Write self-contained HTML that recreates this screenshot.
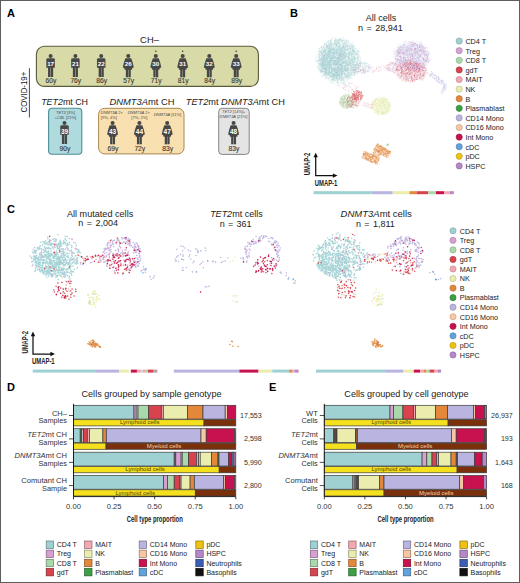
<!DOCTYPE html><html><head><meta charset="utf-8"><style>html,body{margin:0;padding:0;background:#fff;overflow:hidden;width:520px;height:583px;}svg{display:block;}</style></head><body><svg width="520" height="583" viewBox="0 0 520 583" font-family='"Liberation Sans", sans-serif'><text x="6.9" y="16.9" font-size="11" font-weight="bold" fill="#000">A</text>
<text x="290.0" y="16.6" font-size="11" font-weight="bold" fill="#000">B</text>
<text x="6.9" y="212.9" font-size="11" font-weight="bold" fill="#000">C</text>
<text x="6.9" y="390.5" font-size="11" font-weight="bold" fill="#000">D</text>
<text x="269.0" y="390.5" font-size="11" font-weight="bold" fill="#000">E</text>
<rect x="36.4" y="46.2" width="222.0" height="40.2" rx="8" fill="#d8daa8" stroke="#5a5b3a" stroke-width="1.1"/>
<text x="149.5" y="42.9" font-size="9.4" text-anchor="middle" fill="#222">CH–</text>
<g transform="translate(0,0)" fill="#474747"><circle cx="50.6" cy="55.95" r="2.0"/><path d="M46.35 67.7V59.6Q46.35 58.2 47.800000000000004 58.2H53.4Q54.85 58.2 54.85 59.6V67.7z"/><rect x="48.050000000000004" y="67" width="2.4" height="10.0"/><rect x="50.75" y="67" width="2.4" height="10.0"/></g>
<text x="50.6" y="66.48" font-size="6.2" text-anchor="middle" font-weight="bold" fill="#fff">17</text>
<text x="51.0" y="83.4" font-size="6.7" text-anchor="middle" fill="#383838" stroke="#383838" stroke-width="0.12">60y</text>
<g transform="translate(0,0)" fill="#474747"><circle cx="75.4" cy="55.95" r="2.0"/><path d="M71.15 67.7V59.6Q71.15 58.2 72.60000000000001 58.2H78.2Q79.65 58.2 79.65 59.6V67.7z"/><rect x="72.85000000000001" y="67" width="2.4" height="10.0"/><rect x="75.55000000000001" y="67" width="2.4" height="10.0"/></g>
<text x="75.4" y="66.48" font-size="6.2" text-anchor="middle" font-weight="bold" fill="#fff">21</text>
<text x="75.80000000000001" y="83.4" font-size="6.7" text-anchor="middle" fill="#383838" stroke="#383838" stroke-width="0.12">76y</text>
<g transform="translate(0,0)" fill="#474747"><circle cx="101.2" cy="55.95" r="2.0"/><path d="M96.95 67.7V59.6Q96.95 58.2 98.4 58.2H104.0Q105.45 58.2 105.45 59.6V67.7z"/><rect x="98.65" y="67" width="2.4" height="10.0"/><rect x="101.35000000000001" y="67" width="2.4" height="10.0"/></g>
<text x="101.2" y="66.48" font-size="6.2" text-anchor="middle" font-weight="bold" fill="#fff">22</text>
<text x="101.60000000000001" y="83.4" font-size="6.7" text-anchor="middle" fill="#383838" stroke="#383838" stroke-width="0.12">86y</text>
<g transform="translate(0,0)" fill="#474747"><ellipse cx="128.3" cy="55.95" rx="2.05" ry="2.0"/><polygon points="125.40,58.20 131.20,58.20 132.70,62.50 133.80,67.60 132.30,67.90 131.90,69.80 124.70,69.80 124.30,67.90 122.80,67.60 123.90,62.50"/><rect x="125.85000000000001" y="69" width="2.3" height="8.3"/><rect x="128.45000000000002" y="69" width="2.3" height="8.3"/></g>
<text x="128.3" y="66.48" font-size="6.2" text-anchor="middle" font-weight="bold" fill="#fff">26</text>
<text x="128.70000000000002" y="83.4" font-size="6.7" text-anchor="middle" fill="#383838" stroke="#383838" stroke-width="0.12">57y</text>
<g transform="translate(0,0)" fill="#474747"><ellipse cx="155.8" cy="55.95" rx="2.05" ry="2.0"/><polygon points="152.90,58.20 158.70,58.20 160.20,62.50 161.30,67.60 159.80,67.90 159.40,69.80 152.20,69.80 151.80,67.90 150.30,67.60 151.40,62.50"/><rect x="153.35000000000002" y="69" width="2.3" height="8.3"/><rect x="155.95000000000002" y="69" width="2.3" height="8.3"/></g>
<text x="155.8" y="66.48" font-size="6.2" text-anchor="middle" font-weight="bold" fill="#fff">30</text>
<text x="156.20000000000002" y="83.4" font-size="6.7" text-anchor="middle" fill="#383838" stroke="#383838" stroke-width="0.12">71y</text>
<circle cx="155.8" cy="51.2" r="0.75" fill="#333"/>
<g transform="translate(0,0)" fill="#474747"><ellipse cx="182.7" cy="55.95" rx="2.05" ry="2.0"/><polygon points="179.80,58.20 185.60,58.20 187.10,62.50 188.20,67.60 186.70,67.90 186.30,69.80 179.10,69.80 178.70,67.90 177.20,67.60 178.30,62.50"/><rect x="180.25" y="69" width="2.3" height="8.3"/><rect x="182.85" y="69" width="2.3" height="8.3"/></g>
<text x="182.7" y="66.48" font-size="6.2" text-anchor="middle" font-weight="bold" fill="#fff">31</text>
<text x="183.1" y="83.4" font-size="6.7" text-anchor="middle" fill="#383838" stroke="#383838" stroke-width="0.12">81y</text>
<circle cx="182.7" cy="51.2" r="0.75" fill="#333"/>
<g transform="translate(0,0)" fill="#474747"><ellipse cx="209.3" cy="55.95" rx="2.05" ry="2.0"/><polygon points="206.40,58.20 212.20,58.20 213.70,62.50 214.80,67.60 213.30,67.90 212.90,69.80 205.70,69.80 205.30,67.90 203.80,67.60 204.90,62.50"/><rect x="206.85000000000002" y="69" width="2.3" height="8.3"/><rect x="209.45000000000002" y="69" width="2.3" height="8.3"/></g>
<text x="209.3" y="66.48" font-size="6.2" text-anchor="middle" font-weight="bold" fill="#fff">32</text>
<text x="209.70000000000002" y="83.4" font-size="6.7" text-anchor="middle" fill="#383838" stroke="#383838" stroke-width="0.12">84y</text>
<g transform="translate(0,0)" fill="#474747"><ellipse cx="236.2" cy="55.95" rx="2.05" ry="2.0"/><polygon points="233.30,58.20 239.10,58.20 240.60,62.50 241.70,67.60 240.20,67.90 239.80,69.80 232.60,69.80 232.20,67.90 230.70,67.60 231.80,62.50"/><rect x="233.75" y="69" width="2.3" height="8.3"/><rect x="236.35" y="69" width="2.3" height="8.3"/></g>
<text x="236.2" y="66.48" font-size="6.2" text-anchor="middle" font-weight="bold" fill="#fff">33</text>
<text x="236.6" y="83.4" font-size="6.7" text-anchor="middle" fill="#383838" stroke="#383838" stroke-width="0.12">89y</text>
<circle cx="236.2" cy="51.2" r="0.75" fill="#333"/>
<line x1="29.4" y1="68.2" x2="29.4" y2="117.5" stroke="#333" stroke-width="0.9"/>
<text transform="translate(27.4,92.1) rotate(-90) scale(0.93,1)" font-size="8.4" text-anchor="middle" fill="#222">COVID-19+</text>
<text x="41.2" y="105.3" font-size="8.9" fill="#222"><tspan font-style="italic">TET2</tspan>mt CH</text>
<text x="109.4" y="104.5" font-size="9.4" fill="#222"><tspan font-style="italic">DNMT3A</tspan>mt CH</text>
<text x="185.8" y="104.5" font-size="9.2" fill="#222"><tspan font-style="italic">TET2</tspan>mt <tspan font-style="italic">DNMT3A</tspan>mt CH</text>
<rect x="48.6" y="108.3" width="33.2" height="46.0" rx="3.5" fill="#afdade" stroke="#4f8f96" stroke-width="1.1"/>
<rect x="98.6" y="108.3" width="85.4" height="45.6" rx="6" fill="#f9e0b0" stroke="#a8884f" stroke-width="1.0"/>
<rect x="218.7" y="108.3" width="30.5" height="46.1" rx="3.5" fill="#e4e4e4" stroke="#858585" stroke-width="1.0"/>
<text x="65.4" y="114.4" font-size="4.0" text-anchor="middle" fill="#4a4a4a"><tspan font-style="italic">TET2</tspan> [3%]</text>
<text x="65.4" y="119.0" font-size="4.0" text-anchor="middle" fill="#4a4a4a">+<tspan font-style="italic">CBL</tspan> [21%]</text>
<text x="100.8" y="114.1" font-size="4.0" text-anchor="start" fill="#4a4a4a"><tspan font-style="italic">DNMT3A</tspan> 2×</text>
<text x="100.8" y="118.7" font-size="4.0" text-anchor="start" fill="#4a4a4a">[9%, 4%]</text>
<text x="127.7" y="114.1" font-size="4.0" text-anchor="start" fill="#4a4a4a"><tspan font-style="italic">DNMT3A</tspan> 2×</text>
<text x="131.3" y="118.7" font-size="4.0" text-anchor="start" fill="#4a4a4a">[7%, 2%]</text>
<text x="153.7" y="115.8" font-size="4.0" text-anchor="start" fill="#4a4a4a"><tspan font-style="italic">DNMT3A</tspan> [11%]</text>
<text x="233.7" y="113.3" font-size="4.0" text-anchor="middle" fill="#4a4a4a"><tspan font-style="italic">TET2</tspan> [14%]+</text>
<text x="233.5" y="117.9" font-size="4.0" text-anchor="middle" fill="#4a4a4a"><tspan font-style="italic">DNMT3A</tspan> [21%]</text>
<g transform="translate(0,67.0)" fill="#474747"><circle cx="64.5" cy="55.95" r="2.0"/><path d="M60.25 67.7V59.6Q60.25 58.2 61.7 58.2H67.3Q68.75 58.2 68.75 59.6V67.7z"/><rect x="61.95" y="67" width="2.4" height="10.0"/><rect x="64.65" y="67" width="2.4" height="10.0"/></g>
<text x="64.5" y="133.59" font-size="6.5" text-anchor="middle" font-weight="bold" fill="#fff">39</text>
<text x="64.9" y="150.8" font-size="6.7" text-anchor="middle" fill="#383838" stroke="#383838" stroke-width="0.12">90y</text>
<g transform="translate(0,67.0)" fill="#474747"><ellipse cx="112.6" cy="55.95" rx="2.05" ry="2.0"/><polygon points="109.70,58.20 115.50,58.20 117.00,62.50 118.10,67.60 116.60,67.90 116.20,69.80 109.00,69.80 108.60,67.90 107.10,67.60 108.20,62.50"/><rect x="110.14999999999999" y="69" width="2.3" height="8.3"/><rect x="112.75" y="69" width="2.3" height="8.3"/></g>
<text x="112.6" y="133.59" font-size="6.5" text-anchor="middle" font-weight="bold" fill="#fff">43</text>
<text x="113.0" y="151" font-size="6.7" text-anchor="middle" fill="#383838" stroke="#383838" stroke-width="0.12">69y</text>
<g transform="translate(0,67.0)" fill="#474747"><ellipse cx="139.4" cy="55.95" rx="2.05" ry="2.0"/><polygon points="136.50,58.20 142.30,58.20 143.80,62.50 144.90,67.60 143.40,67.90 143.00,69.80 135.80,69.80 135.40,67.90 133.90,67.60 135.00,62.50"/><rect x="136.95000000000002" y="69" width="2.3" height="8.3"/><rect x="139.55" y="69" width="2.3" height="8.3"/></g>
<text x="139.4" y="133.59" font-size="6.5" text-anchor="middle" font-weight="bold" fill="#fff">44</text>
<text x="139.8" y="151" font-size="6.7" text-anchor="middle" fill="#383838" stroke="#383838" stroke-width="0.12">72y</text>
<g transform="translate(0,67.0)" fill="#474747"><ellipse cx="167.2" cy="55.95" rx="2.05" ry="2.0"/><polygon points="164.30,58.20 170.10,58.20 171.60,62.50 172.70,67.60 171.20,67.90 170.80,69.80 163.60,69.80 163.20,67.90 161.70,67.60 162.80,62.50"/><rect x="164.75" y="69" width="2.3" height="8.3"/><rect x="167.35" y="69" width="2.3" height="8.3"/></g>
<text x="167.2" y="133.59" font-size="6.5" text-anchor="middle" font-weight="bold" fill="#fff">47</text>
<text x="167.6" y="151" font-size="6.7" text-anchor="middle" fill="#383838" stroke="#383838" stroke-width="0.12">83y</text>
<g transform="translate(0,67.0)" fill="#474747"><ellipse cx="233.6" cy="55.95" rx="2.05" ry="2.0"/><polygon points="230.70,58.20 236.50,58.20 238.00,62.50 239.10,67.60 237.60,67.90 237.20,69.80 230.00,69.80 229.60,67.90 228.10,67.60 229.20,62.50"/><rect x="231.15" y="69" width="2.3" height="8.3"/><rect x="233.75" y="69" width="2.3" height="8.3"/></g>
<text x="233.6" y="133.59" font-size="6.5" text-anchor="middle" font-weight="bold" fill="#fff">48</text>
<text x="234.0" y="151" font-size="6.7" text-anchor="middle" fill="#383838" stroke="#383838" stroke-width="0.12">83y</text>
<path d="M315.8 60.9h0M335.1 37.9h0M334.6 77.7h0M324.3 67.2h0M342.5 55.1h0M347.7 56.7h0M342.9 58.0h0M353.6 70.9h0M342.3 61.8h0M350.3 49.4h0M320.7 59.9h0M347.1 74.4h0M343.3 64.7h0M327.5 54.5h0M324.8 59.7h0M331.8 64.0h0M333.0 55.2h0M318.1 53.3h0M325.8 52.5h0M336.8 59.7h0M326.3 53.5h0M352.4 62.2h0M329.8 46.0h0M354.8 73.1h0M339.4 52.9h0M331.6 45.8h0M346.3 76.2h0M351.3 59.3h0M353.3 51.7h0M341.0 41.1h0M327.9 46.9h0M326.2 56.2h0M321.7 59.1h0M341.4 51.4h0M341.6 47.3h0M352.5 60.9h0M344.3 60.8h0M348.4 58.0h0M347.2 75.4h0M321.2 56.9h0M330.3 44.5h0M344.9 61.1h0M352.8 48.4h0M342.1 71.0h0M330.3 63.3h0M328.5 74.1h0M338.5 43.6h0M350.4 63.2h0M337.2 83.3h0M354.8 56.9h0M355.6 54.9h0M333.6 52.5h0M326.0 42.8h0M327.3 47.0h0M336.4 42.5h0M340.9 47.1h0M328.7 53.0h0M332.4 59.2h0M323.2 60.7h0M324.8 65.0h0M351.3 68.8h0M357.9 54.7h0M338.7 78.1h0M355.2 64.9h0M347.9 70.6h0M345.0 67.1h0M351.2 60.7h0M350.3 45.0h0M337.4 70.1h0M344.5 68.0h0M328.5 64.1h0M348.3 69.7h0M336.4 77.3h0M335.9 48.4h0M358.9 59.8h0M328.3 41.6h0M329.1 78.4h0M351.4 78.3h0M327.7 53.8h0M334.8 48.7h0M339.1 44.2h0M341.0 72.0h0M350.4 57.9h0M345.9 49.3h0M330.5 49.9h0M328.3 63.5h0M359.3 60.3h0M326.1 64.2h0M351.3 55.9h0M339.7 54.0h0M319.3 60.7h0M325.6 55.2h0M339.6 70.1h0M349.9 68.2h0M336.3 63.2h0M346.0 50.2h0M325.8 67.7h0M358.2 59.2h0M347.4 56.3h0M347.9 44.6h0M350.8 60.8h0M333.0 45.4h0M332.3 53.9h0M354.5 74.5h0M326.0 73.5h0M330.3 48.5h0M344.5 48.0h0M329.1 48.7h0M332.7 47.4h0M338.2 83.0h0M352.5 66.1h0M329.3 53.2h0M341.2 51.4h0M349.3 57.7h0M334.2 66.8h0M341.9 53.8h0M323.1 47.2h0M329.6 55.0h0M338.9 46.4h0M337.2 77.3h0M357.3 57.8h0M343.4 66.8h0M331.8 41.7h0M325.9 65.7h0M347.6 44.0h0M341.1 67.8h0M321.3 70.8h0M327.4 50.4h0M328.9 64.0h0M331.5 44.6h0M334.6 77.3h0M358.1 58.4h0M331.9 60.7h0M327.4 61.6h0M333.6 78.7h0M339.4 54.4h0M325.5 72.3h0M343.6 63.1h0M328.6 56.3h0M334.7 68.8h0M338.0 46.6h0M352.8 58.3h0M337.1 39.9h0M338.8 51.0h0M345.5 53.1h0M333.1 76.1h0M352.1 57.5h0M325.9 67.8h0M342.9 69.1h0M324.4 64.9h0M323.3 67.0h0M341.7 52.6h0M340.1 55.6h0M323.1 66.2h0M345.8 77.0h0M328.7 50.0h0M336.7 73.2h0M326.5 63.3h0M353.3 61.7h0M351.1 51.4h0M329.7 46.8h0M350.0 64.2h0M323.7 66.9h0M348.4 67.5h0M331.5 77.2h0M355.2 67.4h0M323.4 51.0h0M349.6 53.6h0M335.2 74.8h0M338.0 60.1h0M327.4 45.5h0M353.2 67.2h0M333.4 55.0h0M338.6 54.2h0M324.8 58.4h0M351.5 73.8h0M330.7 51.4h0M321.6 57.3h0M342.6 40.9h0M328.3 71.2h0M329.6 61.7h0M322.9 67.7h0M323.5 54.6h0M333.3 75.8h0M338.5 67.4h0M320.1 65.9h0M342.3 73.6h0M324.6 72.2h0M352.5 71.0h0M347.7 67.9h0M328.9 67.2h0M334.4 75.3h0M345.1 47.4h0M336.2 66.9h0M346.4 75.1h0M340.7 42.7h0M361.1 61.5h0M342.3 62.7h0M339.1 67.8h0M339.6 55.8h0M323.6 70.2h0M334.4 70.9h0M326.5 46.0h0M354.0 54.8h0M345.4 58.9h0M345.6 77.2h0M336.9 49.7h0M325.9 56.6h0M325.4 50.1h0M334.8 67.7h0M352.7 52.4h0M340.1 73.2h0M358.1 63.4h0M338.1 60.4h0M336.9 63.8h0M356.0 53.9h0M344.9 52.0h0M331.6 59.2h0M352.4 45.3h0M334.5 63.3h0M327.9 77.7h0M338.7 48.5h0M329.8 50.9h0M342.9 67.6h0M344.1 68.8h0M345.0 70.8h0M347.8 45.4h0M336.3 74.3h0M326.1 50.1h0M329.2 56.9h0M323.8 42.2h0M325.3 72.8h0M356.7 72.6h0M345.1 71.5h0M346.2 77.2h0M328.8 72.5h0M357.0 59.8h0M331.5 68.1h0M334.3 54.5h0M348.9 77.7h0M343.7 50.5h0M334.5 65.0h0M324.9 66.1h0M336.7 45.1h0M351.4 75.8h0M324.8 64.7h0M358.2 61.6h0M343.1 44.2h0M322.1 71.1h0M330.6 61.5h0M337.8 64.0h0M352.8 56.6h0M341.4 80.0h0M343.5 55.1h0M333.0 57.8h0M347.6 49.9h0M321.5 46.8h0M345.1 58.0h0M355.1 59.3h0M349.5 63.3h0M330.0 43.1h0M347.1 45.3h0M327.5 47.8h0M354.2 52.1h0M322.4 57.1h0M324.1 64.2h0M344.1 60.3h0M323.4 66.4h0M354.5 64.9h0M337.3 80.0h0M321.3 53.7h0M349.3 54.3h0M338.2 61.2h0M324.3 43.8h0M325.7 77.2h0M339.7 71.1h0M357.4 71.9h0M319.2 60.2h0M320.4 64.3h0M332.8 56.3h0M352.7 52.0h0M330.0 57.1h0M334.5 67.5h0M345.3 76.7h0M326.5 69.9h0M325.7 61.6h0M336.8 62.3h0M333.7 49.4h0M344.1 64.2h0M323.2 71.5h0M341.0 66.4h0M328.8 47.0h0M339.1 54.4h0M325.1 63.5h0M352.4 42.6h0M357.5 57.3h0M332.8 57.3h0M330.9 69.7h0M350.7 73.3h0M337.2 75.5h0M334.3 75.4h0M344.0 54.2h0M332.9 63.4h0M329.4 75.6h0M338.5 57.6h0M341.8 60.4h0M352.5 62.5h0M339.4 61.4h0M332.8 53.0h0M339.8 39.4h0M333.4 63.7h0M335.4 67.0h0M330.5 62.1h0M355.2 61.2h0M338.8 44.1h0M345.2 65.9h0M334.0 75.6h0M356.0 65.0h0M323.0 60.4h0M326.5 68.2h0M339.7 77.5h0M352.4 51.2h0M331.0 43.1h0M330.8 57.9h0M354.7 50.2h0M325.3 54.7h0M337.7 75.9h0M321.8 53.1h0M355.2 52.7h0M322.7 49.1h0M326.7 78.1h0M335.6 78.2h0M321.0 52.8h0M331.7 47.2h0M339.2 62.7h0M352.4 54.5h0M342.0 50.6h0M329.3 69.0h0M341.7 53.2h0M327.3 55.4h0M347.7 69.1h0M334.0 68.9h0M345.1 43.8h0M323.0 50.2h0M349.6 47.6h0M347.9 52.6h0M333.0 73.5h0M334.8 61.1h0M348.9 76.6h0M340.8 47.4h0M331.2 55.9h0M347.2 46.7h0M339.3 57.6h0M330.9 50.0h0M354.7 63.0h0M321.5 69.2h0M336.5 74.5h0M323.0 71.1h0M331.5 43.1h0M341.8 40.0h0M335.1 44.2h0M325.8 47.2h0M328.1 44.0h0M329.6 43.9h0M329.3 53.6h0M331.8 77.9h0M334.5 52.0h0M321.3 49.8h0M341.7 52.5h0M344.1 49.8h0M328.2 52.3h0M331.9 64.7h0M340.0 63.9h0M325.8 59.9h0M324.5 64.3h0M339.2 65.1h0M333.0 43.2h0M341.7 74.9h0M323.8 50.0h0M330.4 74.3h0M341.0 76.4h0M322.8 57.7h0M342.7 40.2h0M341.3 49.5h0M340.5 70.4h0M320.6 60.6h0M354.8 69.9h0M337.3 42.6h0M333.0 80.1h0M358.7 65.2h0M321.6 53.2h0M342.4 54.6h0M326.8 48.6h0M326.3 64.1h0M341.6 74.7h0M352.6 67.5h0M331.5 49.0h0M328.5 74.3h0M339.0 67.6h0M341.1 55.6h0M330.2 51.2h0M337.6 53.5h0M324.9 52.6h0M335.7 64.1h0M328.7 72.4h0M342.8 38.5h0M352.6 56.7h0M327.0 47.8h0M324.1 55.2h0M343.8 79.6h0M357.7 52.2h0M322.5 62.4h0M329.6 73.6h0M333.6 69.9h0M315.8 56.0h0M345.0 51.8h0M343.5 47.7h0M350.0 51.5h0M340.5 65.1h0M346.6 65.8h0M350.9 47.8h0M352.0 75.0h0M327.1 61.7h0M346.5 74.9h0M338.4 67.6h0M353.9 58.4h0M345.0 46.0h0M326.3 57.0h0M342.1 42.5h0M355.0 49.1h0M337.8 81.0h0M347.9 65.6h0M342.6 80.6h0M324.7 56.9h0M319.8 56.7h0M338.5 40.1h0M350.4 48.6h0M338.9 55.7h0M346.3 62.8h0M349.7 55.2h0M332.6 55.8h0M332.2 46.9h0M329.5 68.2h0M345.1 73.3h0M349.4 54.9h0M344.3 69.8h0M345.1 62.8h0M344.3 48.2h0M337.1 72.1h0M337.3 45.9h0M339.9 77.0h0M345.7 77.7h0M320.8 47.5h0M331.2 76.4h0M337.4 76.2h0M320.6 70.0h0M339.6 46.7h0M330.3 54.3h0M323.2 64.2h0M322.0 72.0h0M329.5 46.9h0M323.2 56.5h0M335.6 53.5h0M328.0 55.7h0M354.4 52.7h0M347.0 51.5h0M351.6 54.2h0M336.6 78.3h0M337.1 81.0h0M338.1 61.1h0M347.2 73.1h0M349.3 59.6h0M348.3 56.2h0M320.3 51.8h0M326.3 50.7h0M356.9 63.4h0M326.1 44.9h0M340.4 53.9h0M337.9 64.9h0M329.5 48.6h0M327.8 71.6h0M343.2 58.1h0M335.7 80.3h0M335.1 67.8h0M353.9 60.4h0M347.5 49.7h0M346.6 47.8h0M348.0 42.4h0M327.9 46.5h0M329.2 63.7h0M345.7 46.0h0M334.9 69.9h0M327.8 52.5h0M338.3 83.1h0M337.7 79.6h0M340.6 38.9h0M329.9 57.9h0M343.4 58.5h0M319.6 64.6h0M332.1 69.1h0M318.9 60.3h0M318.9 58.8h0M340.3 60.9h0M323.0 55.4h0M338.6 81.0h0M342.1 70.4h0M327.8 81.0h0M342.5 46.5h0M353.1 71.6h0M325.5 65.7h0M354.6 52.2h0M336.5 82.6h0M347.7 42.2h0M353.4 59.4h0M345.5 44.7h0M349.6 52.6h0M354.0 65.2h0M324.8 44.6h0M325.0 60.1h0M348.0 71.5h0M330.3 65.5h0M334.3 66.0h0M330.1 45.5h0M356.2 66.8h0M335.5 69.0h0M319.1 70.1h0M333.1 60.5h0M336.2 76.7h0M357.1 61.2h0M345.3 54.0h0M355.7 70.1h0M335.8 73.7h0M350.2 73.6h0M351.2 67.9h0M352.0 49.5h0M354.1 69.8h0M320.0 61.3h0M321.2 73.0h0M323.0 51.1h0M355.8 67.7h0M337.0 63.6h0M351.4 48.7h0M359.9 62.0h0M345.2 47.9h0M351.5 69.8h0M348.3 74.9h0M333.0 76.6h0M339.6 69.4h0M319.7 52.0h0M334.1 60.6h0M347.1 64.6h0M342.3 48.6h0M347.3 73.8h0M355.0 68.3h0M344.3 48.7h0M343.8 77.5h0M323.8 46.0h0M331.3 71.0h0M355.9 51.3h0M345.1 41.5h0M330.3 51.6h0M324.0 75.9h0M338.7 56.5h0M345.2 72.3h0M333.4 61.1h0M349.2 58.1h0M322.8 72.9h0M335.4 44.6h0M323.0 48.2h0M345.2 48.1h0M336.2 39.6h0M337.3 77.4h0M318.5 63.8h0M323.6 47.5h0M332.6 76.9h0M342.9 54.1h0M358.2 59.7h0M342.9 67.7h0M347.4 71.7h0M346.2 70.6h0M324.6 54.8h0M355.1 67.5h0M341.4 77.4h0M344.6 65.5h0M327.8 55.1h0M354.5 58.3h0M346.2 45.1h0M339.5 58.2h0M344.2 68.3h0M355.8 71.9h0M347.8 78.9h0M335.5 71.3h0M328.3 52.5h0M326.9 47.4h0M329.0 67.2h0M340.1 68.4h0M348.1 70.5h0M351.5 47.3h0M343.2 68.7h0M348.5 50.2h0M352.3 43.6h0M328.4 55.7h0M335.7 72.5h0M343.0 69.0h0M332.5 68.5h0M331.5 72.2h0M353.3 47.5h0M339.7 40.1h0M353.7 49.2h0M352.1 46.0h0M324.1 54.4h0M345.7 59.0h0M339.8 46.8h0M329.2 45.0h0M337.6 43.7h0M346.3 61.3h0M337.0 73.1h0M324.9 60.4h0M331.7 81.6h0M324.5 65.6h0M335.4 41.6h0M333.5 69.9h0M336.3 46.1h0M329.4 55.6h0M344.0 47.8h0M341.7 71.6h0M342.7 80.8h0M336.1 55.7h0M340.0 78.8h0M346.4 61.2h0M325.4 68.8h0M342.1 43.8h0M326.0 46.7h0M339.7 69.8h0M350.9 67.0h0M347.3 76.2h0M337.2 69.8h0M353.1 46.5h0M350.6 53.1h0M323.9 48.2h0M319.8 55.6h0M342.4 52.9h0M335.3 43.5h0M355.7 68.0h0M352.1 50.0h0M355.0 65.8h0M357.7 65.2h0M321.8 70.8h0M324.7 48.2h0M330.1 61.7h0M334.3 59.4h0M326.4 75.8h0M330.4 60.1h0M360.5 63.7h0M320.8 70.6h0M349.6 46.3h0M353.4 46.4h0M346.9 63.9h0M322.8 64.8h0M345.4 46.9h0M334.6 62.2h0M327.8 67.8h0M344.4 81.6h0M328.8 69.0h0M353.6 50.5h0M336.5 44.6h0M338.8 61.6h0M349.6 62.0h0M337.7 47.5h0M324.2 51.0h0M349.4 74.7h0M345.5 48.9h0M336.8 66.8h0M327.6 74.6h0M340.1 78.0h0M330.2 40.7h0M327.7 58.7h0M330.2 47.3h0M356.7 51.1h0M351.0 52.2h0M334.3 77.4h0M326.5 53.5h0M331.0 54.1h0M332.4 78.3h0M340.5 51.9h0M351.0 69.8h0M336.2 52.1h0M330.3 47.3h0M350.9 44.7h0M333.5 76.4h0M328.8 67.4h0M339.4 59.7h0M358.0 69.2h0M331.4 53.3h0M349.6 56.8h0M339.7 77.3h0M331.2 45.9h0M328.3 51.5h0M322.4 63.0h0M341.6 41.8h0M354.0 56.5h0M326.2 48.7h0M339.2 58.8h0M351.2 46.7h0M339.4 43.5h0M349.8 73.6h0M349.3 48.6h0M335.6 38.8h0M330.1 74.5h0M344.6 50.2h0M329.1 60.7h0M337.5 57.3h0M323.0 65.3h0M334.7 52.7h0M350.2 52.9h0M328.2 63.3h0M343.1 69.8h0M337.5 60.3h0M329.9 54.6h0M353.2 47.9h0M332.7 53.3h0M340.5 48.7h0M341.1 82.7h0M360.3 57.0h0M349.2 67.3h0M353.4 64.5h0M358.0 65.8h0M359.8 63.7h0M321.8 54.4h0M334.1 69.4h0M350.2 55.7h0M329.1 54.0h0M329.2 74.0h0M344.2 42.6h0M337.9 48.7h0M357.5 57.4h0M326.0 72.6h0M323.9 68.6h0M320.3 69.9h0M319.6 67.7h0M325.6 77.0h0M336.9 72.0h0M322.4 60.5h0M340.2 79.1h0M347.8 73.3h0M336.6 77.5h0M341.3 55.5h0M319.9 58.9h0M326.6 53.6h0M351.9 65.2h0M340.7 79.5h0M331.3 66.0h0M323.4 60.9h0M355.8 69.4h0M343.0 76.3h0M338.6 64.4h0M334.0 62.8h0M351.7 47.0h0M332.7 51.9h0M324.3 69.4h0M336.1 60.7h0M343.8 43.7h0M346.1 56.5h0M356.3 68.3h0M349.6 61.1h0M347.2 57.0h0M324.3 55.2h0M330.0 48.2h0M324.3 55.3h0M334.9 42.4h0M318.0 60.6h0M322.8 69.4h0M354.6 59.1h0M337.7 40.9h0M348.6 64.6h0M318.7 51.2h0M342.8 72.2h0M348.5 53.5h0M357.2 67.7h0M357.6 71.9h0M332.4 69.5h0M341.9 44.6h0M337.6 52.0h0M339.0 65.1h0M327.1 60.7h0M334.3 69.1h0M340.1 48.7h0M348.9 75.3h0M332.1 49.5h0M350.3 45.4h0M331.2 50.3h0M351.6 72.8h0M347.5 67.6h0M324.6 51.9h0M353.7 72.9h0M331.8 48.4h0M357.3 57.3h0M358.5 56.7h0M352.5 53.9h0M343.4 47.7h0M332.9 54.2h0M331.9 74.2h0M347.7 67.0h0M342.3 51.2h0M329.5 68.1h0M339.0 40.7h0M328.8 56.1h0M343.0 54.1h0M352.7 59.4h0M344.9 75.1h0M341.0 54.6h0M336.5 45.4h0M335.0 60.9h0M348.9 61.3h0M321.5 61.1h0M331.9 79.5h0M357.9 53.0h0M344.4 63.8h0M329.7 51.5h0M330.2 56.2h0M331.4 55.4h0M346.8 69.2h0M333.7 46.5h0M336.3 77.9h0M338.3 59.0h0M321.7 68.1h0M326.1 68.1h0M344.3 43.3h0M329.0 63.2h0M337.6 66.6h0M328.7 69.9h0M344.5 75.2h0M324.3 57.5h0M350.2 48.3h0M355.4 70.4h0M354.4 72.7h0M344.3 79.5h0M348.7 58.6h0M336.2 44.6h0M327.3 73.4h0M325.6 70.7h0M331.7 61.0h0M357.8 53.0h0M330.7 72.7h0M333.7 61.8h0M327.0 67.6h0M332.2 64.6h0M343.7 67.1h0M352.7 49.6h0M353.2 69.9h0M335.3 69.6h0M339.0 42.1h0M357.3 54.6h0M322.3 64.6h0M337.2 62.5h0M338.7 78.2h0M352.2 64.2h0M324.0 75.3h0M350.1 46.2h0M346.1 53.8h0M320.7 63.2h0M325.7 50.0h0M331.9 75.6h0M335.5 57.2h0M355.5 59.2h0M333.7 81.0h0M346.7 63.6h0M342.3 47.1h0M345.0 67.4h0M349.4 72.5h0M345.8 68.7h0M343.5 51.9h0M347.2 49.3h0M328.5 62.9h0M331.8 43.7h0M338.6 56.0h0M339.7 50.0h0M332.5 57.1h0M355.5 54.9h0M327.2 40.0h0M335.9 80.1h0M335.4 74.3h0M320.7 61.5h0M341.6 56.1h0M342.9 71.5h0M319.4 59.1h0M325.8 46.9h0M348.4 65.1h0M327.1 60.3h0M335.3 49.0h0M328.2 48.7h0M338.7 72.0h0M344.2 45.0h0M346.1 76.8h0M326.2 66.6h0M336.6 71.7h0M346.2 70.3h0M334.6 53.9h0M350.8 68.4h0M342.1 61.3h0M325.2 73.2h0M326.6 75.6h0M328.9 53.6h0M323.7 51.9h0M320.8 71.9h0M328.4 48.3h0M349.3 64.8h0M325.5 49.3h0M349.3 76.8h0M341.1 76.9h0M340.5 48.2h0M322.7 71.4h0M352.8 67.2h0M336.5 74.1h0M325.6 70.1h0M335.7 75.9h0M316.8 58.0h0M337.5 55.9h0M334.1 78.9h0M342.9 46.7h0M338.1 55.0h0M338.8 51.2h0M334.5 78.2h0M326.3 66.8h0M340.7 54.0h0M353.9 65.7h0M347.0 48.8h0M342.4 54.1h0M351.9 66.6h0M337.4 67.5h0M329.3 80.3h0M353.9 46.7h0M324.5 71.3h0M343.9 51.3h0M325.5 61.3h0M330.6 76.4h0M341.5 74.9h0M333.2 63.0h0M338.9 41.8h0M354.4 46.3h0M352.2 74.8h0M347.9 70.2h0M341.9 48.7h0M352.1 50.3h0M327.3 74.8h0M330.8 80.4h0M346.9 80.1h0M353.1 62.2h0M319.4 54.5h0M327.3 73.1h0M345.6 59.5h0M341.9 79.5h0M339.3 49.4h0M332.1 77.8h0M351.4 58.8h0M332.1 56.0h0M331.6 39.9h0M339.5 64.9h0M334.3 43.3h0M343.2 62.7h0M325.7 50.8h0M330.6 75.3h0M325.0 75.2h0M340.4 62.2h0M346.4 46.0h0M344.9 48.9h0M324.8 44.0h0M354.7 58.0h0M330.7 76.6h0M346.4 54.9h0M340.2 67.8h0M330.0 46.4h0M353.0 72.0h0M324.8 71.2h0M349.9 52.6h0M342.2 77.1h0M332.8 74.7h0M351.6 59.9h0M352.4 45.7h0M352.0 67.7h0M350.4 69.4h0M340.3 65.6h0M323.0 50.6h0M342.5 43.3h0M327.4 73.6h0M341.6 47.6h0M329.3 44.7h0M326.8 45.4h0M331.7 40.5h0M325.7 64.6h0M328.5 61.9h0M350.0 52.3h0M353.4 63.7h0M325.1 62.4h0M330.8 60.4h0M322.7 67.1h0M320.5 62.0h0M352.1 58.9h0M330.2 55.1h0M323.1 62.9h0M351.3 65.8h0M349.9 50.9h0M333.9 73.7h0M337.0 76.9h0M350.2 66.1h0M354.6 48.7h0M334.1 83.9h0M338.1 60.0h0M339.1 76.4h0M357.8 56.3h0M325.1 58.4h0M342.1 81.0h0M319.2 56.2h0M348.6 72.6h0M328.3 72.5h0M341.3 65.5h0M321.5 52.3h0M351.1 68.3h0M339.3 63.8h0M346.1 68.7h0M338.2 74.0h0M319.5 56.6h0M335.0 63.7h0M332.9 56.7h0M349.9 55.0h0M343.2 53.5h0M327.5 58.7h0M325.2 47.6h0M353.7 58.9h0M334.4 47.4h0M330.4 64.3h0M335.4 77.0h0M345.6 52.2h0M319.2 63.7h0M328.6 66.7h0M339.3 47.6h0M327.0 75.3h0M326.3 57.3h0M323.8 51.7h0M351.8 55.4h0M333.2 74.9h0M332.4 48.5h0M336.5 61.9h0M322.0 51.9h0M329.6 47.3h0M327.2 52.4h0M353.3 70.9h0M346.4 40.2h0M355.0 65.0h0M326.0 78.8h0M346.3 53.0h0M347.8 49.1h0M344.3 52.6h0M321.3 67.3h0M339.0 43.7h0M339.2 59.3h0M356.5 70.4h0M348.1 75.9h0M320.8 68.8h0M319.4 54.5h0M341.2 55.4h0M340.3 75.6h0M348.4 53.8h0M354.5 52.1h0M339.2 73.4h0M331.0 70.7h0M331.5 48.6h0M353.9 50.3h0M354.4 62.0h0M340.5 55.8h0M337.4 48.8h0M353.0 70.0h0M350.4 59.8h0M336.0 63.8h0M340.0 84.7h0M349.5 77.5h0M329.4 48.0h0M343.8 52.5h0M347.4 63.7h0M328.2 72.8h0M349.5 59.0h0M344.5 44.0h0M343.1 77.6h0M340.7 72.7h0M326.4 63.7h0M325.9 53.5h0M325.0 71.4h0M348.6 52.5h0M336.4 76.0h0M347.2 78.5h0M341.5 78.8h0M335.4 44.0h0M343.2 56.8h0M324.3 57.3h0M329.5 50.8h0M321.2 55.4h0M329.5 76.1h0M347.2 53.7h0M344.2 74.1h0M337.1 70.2h0M334.6 44.0h0M341.4 51.5h0M345.2 73.0h0M337.3 73.4h0M360.5 69.4h0M340.6 48.1h0M358.1 60.5h0M328.2 66.3h0M339.7 56.4h0M350.6 71.0h0M345.2 50.7h0M360.1 62.2h0M330.3 52.6h0M339.3 46.6h0M319.0 51.3h0M354.0 64.8h0M329.5 52.2h0M339.5 74.5h0M334.1 73.3h0M350.7 64.3h0M341.9 38.3h0M328.8 40.7h0M349.6 72.6h0M333.1 48.4h0M345.5 65.0h0M324.3 68.8h0M326.1 54.3h0M329.5 56.0h0M350.7 60.1h0M319.1 60.6h0M347.4 67.2h0M330.6 44.8h0M347.4 46.5h0M345.5 61.8h0M351.4 45.3h0M321.6 46.9h0M343.2 62.1h0M343.1 62.1h0M352.3 62.5h0M351.8 45.6h0M324.2 71.5h0M334.8 71.4h0M326.4 69.4h0M330.7 60.5h0M332.8 41.3h0M330.9 51.0h0M338.2 76.0h0M333.3 54.5h0M335.4 64.5h0M340.3 64.8h0M351.1 53.9h0M326.8 59.8h0M349.4 75.9h0M337.0 81.0h0M342.3 79.6h0M337.5 58.9h0M339.0 66.2h0M319.9 61.1h0M336.5 58.9h0M349.7 62.5h0M335.9 47.7h0M318.2 58.2h0M331.1 71.9h0M339.3 62.6h0M342.6 57.7h0M355.4 70.5h0M351.9 59.1h0M343.6 40.5h0M319.5 66.3h0M352.4 61.4h0M324.3 68.5h0M340.9 53.0h0M342.7 46.8h0M356.7 53.6h0M322.2 64.8h0M337.1 71.7h0M338.9 50.7h0M354.9 58.8h0M327.7 47.7h0M340.2 46.0h0M338.5 52.9h0M330.1 57.4h0M321.1 53.4h0M347.8 65.0h0M324.0 47.7h0M345.7 64.3h0M339.4 49.0h0M360.9 59.9h0M331.0 44.6h0M339.0 59.2h0M348.8 65.6h0M355.7 65.8h0M322.2 51.7h0M360.9 60.1h0M329.6 69.0h0M336.5 48.7h0M349.5 46.2h0M337.7 68.8h0M352.4 50.3h0M337.8 79.9h0M337.6 69.1h0M322.3 70.8h0M339.1 71.5h0M332.6 63.2h0M346.2 66.0h0M333.9 53.2h0M340.8 80.4h0M331.2 70.3h0M338.4 47.8h0M347.2 52.2h0M339.2 39.7h0M351.9 53.4h0M346.0 54.7h0M344.1 61.9h0M358.8 51.4h0M352.8 68.3h0M331.5 59.1h0M322.9 67.6h0M341.6 73.0h0M340.9 77.5h0M345.1 69.4h0M330.2 51.3h0M332.8 79.1h0M345.2 57.3h0M337.4 41.7h0M338.8 76.2h0M351.6 57.1h0M333.5 61.6h0M341.0 52.7h0M329.1 62.3h0M347.2 55.9h0M327.8 58.2h0M349.7 68.5h0M325.5 43.9h0M347.8 64.6h0M354.4 69.7h0M344.0 68.7h0M332.0 67.8h0M331.9 61.2h0M335.2 56.6h0M341.0 48.7h0M327.9 64.5h0M341.3 51.3h0M337.8 61.7h0M338.3 40.2h0M334.4 60.8h0M358.1 64.7h0M356.0 54.1h0M341.2 44.8h0M346.4 66.4h0M346.7 61.7h0M324.0 55.6h0M342.6 45.8h0M321.8 70.5h0M347.9 55.1h0M336.2 55.0h0M346.4 62.6h0M351.5 69.8h0M343.4 63.3h0M338.9 62.6h0M334.0 70.5h0M340.7 52.8h0M354.2 59.4h0M322.4 51.9h0M350.1 57.8h0M324.3 59.6h0M331.4 69.0h0M356.5 61.4h0M326.8 61.1h0M324.8 65.6h0M339.5 68.3h0M341.0 50.5h0M327.4 58.8h0M341.6 73.3h0M327.1 66.7h0M337.2 62.1h0M350.7 60.1h0M321.6 51.1h0M322.9 66.5h0M352.2 64.3h0M345.3 46.8h0M333.7 72.1h0M349.5 51.5h0M339.0 47.9h0M350.6 48.4h0M318.6 61.5h0M347.2 49.4h0M348.1 58.7h0M342.3 72.8h0M333.4 60.4h0M339.0 64.3h0M323.4 58.8h0M325.9 77.5h0M347.8 40.0h0M353.2 64.7h0M330.3 41.0h0M350.8 63.8h0M325.2 59.2h0M353.6 50.8h0M328.8 56.4h0M338.8 78.9h0M343.5 75.5h0M326.6 66.2h0M336.2 62.5h0M325.7 60.6h0M325.9 59.1h0M328.2 77.3h0M317.7 68.2h0M347.0 69.6h0M337.3 45.4h0M345.2 70.5h0M339.3 65.3h0M351.6 62.2h0M339.3 45.5h0M339.6 79.9h0M323.6 60.9h0M342.6 58.4h0M353.1 70.0h0M326.2 50.7h0M338.0 49.7h0M350.5 53.7h0M354.1 51.0h0M354.2 56.1h0M336.6 72.5h0M330.3 43.6h0M319.6 68.5h0M346.4 63.0h0M327.4 56.5h0M320.3 65.3h0M351.3 43.7h0M340.8 76.2h0M338.9 74.3h0M327.2 45.4h0M352.1 72.0h0M339.3 74.6h0M330.1 54.9h0M328.9 73.5h0M336.3 78.6h0M339.3 73.3h0M318.7 64.2h0M342.1 73.8h0M350.1 69.2h0M337.8 74.6h0M328.2 61.9h0M340.5 53.0h0M349.1 66.0h0M335.3 61.9h0M321.8 52.7h0M346.1 75.0h0M348.1 43.7h0M334.3 58.8h0M349.3 57.8h0M341.8 50.6h0M334.4 62.7h0M348.5 63.1h0M342.7 59.8h0M338.1 60.5h0M338.1 58.1h0M322.7 59.3h0M330.1 83.0h0M325.1 50.5h0M337.6 45.7h0M325.3 72.8h0M319.6 49.2h0M343.4 61.5h0M340.0 50.8h0M342.6 65.5h0M354.0 52.0h0M344.0 73.4h0M336.0 40.8h0M326.5 48.0h0M344.6 73.5h0M331.2 75.1h0M328.1 71.6h0M329.3 74.2h0M326.9 54.1h0M339.9 49.7h0M345.2 71.9h0M333.2 79.3h0M339.7 46.2h0M338.9 62.5h0M339.7 75.3h0M340.5 64.1h0M330.4 66.1h0M331.8 61.9h0M355.9 48.4h0M333.0 68.5h0M343.0 58.4h0M325.5 52.0h0M321.8 59.7h0M341.8 70.4h0M351.3 66.9h0M346.5 59.7h0M355.2 57.7h0M338.4 53.8h0M348.4 67.2h0M327.9 64.6h0M327.4 69.7h0M316.3 66.7h0M350.6 76.0h0M344.7 53.5h0M335.5 50.6h0M333.4 56.4h0M340.1 54.6h0M339.9 52.9h0M347.4 69.6h0M337.4 63.8h0M338.2 59.2h0M350.6 72.9h0M352.7 54.0h0M352.7 54.3h0M335.1 66.0h0M340.8 83.0h0M349.9 72.0h0M338.0 58.3h0M343.5 63.8h0M328.3 69.8h0M353.0 60.2h0M355.5 53.3h0M353.4 63.6h0M328.2 74.4h0M332.4 60.5h0M335.8 67.9h0M322.3 62.7h0M326.3 73.1h0M350.9 73.6h0M342.6 70.2h0M344.5 55.6h0M358.8 65.6h0M344.8 55.9h0M328.8 47.4h0M332.0 67.9h0M347.2 42.1h0M342.6 72.2h0M351.5 67.7h0M333.3 78.2h0M333.7 69.9h0M330.5 57.0h0M323.6 52.9h0M322.5 59.3h0M342.5 74.8h0M337.8 44.1h0M347.6 45.9h0M328.4 51.5h0M336.3 44.8h0M339.2 76.3h0M351.0 48.0h0M349.8 60.2h0M337.0 75.8h0M340.4 65.1h0M325.8 60.8h0M335.8 42.6h0M341.4 73.1h0M344.8 82.2h0M321.8 62.6h0M320.6 55.3h0M336.6 42.8h0M357.8 51.2h0M351.6 59.6h0M339.1 78.8h0M343.4 49.2h0M348.3 72.5h0M334.8 43.8h0M348.1 68.2h0M354.5 67.1h0M337.8 60.7h0M351.3 62.9h0M324.2 68.4h0M345.8 52.5h0M335.8 62.4h0M360.3 66.2h0M346.6 44.6h0M353.9 59.1h0M332.0 71.2h0M321.4 58.2h0M345.2 68.0h0M345.0 63.1h0M322.4 59.3h0M344.6 47.0h0M339.2 56.8h0M327.8 58.0h0M323.0 50.9h0M329.2 61.6h0M333.7 63.4h0M350.7 75.3h0M322.1 58.5h0M321.8 52.6h0M336.5 62.0h0M317.8 65.7h0M351.6 71.8h0M341.8 73.4h0M325.4 70.5h0M336.4 65.1h0M334.2 81.4h0M339.6 41.9h0M344.7 55.0h0M340.8 70.1h0M332.2 69.6h0M327.1 51.5h0M347.2 65.4h0M332.4 55.6h0M335.6 71.7h0M343.6 37.1h0M326.0 55.4h0M349.2 49.2h0M338.7 46.7h0M351.2 60.7h0M330.8 64.2h0M332.7 63.6h0M340.8 55.7h0M358.1 51.0h0M351.5 54.7h0M348.2 64.1h0M321.1 52.3h0M318.5 67.8h0M348.4 49.9h0M326.7 72.2h0M359.7 56.0h0M337.9 57.6h0M324.5 73.5h0M320.5 64.7h0M332.4 58.7h0M321.7 69.3h0M324.3 49.0h0M338.0 81.7h0M342.3 67.0h0M331.1 57.6h0M352.7 59.4h0M331.2 77.1h0M346.1 70.2h0M334.3 79.2h0M340.0 52.4h0M332.9 52.3h0M336.8 53.4h0M331.7 70.0h0M340.7 48.4h0M330.4 63.2h0M348.4 77.5h0M345.7 68.3h0M355.9 70.8h0M335.2 60.5h0M336.8 76.4h0M333.4 47.4h0M331.0 66.1h0M333.9 40.3h0M355.7 58.8h0M337.1 64.3h0M346.0 67.8h0M327.7 45.4h0M354.6 76.1h0M342.9 78.9h0M343.8 56.6h0M340.2 52.7h0M337.0 44.1h0M355.6 68.6h0M333.6 74.5h0M338.8 70.1h0M321.4 65.8h0M349.8 54.1h0M348.7 55.7h0M335.3 58.8h0M343.1 46.9h0M323.1 72.3h0M348.0 41.3h0M346.5 77.7h0M320.8 60.1h0M332.7 75.5h0M326.9 55.7h0M335.4 73.1h0M326.3 55.3h0M333.1 73.7h0M322.4 62.5h0M335.6 80.3h0M340.5 68.3h0M345.1 56.4h0M348.6 54.7h0M331.5 51.3h0M352.3 61.8h0M333.8 52.3h0M352.3 58.5h0M350.9 60.2h0M342.0 63.6h0M352.6 47.6h0M327.3 65.5h0M325.4 50.4h0M350.9 43.6h0M324.7 67.6h0M352.0 72.4h0M343.1 41.9h0M346.0 46.7h0M350.4 66.5h0M348.4 74.2h0M330.5 44.3h0M338.0 41.8h0M333.8 71.5h0M337.4 45.4h0M357.2 53.5h0M346.2 62.9h0M349.4 45.8h0M334.3 41.6h0M335.3 58.1h0M320.0 70.8h0M341.7 53.6h0M348.9 77.9h0M335.3 39.2h0M334.5 78.0h0M341.1 45.4h0M357.6 56.3h0M342.1 49.8h0M349.2 63.6h0M325.5 72.3h0M330.9 65.0h0M336.7 64.7h0M343.9 62.7h0M319.0 56.0h0M340.9 65.4h0M343.2 77.7h0M335.1 42.7h0M352.5 46.5h0M341.9 41.4h0M347.5 65.9h0M330.9 55.1h0M342.0 49.2h0M326.0 50.0h0M348.8 70.6h0M318.9 65.5h0M341.1 68.7h0M352.4 64.4h0M335.1 57.8h0M347.7 49.3h0M322.2 48.1h0M342.1 50.8h0M357.8 53.6h0M344.6 62.6h0M355.9 51.4h0M330.2 68.4h0M347.7 69.7h0M349.6 52.7h0M318.0 63.3h0M327.3 49.9h0M341.0 55.3h0M354.6 61.7h0M330.9 44.0h0M334.2 64.3h0M351.6 58.0h0M334.9 76.0h0M319.1 63.1h0M351.1 53.7h0M333.9 57.0h0M326.7 66.8h0M343.0 55.2h0M335.1 52.0h0M342.9 69.2h0M338.1 69.1h0M328.5 43.6h0M334.7 56.9h0M337.5 64.4h0M346.6 71.5h0M347.5 55.9h0M335.7 47.9h0M346.0 74.4h0M352.4 55.3h0M358.5 71.3h0M327.6 55.0h0M357.6 69.2h0M347.1 49.9h0M329.4 52.7h0M338.0 68.9h0M327.4 53.1h0M321.3 47.7h0M354.9 60.7h0M348.1 57.4h0M337.9 78.0h0M324.6 59.6h0M347.0 57.7h0M339.9 52.4h0M350.9 74.8h0M332.2 48.6h0M352.1 66.6h0M348.5 58.6h0M341.9 49.2h0M348.0 60.8h0M349.0 68.3h0M351.2 54.4h0M351.8 68.9h0M325.7 69.7h0M346.2 42.3h0M323.9 59.0h0M354.0 65.6h0M332.6 45.3h0M348.3 50.6h0M332.6 58.0h0M332.6 55.4h0M349.8 58.3h0M321.8 65.8h0M347.0 75.3h0M344.7 76.6h0M340.5 69.6h0M331.6 72.1h0M335.3 63.8h0M337.0 49.7h0M339.8 71.1h0M338.4 69.4h0M342.0 70.8h0M333.3 52.2h0M341.8 58.4h0M350.5 62.2h0M348.1 43.5h0M339.3 57.9h0M332.6 58.6h0M324.5 50.1h0M341.6 76.8h0M348.6 62.8h0M330.5 81.9h0M353.2 46.0h0M352.4 62.0h0M327.7 57.9h0M354.4 54.5h0M345.4 41.6h0M342.5 68.7h0M339.3 51.7h0M318.5 67.0h0M322.5 57.6h0M345.7 75.2h0M330.9 49.4h0M329.4 65.6h0M349.7 60.3h0M342.9 65.9h0M338.8 73.6h0M350.5 70.0h0M333.8 61.0h0M344.7 72.7h0M341.8 80.1h0M332.3 45.7h0M334.9 53.9h0M320.5 72.1h0M353.9 64.7h0M348.1 56.0h0M356.5 71.9h0M334.8 70.1h0M326.1 61.9h0M345.8 41.5h0M322.2 59.9h0M343.6 80.6h0M336.6 76.9h0M331.9 78.7h0M334.1 46.7h0M330.4 42.1h0M327.0 66.7h0M357.3 56.8h0M318.1 61.8h0M338.6 39.9h0M356.0 65.2h0M335.9 64.8h0M354.8 70.2h0M322.3 59.7h0M350.5 51.3h0M344.6 74.4h0M349.3 64.7h0M352.5 51.6h0M345.3 66.7h0M344.3 68.2h0M351.1 67.6h0M332.7 45.3h0M356.0 73.9h0M350.1 64.0h0M349.6 65.8h0M335.6 78.8h0M332.9 64.5h0M355.9 67.5h0M322.7 61.5h0M325.1 78.5h0M352.1 44.6h0M327.0 73.9h0M347.6 47.8h0M329.7 69.4h0M332.4 44.8h0M346.9 52.6h0M353.8 72.9h0M360.2 62.1h0M329.1 49.0h0M354.4 74.4h0M342.7 41.5h0M336.0 75.3h0M353.6 51.7h0M330.1 67.2h0M349.9 49.1h0M349.9 77.7h0M347.4 71.9h0M324.9 60.3h0M330.9 65.8h0M347.9 45.9h0M346.3 77.4h0M355.8 65.5h0M321.2 46.7h0M318.6 54.8h0M341.7 77.7h0M343.1 44.6h0M324.2 45.0h0M356.8 53.9h0M348.8 62.1h0M339.8 48.2h0M338.6 48.1h0M334.3 76.8h0M340.4 76.8h0M336.0 78.4h0M341.1 61.3h0M331.0 41.1h0M341.3 76.1h0M339.6 46.1h0M334.4 55.6h0M334.6 77.6h0M323.3 59.3h0M326.1 74.8h0M344.9 50.2h0M344.1 43.4h0M345.2 43.2h0M333.4 71.0h0M325.4 74.7h0M327.4 64.3h0M333.4 57.7h0M345.4 70.4h0M339.2 44.6h0M340.2 58.3h0M326.8 46.5h0M333.2 68.0h0M335.3 75.9h0M349.9 61.7h0M334.3 54.4h0M342.4 78.5h0M336.9 41.0h0M342.3 71.6h0M334.2 52.3h0M332.4 57.9h0M348.3 54.6h0M340.2 45.2h0M324.4 56.2h0M346.9 46.8h0M334.3 43.1h0M344.4 50.3h0M334.8 51.1h0M323.1 61.0h0M338.4 73.2h0M335.8 45.4h0M348.4 53.6h0M337.1 78.7h0M325.0 65.7h0M336.7 56.5h0M326.9 43.7h0M337.6 77.5h0M358.9 53.3h0M354.3 57.5h0M348.3 57.3h0M331.7 69.7h0M343.2 74.9h0M334.9 48.5h0M349.4 63.1h0M327.2 69.4h0M327.2 64.4h0M345.2 65.8h0M328.2 74.2h0M322.4 56.4h0M347.5 49.4h0M325.7 69.6h0M328.0 50.5h0M356.9 57.7h0M335.5 78.0h0M350.8 71.7h0M346.6 43.2h0M340.7 78.7h0M346.2 69.3h0M323.2 68.6h0M323.4 60.9h0M321.4 65.2h0M336.9 63.6h0M331.4 56.1h0M333.9 54.3h0M353.8 70.3h0M340.3 60.1h0M334.3 56.8h0M338.5 59.1h0M318.2 65.7h0M338.4 67.7h0M326.8 58.6h0M343.1 71.4h0M342.8 50.5h0M346.1 66.7h0M329.1 70.1h0M345.6 50.0h0M347.0 54.6h0M342.3 66.7h0M320.8 51.4h0M323.2 60.3h0M339.7 70.3h0M332.3 76.1h0M330.3 73.4h0M329.1 49.1h0M349.4 55.2h0M333.9 73.2h0M316.1 61.2h0M336.3 79.0h0M326.5 45.4h0M339.0 81.7h0M336.8 57.8h0M322.4 54.4h0M318.8 59.1h0M330.9 72.8h0M343.9 63.5h0M330.5 71.9h0M340.0 46.2h0M348.9 58.8h0M348.9 56.2h0M341.7 74.5h0M352.7 69.4h0M358.8 51.8h0M342.5 51.2h0M344.5 39.6h0M318.6 60.2h0M329.1 69.6h0M354.9 69.9h0M353.5 54.4h0M352.2 60.4h0M339.8 44.1h0M320.6 61.7h0M353.3 51.4h0M341.5 67.8h0M328.2 61.9h0M326.1 72.4h0M336.9 65.0h0M337.4 57.7h0M329.5 59.6h0M335.4 40.3h0M343.0 59.8h0M328.1 62.3h0M344.2 44.2h0M339.6 73.6h0M349.1 53.8h0M350.5 65.0h0M332.6 52.6h0M335.7 57.4h0M327.8 67.1h0M322.9 68.4h0M345.5 69.1h0M346.3 52.7h0M336.1 70.6h0M343.4 46.1h0M331.6 46.1h0M331.3 48.1h0M338.9 42.6h0M323.5 73.3h0M357.9 50.6h0M336.5 45.0h0M330.3 47.4h0M346.3 44.3h0M354.8 44.7h0M356.1 49.3h0M339.2 73.6h0M350.1 61.1h0M329.9 58.9h0M334.5 57.6h0M338.5 74.4h0M352.3 63.1h0M330.1 40.5h0M338.4 60.5h0M334.7 64.8h0M345.4 45.1h0M334.6 43.6h0M340.6 55.2h0M340.0 71.6h0M334.9 43.0h0M340.7 80.6h0M325.6 78.9h0M348.2 49.7h0M337.0 45.7h0M351.2 72.2h0M355.4 71.8h0M352.0 74.5h0M324.5 57.4h0M329.5 64.7h0M341.0 62.1h0M354.3 66.7h0M334.7 46.2h0M328.3 54.2h0M329.5 71.7h0M346.1 78.9h0M323.0 74.0h0M346.9 68.7h0M344.4 51.5h0M346.0 67.4h0M340.0 62.3h0M340.4 56.5h0M360.1 66.8h0M340.3 41.0h0M354.8 69.6h0M339.4 56.9h0M338.6 42.7h0M341.5 69.2h0M351.1 53.0h0M342.8 47.6h0M325.5 49.8h0M326.9 59.7h0M353.9 65.0h0M327.9 58.6h0M341.3 64.2h0M356.6 61.7h0M338.6 44.2h0M349.7 73.8h0M322.4 66.3h0M318.2 67.4h0M346.4 41.0h0M342.8 54.5h0M332.5 65.5h0M327.5 69.6h0M323.5 46.2h0M326.6 72.3h0M342.5 58.6h0M333.6 60.5h0M336.8 73.3h0M322.5 54.4h0M345.9 56.7h0M335.9 41.6h0M345.0 70.1h0M346.3 56.3h0M342.4 52.1h0M347.1 49.9h0M354.0 53.3h0M339.9 72.5h0M357.6 59.2h0M345.9 44.3h0M319.7 53.9h0M322.7 63.6h0M341.2 65.6h0M325.1 69.3h0M347.8 68.8h0M325.9 64.4h0M343.5 78.9h0M344.4 50.0h0M321.4 52.8h0M340.5 48.5h0M355.7 69.5h0M350.3 65.8h0M358.9 50.0h0M345.4 44.7h0M336.1 71.4h0M326.1 71.2h0M345.1 74.1h0M351.5 56.3h0M330.0 50.8h0M334.1 64.7h0M354.8 69.3h0M346.7 70.0h0M322.9 68.6h0M328.0 73.7h0M354.5 74.8h0M352.2 67.8h0M325.9 50.2h0M319.8 51.0h0M328.0 79.2h0M339.0 78.9h0M350.1 62.8h0M349.4 43.8h0M342.3 50.4h0M357.4 63.9h0M348.7 72.1h0M334.9 61.1h0M354.4 72.7h0M348.4 44.9h0M344.1 76.2h0M347.9 69.5h0M326.9 53.9h0M343.4 48.9h0M350.5 52.4h0M337.5 69.6h0M339.7 43.5h0M334.1 73.3h0M323.0 68.0h0M339.3 55.1h0M322.7 49.2h0M348.6 68.3h0M332.2 49.6h0M348.2 47.9h0M328.3 64.8h0M353.6 61.7h0M349.3 59.1h0M328.2 42.3h0M322.5 64.9h0M348.0 76.1h0M354.9 52.0h0M348.6 41.9h0M329.2 68.5h0M346.7 40.5h0M324.1 57.9h0M331.5 67.3h0M330.3 59.2h0M348.9 56.8h0M326.0 45.0h0M335.2 57.4h0M352.7 63.9h0M339.5 74.9h0M335.3 62.7h0M323.2 66.3h0M327.5 52.5h0M328.9 51.0h0M332.0 79.0h0M330.8 51.0h0M322.0 70.6h0M347.5 45.9h0M356.1 58.8h0M344.4 53.0h0M320.1 58.3h0M340.5 60.0h0M320.4 63.5h0M343.3 48.0h0M335.9 75.0h0M352.4 46.3h0M354.6 70.7h0M341.2 69.3h0M343.3 46.7h0M325.2 62.2h0M340.7 49.0h0M348.6 48.0h0M333.6 48.0h0M344.9 49.3h0M333.8 53.3h0M340.8 69.2h0M324.0 69.6h0M342.7 55.7h0M329.8 78.7h0M353.4 56.5h0M342.3 49.0h0M354.3 69.4h0M319.5 64.8h0M351.6 65.5h0M336.6 52.8h0M331.0 51.9h0M340.8 43.0h0M329.2 61.7h0M324.4 73.4h0M357.0 51.5h0M336.2 38.8h0M339.7 64.4h0M322.1 61.6h0M337.6 69.5h0M348.9 42.3h0M324.4 67.9h0M317.5 55.2h0M344.2 60.8h0M333.7 59.0h0M348.6 71.4h0M342.3 70.3h0M350.1 48.4h0M354.5 61.3h0M333.4 38.4h0M325.7 50.5h0M353.6 52.9h0M332.0 70.6h0M335.5 55.8h0M324.6 44.5h0M336.0 44.6h0M351.4 49.4h0M327.4 55.0h0M322.9 54.2h0M336.3 72.0h0M345.7 63.8h0M349.5 61.7h0M348.4 54.4h0M332.8 80.1h0M322.1 47.1h0M354.4 70.3h0M354.9 64.3h0M324.2 52.3h0M328.4 45.4h0M337.0 80.0h0M342.0 57.3h0M333.3 51.0h0M348.5 53.2h0M326.3 60.5h0M330.5 56.2h0M328.9 52.7h0M328.0 41.3h0M359.4 55.3h0M317.2 57.2h0M323.9 63.3h0M330.6 57.2h0M327.4 42.4h0M332.4 70.3h0M353.8 62.0h0M337.6 62.6h0M344.6 68.6h0M327.5 45.4h0M328.0 65.1h0M338.3 75.4h0M334.4 43.7h0M351.9 61.0h0M347.9 74.3h0M331.6 82.5h0M352.7 58.4h0M326.5 65.9h0M337.8 60.3h0M323.2 65.4h0M328.1 60.4h0M320.3 69.4h0M354.5 59.3h0M343.2 46.0h0M321.0 56.1h0M343.3 63.2h0M344.3 59.0h0M320.1 48.7h0M356.1 63.8h0M338.3 50.0h0M354.1 73.3h0M346.1 70.5h0M329.6 58.1h0M327.2 47.4h0M343.6 71.8h0M349.5 64.3h0M350.2 74.4h0M320.7 70.9h0M331.5 57.3h0M339.4 69.1h0M338.3 52.5h0M340.9 70.8h0M354.9 48.9h0M343.5 47.8h0M339.9 71.9h0M351.6 70.2h0M338.5 39.3h0M320.0 51.9h0M339.9 55.5h0M333.5 76.1h0M338.9 55.5h0M320.9 59.2h0M353.2 62.7h0M325.1 74.8h0M352.8 47.8h0M327.8 48.6h0M352.8 67.8h0M347.9 76.9h0M357.2 61.6h0M340.6 57.8h0M319.5 58.3h0M323.6 57.5h0M344.8 53.2h0M340.2 54.4h0M343.0 40.5h0M337.1 76.0h0M341.5 57.6h0M331.0 61.2h0M330.2 40.0h0M327.1 70.5h0M336.6 63.3h0M324.4 51.1h0M328.0 46.0h0M343.2 63.8h0M328.9 45.3h0M318.9 56.5h0M327.9 64.7h0M345.5 77.2h0M342.3 63.6h0M339.6 46.6h0M334.9 48.0h0M339.4 78.8h0M327.2 53.5h0M348.0 79.2h0M334.0 44.7h0M337.0 77.8h0M343.7 73.4h0M333.9 44.8h0M353.7 67.3h0M360.9 58.2h0M323.1 64.4h0M335.5 44.5h0M329.1 64.4h0M325.5 53.1h0M343.7 40.3h0M326.7 44.1h0M338.0 67.1h0M331.9 57.4h0M328.6 64.3h0M335.3 64.3h0M350.0 63.7h0M339.1 69.3h0M335.1 41.9h0M328.1 63.8h0M323.2 77.4h0M331.2 73.5h0M341.7 51.6h0M353.4 54.7h0M343.6 47.1h0M337.2 48.9h0M348.9 68.2h0M337.5 52.7h0M334.2 63.5h0M342.0 51.1h0M339.5 46.7h0M352.7 60.4h0M358.3 55.7h0M339.5 74.1h0M335.2 41.0h0M327.2 67.7h0M339.2 54.2h0M354.9 57.2h0M339.9 39.6h0M326.3 65.8h0M354.1 58.1h0M324.0 69.4h0M331.3 46.4h0M344.8 55.0h0M329.5 71.2h0M337.5 74.7h0M339.0 58.0h0M329.8 46.9h0M355.1 73.3h0M353.3 70.6h0M354.3 56.7h0M323.1 59.8h0M337.9 72.0h0M353.6 51.3h0M339.7 78.8h0M348.8 59.2h0M336.5 47.3h0M328.9 45.5h0M342.0 73.0h0M340.0 59.3h0M328.8 51.7h0M329.1 66.2h0M336.0 58.4h0M337.4 52.4h0M334.2 69.0h0M340.1 39.8h0M327.2 73.2h0M346.0 71.3h0M347.0 52.9h0M321.8 55.1h0M338.7 67.7h0M331.2 48.3h0M328.8 60.4h0M323.9 55.6h0M354.7 52.5h0M333.0 50.2h0M352.0 62.2h0M327.9 65.1h0M336.6 65.0h0M348.3 73.4h0M319.1 70.5h0M354.7 60.8h0M352.8 69.5h0M347.5 71.1h0M332.5 53.3h0M323.5 62.7h0M349.8 70.7h0M341.8 66.9h0M353.3 74.1h0M324.8 53.9h0M339.4 59.6h0M326.9 56.2h0M334.6 60.6h0M333.3 79.1h0M353.5 60.4h0M352.1 51.3h0M347.5 56.1h0M340.3 39.9h0M330.6 52.2h0M328.4 58.8h0M356.2 65.4h0M357.7 68.8h0M349.3 48.5h0M345.0 75.0h0M351.5 62.8h0M345.2 75.8h0M335.1 67.0h0M330.3 52.2h0M355.6 58.2h0M318.9 63.4h0M332.8 82.9h0M338.4 58.4h0M350.8 49.0h0M329.6 45.7h0M340.9 51.0h0M343.6 43.2h0M323.8 56.8h0M323.0 68.5h0M328.3 72.0h0M335.0 80.5h0M350.7 46.3h0M339.1 64.0h0M341.9 63.7h0M331.7 42.8h0M332.9 43.8h0M327.3 61.0h0M342.6 59.1h0M347.6 67.8h0M330.1 75.0h0M325.1 61.9h0M326.5 58.2h0M332.5 53.6h0M353.6 70.8h0M327.0 49.5h0M336.6 45.9h0M341.8 75.5h0M345.9 80.3h0M335.0 40.0h0M329.0 45.4h0M327.7 59.9h0M333.7 65.4h0M338.4 59.8h0M328.4 42.8h0M345.8 45.7h0M352.4 64.4h0M340.4 67.7h0M346.9 76.9h0M319.0 69.8h0M319.3 68.9h0M338.6 78.6h0M355.0 69.1h0M332.7 74.5h0M318.4 53.2h0M336.2 46.4h0M330.3 79.7h0M332.7 61.4h0M337.5 63.9h0M326.0 70.2h0M339.7 50.8h0M318.2 52.0h0M356.2 57.7h0M349.0 46.6h0M329.7 61.2h0M329.6 78.2h0M352.0 72.5h0M331.9 77.0h0M349.9 70.6h0M344.4 58.6h0M337.2 66.2h0M330.1 63.5h0M321.7 71.2h0M351.1 57.0h0M353.7 55.1h0M349.3 53.3h0M326.4 71.7h0M322.8 55.7h0M328.6 51.8h0M346.9 68.3h0M327.1 74.2h0M340.9 46.4h0M323.7 66.5h0M334.5 60.4h0M334.3 65.4h0M337.6 74.8h0M350.7 46.3h0M340.6 40.8h0M337.8 59.1h0M332.7 81.3h0M351.2 77.7h0M328.5 79.1h0M334.8 46.4h0M340.2 69.3h0M334.5 49.2h0M324.3 60.0h0M331.4 43.0h0M346.0 41.3h0M335.4 72.5h0M335.2 52.4h0M355.7 61.4h0M320.0 51.1h0M321.8 58.4h0M335.6 62.0h0M333.9 64.3h0M328.0 56.1h0M320.8 59.1h0M350.6 60.6h0M341.1 69.3h0M354.5 53.7h0M324.0 46.2h0M333.6 49.8h0M347.0 75.9h0M334.1 49.9h0M320.6 71.3h0M345.9 67.4h0M318.7 68.4h0M326.1 62.0h0M335.8 77.5h0M321.0 52.9h0M330.0 51.2h0M345.8 60.1h0M341.3 54.4h0M335.2 56.2h0M315.8 60.3h0M323.7 69.2h0M333.7 55.6h0M323.1 52.9h0M341.5 74.2h0M348.0 53.4h0M320.0 53.8h0M322.6 70.8h0M353.5 70.7h0M345.8 52.6h0M338.5 48.0h0M321.3 57.1h0M347.9 74.8h0M351.4 53.1h0M338.9 64.4h0M349.0 51.5h0M331.2 60.1h0M348.8 66.8h0M344.7 70.8h0M353.2 50.0h0M336.4 75.6h0M321.4 64.3h0M340.7 74.3h0M321.7 57.8h0M337.1 75.5h0M343.0 46.0h0M351.3 51.7h0M344.2 52.1h0M323.3 61.8h0M324.8 59.3h0M351.3 69.9h0M336.5 59.5h0M344.0 49.4h0M357.8 68.7h0M357.3 60.2h0M336.3 79.3h0M342.8 48.0h0M324.7 71.2h0M336.9 69.0h0M343.2 51.8h0M351.9 65.1h0M329.1 60.6h0M326.2 67.7h0M321.9 48.8h0M333.9 43.1h0M335.5 70.2h0M341.4 80.1h0M355.2 57.0h0M337.0 48.0h0M347.0 69.4h0M326.3 62.3h0M322.8 60.2h0M354.3 72.6h0M328.2 69.0h0M338.1 70.3h0M342.7 49.2h0M357.5 63.3h0M328.0 51.9h0M321.0 57.9h0M332.7 53.5h0M336.2 68.5h0M350.7 78.2h0M339.9 39.5h0M342.5 77.7h0M353.9 68.9h0M316.3 61.4h0M352.6 69.8h0M324.0 74.9h0M331.0 65.2h0M331.0 65.3h0M350.4 55.1h0M330.0 53.9h0M338.0 75.8h0M333.4 74.6h0M345.7 60.8h0M339.3 44.9h0M343.7 45.8h0M338.2 70.0h0M330.1 57.8h0M339.6 39.6h0M330.1 61.0h0M326.4 43.3h0M329.4 69.9h0M339.4 53.3h0M338.0 71.3h0M333.6 76.5h0M324.4 61.5h0M336.4 50.4h0M358.1 62.9h0M338.5 47.2h0M328.4 54.3h0M333.8 80.1h0M321.4 63.8h0M350.5 61.8h0M340.8 61.2h0M331.3 68.0h0M350.1 76.0h0M352.4 56.8h0M338.3 66.3h0M335.6 47.0h0M330.4 73.0h0M326.1 46.2h0M330.7 50.1h0M355.0 50.6h0M326.3 76.9h0M347.4 69.8h0M348.1 70.3h0M325.9 73.4h0M351.5 63.5h0M330.8 58.1h0M329.7 67.8h0M337.5 61.4h0M333.6 74.4h0M336.2 43.9h0M334.2 64.1h0M342.9 72.3h0M355.4 65.4h0M354.8 63.2h0M331.7 71.6h0M348.7 58.3h0M343.4 46.0h0M351.1 56.4h0M331.1 62.4h0M331.7 46.7h0M325.2 68.4h0M339.7 38.4h0M351.8 75.1h0M326.6 61.7h0M333.4 50.7h0M327.2 69.2h0M328.0 68.6h0M333.0 74.5h0M328.2 75.9h0M334.4 41.2h0M330.7 60.1h0M340.0 66.4h0M325.8 68.6h0M350.7 74.6h0M349.8 57.9h0M344.0 43.2h0M331.8 80.5h0M334.1 53.6h0M353.2 72.3h0M345.2 68.1h0M347.8 58.0h0M328.9 56.8h0M322.4 76.5h0M324.5 48.7h0M327.6 72.3h0M357.9 58.1h0M353.5 60.2h0M344.3 57.2h0M341.2 57.7h0M326.6 70.3h0M355.1 54.7h0M341.8 64.5h0M332.9 60.7h0M341.6 52.4h0M343.8 47.0h0M331.9 60.0h0M317.7 56.9h0M344.9 58.0h0M337.7 62.8h0M329.3 47.5h0M331.2 48.7h0M347.9 46.5h0M346.4 50.3h0M349.5 54.0h0M324.8 63.9h0M345.4 80.2h0M327.5 62.7h0M339.7 47.5h0M344.1 40.2h0M336.8 51.5h0M352.7 53.2h0M322.3 71.0h0M332.8 49.1h0M329.3 45.9h0M333.3 53.3h0M357.5 73.5h0M327.5 48.6h0M333.7 76.0h0M357.3 65.2h0M335.6 74.9h0M328.1 58.0h0M352.9 50.3h0M344.4 69.0h0M332.1 70.2h0M339.3 56.4h0M354.2 63.3h0M349.3 61.6h0M341.4 73.0h0M348.3 62.1h0M327.5 47.2h0M349.2 47.7h0M336.0 60.4h0M357.5 55.2h0M328.2 40.9h0M352.2 62.6h0M350.3 64.3h0M355.3 72.9h0M355.1 71.7h0M336.1 40.1h0M348.1 61.3h0M351.8 66.7h0M346.7 74.2h0M332.6 78.5h0M341.3 66.4h0M327.4 57.1h0M354.5 52.2h0M340.1 59.4h0M347.7 78.2h0M324.9 48.7h0M356.2 64.4h0M331.3 47.6h0M353.1 50.9h0M330.6 58.2h0M324.9 58.0h0M345.4 68.6h0M353.2 50.4h0M330.6 43.9h0M346.2 55.9h0M325.2 54.7h0M329.5 68.1h0M323.8 71.6h0M354.3 59.6h0M331.7 43.4h0M343.8 53.7h0M340.4 51.4h0M356.8 65.0h0M322.4 62.5h0M325.4 68.8h0M356.1 67.6h0M333.8 63.1h0M339.8 69.8h0M358.6 71.0h0M343.9 49.9h0M323.9 62.3h0M318.6 60.2h0M340.4 49.3h0M328.4 47.2h0M341.4 68.8h0M324.1 66.3h0M333.8 67.8h0M335.4 68.5h0M327.6 62.7h0M333.1 67.7h0M355.8 53.1h0M338.9 60.5h0M344.1 78.5h0M344.5 62.5h0M348.6 69.1h0M352.4 48.5h0M343.2 71.6h0M331.0 67.1h0M340.6 55.3h0M342.6 40.0h0M332.8 79.7h0M324.7 65.5h0M328.5 53.5h0M331.3 51.9h0M351.9 54.2h0M332.7 72.6h0M338.2 79.1h0M343.0 57.3h0M338.4 43.8h0M340.2 78.3h0M341.5 62.0h0M332.8 56.6h0M343.0 76.5h0M348.9 72.7h0M321.8 57.6h0M322.7 75.8h0M340.3 50.1h0M334.7 48.6h0M344.5 74.7h0M342.2 48.0h0M344.8 76.8h0M341.7 40.2h0M347.4 62.7h0M336.6 58.3h0M342.1 62.1h0M326.5 74.8h0M321.3 60.5h0M344.3 52.0h0M333.9 45.8h0M325.6 72.3h0M347.6 49.2h0M351.4 55.3h0M337.9 77.9h0M324.8 58.4h0M329.9 43.5h0M355.6 69.1h0M346.2 47.4h0M340.2 65.1h0M324.8 49.1h0M328.8 53.9h0M341.8 53.1h0M345.1 40.6h0M345.6 71.7h0M350.3 65.7h0M326.7 64.4h0M330.0 45.9h0M348.2 65.5h0M350.5 59.4h0M333.2 58.1h0M323.4 58.2h0M360.0 62.6h0M321.3 60.0h0M346.9 48.8h0M336.7 43.8h0M333.0 78.9h0M340.0 48.9h0M319.8 63.6h0M344.6 69.9h0M321.5 76.0h0M345.7 50.5h0M319.8 60.0h0M328.0 47.3h0M319.7 49.4h0M322.3 53.4h0M344.2 60.5h0M329.0 69.6h0M322.0 72.6h0M327.7 55.2h0M333.8 64.5h0M353.3 57.8h0M354.6 61.5h0M334.1 48.8h0M343.6 45.2h0M343.5 44.1h0M332.1 63.7h0M336.8 47.7h0M336.6 72.3h0M348.7 56.9h0M327.3 63.3h0M341.7 60.4h0M350.7 71.5h0M321.6 74.7h0M336.6 53.1h0M338.5 77.0h0M330.9 41.8h0M338.5 54.6h0M340.7 64.8h0M338.9 74.6h0M337.1 66.3h0M339.7 57.8h0M337.2 63.3h0M323.7 54.2h0M323.2 52.0h0M347.8 76.0h0M330.0 41.4h0M347.0 76.1h0M343.8 55.7h0M335.9 40.1h0M352.1 65.0h0M341.1 40.6h0M336.2 54.9h0M331.0 59.0h0M342.3 60.0h0M340.1 49.9h0M328.5 56.5h0M330.3 58.1h0M325.3 58.5h0M338.5 66.7h0M350.0 48.2h0M324.8 61.1h0M326.1 60.7h0M328.8 56.0h0M342.7 71.7h0M321.8 63.4h0M335.9 57.6h0M348.8 70.5h0M340.0 37.9h0M346.0 74.2h0M352.0 54.1h0M351.4 67.3h0M326.2 68.7h0M337.1 49.4h0M316.3 60.4h0M345.3 46.6h0M347.8 45.6h0M344.6 77.3h0M349.4 79.0h0M329.8 63.4h0M335.0 67.8h0M342.5 67.1h0M337.3 81.9h0M324.1 55.1h0M336.4 70.5h0M347.3 54.3h0M332.4 38.9h0M333.0 57.0h0M347.9 48.4h0M329.1 75.3h0M325.5 71.0h0M357.7 54.6h0M331.8 48.1h0M329.8 78.7h0M319.8 72.5h0M329.2 49.4h0M333.2 80.0h0M323.2 66.7h0M348.0 77.0h0M321.8 72.2h0M323.9 50.8h0M325.9 66.3h0M339.4 75.7h0M338.1 51.2h0M338.1 84.3h0M335.9 76.3h0M340.3 64.6h0M324.4 46.4h0M347.1 75.9h0M330.9 40.0h0M348.7 74.9h0M354.1 47.3h0M343.2 62.8h0M359.0 66.4h0M328.8 49.9h0M333.8 77.6h0M328.2 71.6h0M337.4 55.8h0M340.6 54.5h0M357.5 64.6h0M323.5 51.8h0M356.8 53.3h0M333.8 70.9h0M335.5 74.4h0M342.4 77.8h0M329.0 68.0h0M333.7 52.4h0M330.2 60.7h0M347.4 77.8h0M325.8 74.9h0M356.6 54.8h0M330.6 58.4h0M336.3 72.9h0M329.5 69.3h0M341.7 49.2h0M337.0 40.3h0M327.1 62.2h0M352.2 49.1h0M337.4 76.3h0M341.9 68.4h0M358.5 59.9h0M331.3 72.1h0M324.0 54.4h0M349.9 61.5h0M336.9 70.7h0M333.1 73.1h0M348.8 56.3h0M335.6 52.1h0M332.7 70.2h0M357.4 49.4h0M343.2 53.5h0M347.7 72.5h0M352.5 78.4h0M341.6 49.8h0M356.9 62.3h0M358.2 66.3h0M329.3 54.5h0M340.6 61.3h0M340.6 69.3h0M332.0 57.5h0M334.1 75.7h0M347.9 75.3h0M344.1 53.3h0M323.2 59.1h0M343.0 39.8h0M353.3 64.8h0M319.9 70.9h0M359.7 57.8h0M327.0 42.4h0M344.1 51.2h0M340.0 57.3h0M349.8 51.2h0M349.6 73.8h0M328.5 74.6h0M324.0 62.8h0M318.6 60.7h0M347.8 60.8h0M353.2 47.7h0M327.7 61.1h0M319.1 48.0h0M342.9 56.8h0M337.4 52.0h0M347.9 75.0h0M347.9 46.6h0M349.4 65.1h0M334.1 76.3h0M349.1 75.6h0M324.0 52.8h0M330.4 68.2h0M340.4 76.3h0M338.0 67.7h0M350.3 54.5h0M341.8 63.4h0M344.2 46.1h0M325.1 62.0h0M321.6 63.1h0M320.3 67.9h0M352.0 62.2h0M360.2 64.7h0M353.2 69.7h0M335.0 53.9h0M323.4 63.9h0M336.5 42.9h0M346.8 73.2h0M319.9 55.5h0M347.9 40.7h0M333.4 51.1h0M350.3 63.3h0M338.5 72.1h0M337.0 43.7h0M324.7 56.8h0M337.5 46.2h0M332.0 59.6h0M334.7 50.0h0M360.3 63.0h0M334.9 40.6h0M320.8 49.8h0M334.5 54.1h0M333.8 79.4h0M338.5 47.1h0M342.0 58.0h0M346.2 54.6h0M319.5 55.1h0M357.9 58.1h0M347.7 50.5h0M345.2 59.3h0M337.6 49.9h0M345.0 63.1h0M348.8 59.5h0M357.2 62.5h0M352.7 49.7h0M341.7 56.1h0M359.1 51.7h0M359.4 62.9h0M324.7 52.4h0M353.9 55.8h0M343.4 59.7h0M336.9 49.6h0M339.0 50.3h0M348.0 65.1h0M325.5 72.5h0M320.4 51.4h0M327.2 74.3h0M348.9 75.3h0M336.8 59.2h0M349.8 65.4h0M347.4 60.5h0M333.7 60.9h0M339.9 45.1h0M341.7 68.0h0M326.8 67.5h0M331.6 75.3h0M330.3 58.5h0M321.3 58.6h0M326.7 63.9h0M343.6 69.8h0M333.1 63.9h0M344.4 57.3h0M328.3 61.1h0M341.9 59.9h0M340.8 57.0h0M332.1 76.6h0M323.0 64.7h0M329.9 74.9h0M332.3 73.9h0M328.8 55.2h0M333.3 54.8h0M336.7 68.8h0M336.9 53.5h0M340.2 59.4h0M338.9 56.7h0M329.4 53.0h0M345.3 65.5h0M327.0 57.0h0M326.2 75.3h0M345.4 65.1h0M333.2 58.5h0M336.9 61.3h0M324.5 51.5h0M329.7 49.1h0M341.8 56.9h0M324.6 69.5h0M343.9 69.3h0M324.7 73.6h0M325.7 51.6h0M343.5 56.0h0M322.2 66.7h0M331.5 67.8h0M331.9 50.2h0M341.2 65.4h0M331.5 76.4h0M329.9 52.1h0M325.2 62.7h0M335.3 66.4h0M335.6 72.1h0M344.9 70.6h0M338.6 53.8h0M328.0 70.9h0M346.4 62.1h0M322.9 68.4h0M335.3 62.3h0M341.1 60.2h0M337.1 49.3h0M322.5 53.5h0M330.7 71.6h0M330.5 58.7h0M342.6 64.9h0M337.2 72.8h0M339.7 55.5h0M324.5 55.4h0M340.8 67.9h0M336.6 55.9h0M339.0 50.2h0M339.7 58.0h0M332.1 57.6h0M344.5 67.0h0M325.4 65.0h0M320.9 66.1h0M336.5 69.9h0M334.9 61.3h0M329.7 59.7h0M344.8 66.0h0M325.3 57.9h0M337.4 54.7h0M346.3 56.3h0M330.6 65.2h0M345.5 67.0h0M331.1 62.8h0M338.2 70.5h0M338.0 74.3h0M334.4 73.5h0M332.5 53.7h0M338.3 51.8h0M329.6 60.4h0M325.7 69.6h0M328.7 56.6h0M334.9 57.7h0M326.2 72.6h0M340.4 70.0h0M345.5 69.4h0M328.3 64.8h0M322.1 63.5h0M343.5 55.8h0M323.8 73.4h0M335.3 75.3h0M342.6 63.0h0M337.0 58.1h0M331.3 59.9h0M340.6 71.0h0M341.0 57.0h0M339.4 65.1h0M325.9 70.4h0M337.5 57.8h0M342.3 60.0h0M335.1 69.5h0M329.9 61.8h0M325.9 66.0h0M324.5 73.9h0M336.8 54.7h0M325.7 68.4h0M337.6 64.6h0M342.2 73.7h0M342.3 70.2h0M334.9 65.2h0M332.0 62.5h0M341.5 66.5h0M340.2 68.2h0M331.8 51.3h0M331.8 65.4h0M331.6 59.9h0M333.0 58.3h0M340.7 64.4h0M346.9 60.3h0M336.7 64.7h0M340.3 56.5h0M321.1 65.9h0M328.6 57.6h0M336.5 72.4h0M328.5 68.2h0M330.7 71.9h0M343.0 55.4h0M347.0 69.6h0M329.4 61.8h0M339.0 51.5h0M329.4 61.9h0M332.0 68.9h0M337.8 62.3h0M339.1 50.9h0M328.6 58.8h0M333.8 60.9h0M330.0 58.0h0M332.6 57.0h0M332.3 76.4h0M336.8 60.9h0M343.2 54.0h0M337.2 69.2h0M340.0 52.6h0M332.9 49.0h0M339.1 61.5h0M338.0 73.2h0M337.8 62.1h0M326.3 50.4h0M342.8 61.8h0M344.5 61.3h0M344.2 67.2h0M331.2 67.4h0M334.4 60.7h0M330.4 64.0h0M322.9 68.6h0M333.8 52.6h0M327.2 70.9h0M337.0 61.2h0M336.0 73.4h0M337.2 50.6h0M330.4 66.0h0M329.0 66.7h0M340.8 69.8h0M342.0 54.8h0M321.9 58.4h0M325.1 65.1h0M338.2 73.2h0M339.4 54.2h0M328.6 49.5h0M325.8 70.3h0M346.6 62.0h0M329.6 70.0h0M330.4 59.0h0M330.3 76.0h0M335.3 62.2h0M322.2 62.7h0M325.4 71.4h0M331.4 61.0h0M333.1 50.8h0M340.7 63.2h0M322.0 58.6h0M332.9 62.5h0M341.4 60.2h0M344.5 60.9h0M336.8 75.4h0M337.9 69.8h0M326.1 69.0h0M345.5 64.5h0M331.3 74.8h0M331.7 67.9h0M341.8 65.8h0M325.7 53.9h0M328.2 51.8h0M325.5 56.7h0M339.3 65.8h0M334.7 56.3h0M340.4 61.9h0M338.8 65.3h0M327.5 54.8h0M330.9 49.6h0M340.9 71.5h0M323.3 60.8h0M335.6 61.3h0M336.2 73.1h0M330.1 70.4h0M329.2 61.7h0M344.3 56.7h0M337.7 67.3h0M328.7 75.5h0M324.5 65.0h0M340.8 60.0h0M336.5 64.4h0M329.7 71.8h0M333.6 49.4h0M328.3 66.7h0M334.6 76.9h0M329.9 67.0h0M337.9 71.9h0M321.2 70.9h0M344.1 69.5h0M330.5 54.2h0M341.4 58.8h0M338.2 49.4h0M336.4 57.9h0M346.1 71.2h0M334.5 57.9h0M346.7 63.8h0M337.1 51.1h0M321.9 64.5h0M328.9 63.5h0M325.2 63.1h0M321.5 70.0h0M347.4 65.8h0M333.3 74.0h0M335.0 66.0h0M322.6 64.3h0M334.2 61.1h0M336.6 75.3h0M322.8 65.6h0M343.6 71.6h0M326.2 53.7h0M326.0 56.8h0M322.6 68.7h0M335.5 60.6h0M328.0 73.5h0M335.0 74.6h0M343.4 62.5h0M346.7 69.3h0M323.4 65.4h0M328.6 63.0h0M336.4 51.0h0M329.9 48.9h0M338.4 62.9h0M325.3 73.3h0M331.7 55.3h0M327.5 72.9h0M344.0 58.4h0M325.3 70.5h0M342.8 53.1h0M336.2 53.1h0M333.8 76.4h0M336.1 53.6h0M339.2 76.8h0M344.0 51.5h0M335.0 69.4h0M328.6 52.0h0M332.9 52.9h0M334.1 70.0h0M344.6 60.8h0M342.3 61.9h0M329.7 48.9h0M330.8 58.4h0M323.6 57.7h0M337.0 70.3h0M333.3 60.8h0M325.5 73.2h0M335.6 57.3h0M332.7 56.9h0M324.4 68.0h0M329.7 68.4h0M331.8 68.5h0M328.3 58.0h0M328.7 54.1h0M336.6 53.5h0M321.4 68.5h0M342.6 69.0h0M333.1 50.4h0M339.3 53.6h0M334.4 75.4h0M321.3 65.5h0M335.8 70.1h0M346.4 58.0h0M322.9 57.4h0M347.8 59.1h0M334.9 51.0h0M325.2 73.0h0M337.0 60.6h0M343.9 71.2h0M325.7 59.8h0M345.2 55.3h0M334.7 68.9h0M324.9 59.5h0M330.1 64.6h0M327.0 70.9h0M333.7 64.3h0M334.8 73.2h0M337.5 66.7h0M326.7 52.8h0M333.2 73.4h0M330.6 72.7h0M333.5 74.7h0M344.6 66.8h0M320.1 62.8h0M346.1 61.5h0M333.6 54.9h0M337.7 70.9h0M333.0 71.5h0M339.6 71.5h0M331.9 62.2h0M329.7 65.2h0M338.1 64.0h0M328.8 52.7h0M344.1 57.9h0M329.5 55.9h0M319.1 57.9h0M339.8 54.8h0M341.2 72.4h0M336.2 65.0h0M338.2 65.9h0M329.6 72.6h0M342.5 70.1h0M337.2 69.2h0M337.7 58.5h0M329.1 69.5h0M334.1 73.7h0M331.9 76.0h0M327.1 64.1h0M348.5 63.9h0M329.5 71.0h0M324.9 70.8h0M339.4 50.2h0M334.4 75.2h0M341.4 53.2h0M335.2 51.1h0M344.4 52.8h0M330.1 63.6h0M330.2 52.2h0M333.4 58.2h0M339.1 52.9h0M322.6 65.7h0M329.4 71.3h0M323.3 62.6h0M324.9 58.6h0M327.5 64.1h0M339.2 61.3h0M324.1 66.1h0M341.8 65.4h0M339.8 59.8h0M332.4 72.2h0M328.1 74.0h0M324.7 67.8h0M335.6 51.8h0M334.4 64.2h0M328.5 67.9h0M330.2 69.1h0M330.9 65.2h0M343.2 66.4h0M338.7 57.5h0M335.3 64.0h0M341.5 59.3h0M336.9 63.9h0M330.9 62.5h0M344.5 65.4h0M322.7 67.0h0M331.7 70.9h0M338.5 62.4h0M329.7 66.5h0M346.6 55.7h0M320.9 54.8h0M328.5 71.7h0M324.6 68.8h0M346.3 61.6h0M341.7 71.1h0M344.2 62.5h0M332.7 68.5h0M330.9 56.7h0M334.3 54.1h0M324.8 54.3h0M341.0 68.9h0M327.2 68.3h0M337.1 74.7h0M335.3 76.0h0M335.0 52.5h0M345.9 67.8h0M337.5 71.9h0M334.2 72.1h0M338.8 73.8h0M337.4 72.7h0M331.6 59.4h0M333.9 50.0h0M342.7 68.2h0M327.9 66.2h0M330.9 56.2h0M337.9 75.0h0M330.9 66.4h0M324.6 62.2h0M325.3 75.0h0M347.1 63.6h0M325.9 61.4h0M326.2 70.6h0M321.8 65.6h0M328.8 61.1h0M341.4 71.2h0M339.3 63.8h0M341.4 53.0h0M343.5 52.1h0M321.9 62.9h0M336.3 63.8h0M325.0 68.2h0M337.3 72.5h0M336.7 53.9h0M337.2 67.0h0M349.2 63.8h0M325.5 60.7h0M328.8 61.7h0M337.5 61.5h0M321.3 66.4h0M345.7 60.9h0M343.6 62.0h0M342.3 67.5h0M334.9 63.0h0M339.4 52.1h0M329.8 62.5h0M330.9 76.0h0M334.5 61.7h0M334.9 71.6h0M332.0 62.1h0M345.4 69.0h0M338.3 71.4h0M346.4 69.6h0M335.5 71.5h0M345.7 55.7h0M325.3 61.0h0M334.1 50.6h0M338.9 58.3h0M332.3 73.0h0M325.1 66.0h0M323.0 63.2h0M332.3 55.6h0M335.8 70.7h0M323.1 56.6h0M330.2 61.7h0M336.1 55.4h0M336.3 49.6h0M346.1 59.5h0M325.8 72.6h0M331.2 53.8h0M320.9 63.4h0M333.9 58.8h0M327.0 51.6h0M332.1 59.0h0M345.4 70.5h0M338.0 58.2h0M340.1 75.9h0M322.2 62.7h0M326.6 68.9h0M339.9 66.9h0M333.4 56.1h0M336.5 68.1h0M333.5 73.9h0M324.4 71.9h0M335.2 74.1h0M329.5 62.1h0M335.2 70.0h0M340.9 67.5h0M331.1 50.5h0M343.7 69.8h0M338.1 66.0h0M325.6 55.6h0M330.2 55.0h0M334.1 61.1h0M322.6 61.2h0M329.9 65.3h0M339.7 62.5h0M344.1 56.5h0M335.9 64.1h0M333.5 64.2h0M338.3 62.2h0M324.5 65.0h0M331.5 47.7h0M338.7 75.4h0M339.4 72.6h0M344.8 69.6h0M339.6 71.4h0M342.4 71.9h0M345.2 62.6h0M335.0 76.4h0M337.9 69.0h0M340.9 59.8h0M346.2 64.6h0M331.4 59.2h0M327.9 60.0h0M331.6 73.3h0M327.4 66.3h0M330.2 52.0h0M346.2 64.7h0M340.2 58.8h0M344.4 54.8h0M334.6 54.9h0M324.8 64.5h0M344.3 65.5h0M324.5 54.3h0M329.1 64.2h0M326.5 71.5h0M330.1 58.3h0M332.3 58.2h0M324.4 57.0h0M342.2 51.4h0M342.6 66.6h0M342.2 66.9h0M322.6 65.3h0M328.5 64.3h0M342.1 63.3h0M339.5 67.3h0M333.0 68.1h0M326.7 64.0h0M330.2 49.7h0M322.6 70.8h0M343.3 59.2h0M324.8 62.1h0M333.0 60.7h0M326.2 58.3h0M340.8 66.1h0M339.7 73.1h0M342.3 72.9h0M340.3 75.0h0M324.8 62.9h0M336.8 52.6h0M336.9 70.3h0M339.4 63.2h0M337.8 50.8h0M330.1 60.5h0M338.8 67.2h0M336.5 70.0h0M329.1 56.7h0M324.9 67.1h0M341.1 57.0h0M345.5 64.9h0M335.9 51.0h0M329.5 65.3h0M345.7 59.3h0M327.2 65.9h0M341.1 70.9h0M345.8 55.2h0M328.4 74.9h0M338.7 75.8h0M334.8 62.6h0M334.3 66.1h0M336.7 57.8h0M332.0 75.5h0M345.0 63.3h0M326.8 57.3h0M339.2 70.9h0M322.7 64.8h0M337.4 56.0h0M323.9 58.5h0M327.4 59.2h0M342.7 73.4h0M339.2 63.7h0M330.1 71.8h0M325.4 69.6h0M322.6 65.2h0M334.6 74.2h0M337.9 63.2h0M330.2 56.5h0M330.6 66.6h0M342.7 64.6h0M338.0 68.1h0M334.5 70.8h0M331.7 64.1h0M343.8 54.4h0M336.1 51.2h0M339.4 70.5h0M341.0 73.3h0M341.9 61.5h0M333.1 76.9h0M334.3 56.6h0M330.7 61.9h0M345.7 57.4h0M329.0 51.6h0M325.3 64.9h0M331.6 69.8h0M329.2 51.2h0M334.5 73.6h0M329.4 68.4h0M340.9 66.2h0M333.3 68.1h0M340.1 57.8h0M337.1 74.4h0M339.5 59.3h0M341.3 63.7h0M335.1 75.6h0M335.6 58.9h0M330.7 55.9h0M328.3 64.7h0M342.0 56.7h0M332.9 59.4h0M340.5 68.3h0M321.0 61.2h0M344.5 56.8h0M328.9 71.0h0M341.2 53.7h0M328.0 61.3h0M325.0 69.3h0M323.9 55.9h0M345.4 55.6h0M338.1 74.2h0M333.8 56.5h0M341.9 74.0h0M343.3 59.3h0M332.6 69.3h0M333.3 62.5h0M341.5 64.1h0M323.7 62.2h0M328.2 62.1h0M336.5 68.1h0M332.3 58.3h0M329.9 52.0h0M334.6 58.9h0M341.4 57.1h0M340.4 51.9h0M332.9 50.3h0M337.2 60.6h0M327.8 63.8h0M338.1 65.6h0M338.8 60.6h0M328.9 50.3h0M339.3 48.5h0M329.4 71.1h0M325.7 54.0h0M340.6 63.5h0M331.4 72.0h0M322.8 63.1h0M333.9 71.5h0M333.5 70.9h0M336.3 59.6h0M343.5 60.1h0M325.2 68.0h0M326.8 59.9h0M341.3 65.7h0M333.0 60.6h0M341.7 59.7h0M321.4 64.5h0M335.0 54.3h0M333.4 65.0h0M339.7 59.4h0M342.6 63.7h0M337.2 71.5h0M346.9 61.3h0M339.4 67.6h0M325.1 67.1h0M333.1 67.0h0M330.7 65.9h0M320.3 58.6h0M324.8 61.6h0M338.6 74.8h0M330.2 67.5h0M333.3 59.9h0M343.5 62.5h0M330.0 73.6h0M324.4 71.7h0M326.3 55.9h0M333.2 48.6h0M343.4 66.7h0M328.0 69.8h0M331.6 58.8h0M326.6 63.8h0M334.7 69.8h0M332.2 72.4h0M329.5 51.7h0M339.8 53.8h0M320.4 59.8h0M342.4 66.1h0M328.7 61.1h0M326.7 57.9h0M334.5 75.0h0M344.2 69.8h0M330.2 60.6h0M335.1 69.4h0M341.2 60.9h0M332.0 51.9h0M341.6 68.9h0M335.6 60.4h0M325.2 54.3h0M321.8 61.0h0M338.1 63.0h0M324.5 58.1h0M337.5 69.3h0M346.8 65.7h0M341.5 66.2h0M330.2 54.1h0M333.4 55.1h0M338.1 72.4h0M338.1 69.1h0M335.5 68.9h0M324.8 55.3h0M341.7 59.4h0M333.0 53.4h0M340.8 64.6h0M323.3 59.6h0M330.5 60.2h0M347.8 65.3h0M329.5 62.6h0M343.8 57.8h0M348.1 65.3h0M327.5 56.1h0M329.9 66.3h0M339.7 53.9h0M332.0 67.0h0M324.1 59.5h0M338.6 62.9h0M341.3 64.4h0M320.8 63.1h0M334.1 51.1h0M338.3 52.7h0M342.6 71.8h0M334.7 72.0h0M319.7 64.9h0M338.7 66.5h0M332.8 53.0h0M345.2 70.1h0M332.7 74.5h0M338.3 67.3h0M347.6 63.2h0M336.7 67.2h0M345.2 58.6h0M346.1 70.8h0M328.4 64.3h0M332.5 49.3h0M335.5 59.5h0M324.3 63.4h0M343.9 55.5h0M330.8 62.5h0M337.4 75.1h0M321.3 53.5h0M329.5 66.1h0M328.1 62.8h0M335.2 56.8h0M329.6 72.7h0M323.0 67.8h0M322.4 56.2h0M324.3 58.4h0M343.9 55.7h0M345.3 57.4h0M336.9 78.2h0M346.8 63.1h0M324.3 74.5h0M323.8 52.8h0M335.9 72.9h0M320.5 66.4h0M333.9 68.6h0M323.7 71.7h0M327.1 56.7h0M344.6 73.8h0M338.5 56.9h0M323.0 69.0h0M331.2 71.9h0M330.6 67.5h0M331.9 60.3h0M333.0 71.2h0M328.6 70.0h0M327.2 64.3h0M329.6 72.4h0M343.3 57.4h0M344.8 67.0h0M334.7 62.9h0M339.9 56.9h0M332.8 49.4h0M336.5 51.9h0M343.2 57.1h0M329.5 74.2h0M337.3 53.2h0M343.9 62.2h0M342.4 74.3h0M348.3 64.3h0M333.6 75.8h0M330.7 58.8h0M339.6 71.6h0M337.4 71.8h0M334.9 52.5h0M332.1 52.5h0M330.2 53.8h0M327.3 72.0h0M322.4 63.3h0M337.3 53.0h0M331.0 64.5h0M322.1 67.9h0M340.8 75.6h0M337.1 50.4h0M331.2 52.0h0M341.2 74.0h0M340.3 58.9h0M334.5 52.8h0M340.0 76.0h0M343.6 53.7h0M337.6 64.0h0M319.5 60.0h0M330.4 65.9h0M337.4 57.6h0M323.3 64.5h0M322.5 65.5h0M322.6 58.6h0M345.4 56.0h0M328.2 76.5h0M339.8 64.8h0M330.9 53.1h0M339.6 61.4h0M332.7 75.0h0M346.1 63.0h0M330.2 73.0h0M330.6 54.0h0M337.0 59.3h0M334.6 62.4h0M326.5 58.1h0M328.7 72.2h0M327.9 64.9h0M325.0 63.5h0M342.0 56.4h0M333.5 70.8h0M325.5 51.3h0M327.4 54.5h0M328.0 73.1h0M328.0 57.0h0M341.6 75.4h0M324.7 59.7h0M332.9 77.0h0M338.5 68.2h0M343.8 73.2h0M335.8 53.5h0M337.6 69.7h0M336.5 49.9h0M331.6 67.3h0M343.6 63.5h0M326.3 70.2h0M331.8 74.3h0M343.9 70.9h0M339.0 60.2h0M324.4 74.8h0M337.7 70.4h0M333.2 70.2h0M338.1 65.4h0M329.1 66.0h0M336.6 58.3h0M347.3 60.4h0M333.6 57.3h0M332.5 69.9h0M322.7 54.8h0M325.7 72.4h0M320.9 64.6h0M341.1 70.9h0M332.4 78.7h0M335.8 65.4h0M336.0 49.4h0M334.9 60.7h0M336.8 52.4h0M337.1 65.3h0M324.3 56.3h0M332.0 63.4h0M337.9 58.3h0M323.2 57.1h0M325.1 58.4h0M323.1 63.8h0M344.9 54.4h0M334.1 49.3h0M334.8 50.9h0M344.7 56.8h0M341.4 57.4h0M338.4 62.9h0M329.0 72.2h0M337.2 51.0h0M341.7 56.5h0M336.8 73.8h0M341.0 75.0h0M342.4 62.8h0M338.5 57.4h0M343.5 54.2h0M323.2 60.7h0M323.2 65.6h0M342.1 68.3h0M324.1 62.8h0M335.7 64.5h0M344.7 67.2h0M335.2 57.0h0M332.4 52.9h0M325.3 68.2h0M339.5 75.5h0M335.0 75.5h0M345.7 58.7h0M320.6 65.6h0M334.7 70.0h0M328.7 54.5h0M341.4 54.8h0M333.6 57.9h0M320.2 67.3h0M326.9 57.6h0M327.3 59.7h0M340.3 72.5h0M339.2 53.7h0M325.2 73.7h0M346.4 62.2h0M331.8 67.2h0M324.1 61.1h0M342.6 62.3h0M321.8 68.2h0M336.4 51.9h0M336.7 50.9h0M326.6 72.6h0M337.6 55.1h0M338.1 68.7h0M334.1 50.0h0M335.3 64.3h0M334.2 70.3h0M325.8 59.1h0M329.0 57.8h0M341.1 53.6h0M337.1 61.0h0M326.6 67.8h0M320.8 64.0h0M347.9 63.5h0M333.8 64.0h0M342.2 65.6h0M334.6 67.9h0M329.2 74.8h0M329.8 60.4h0M324.6 68.5h0M329.6 60.9h0M344.3 55.5h0M326.7 67.9h0M323.5 55.4h0M334.1 61.2h0M326.4 58.3h0M323.0 67.3h0M330.9 76.8h0M330.7 73.4h0M322.5 61.6h0M345.8 61.9h0M343.7 57.3h0M327.1 59.8h0M336.2 64.0h0M330.5 54.1h0M323.9 57.4h0M324.1 55.3h0M326.2 62.3h0M326.2 66.2h0M338.5 60.3h0M341.5 69.6h0M322.0 59.2h0M329.4 50.6h0M326.3 57.1h0M335.3 53.2h0M326.2 65.4h0M330.2 65.5h0M324.5 52.4h0M341.2 74.5h0M329.0 72.3h0M334.1 54.9h0M331.0 61.0h0M344.1 73.9h0M323.4 56.6h0M323.6 57.4h0M326.5 52.9h0M329.6 49.1h0M336.0 73.7h0M345.1 69.7h0M333.6 49.7h0M335.2 68.9h0M342.8 65.2h0M322.4 62.9h0M344.2 52.3h0M323.6 61.7h0M337.4 71.0h0M326.0 57.9h0M342.0 66.5h0M328.8 50.2h0M339.6 64.5h0M335.9 69.2h0M337.2 75.3h0M323.9 64.7h0M347.4 58.5h0M323.6 59.6h0M337.5 53.2h0M338.0 75.0h0M332.3 68.0h0M337.3 49.4h0M327.2 55.0h0M329.3 57.8h0M339.3 69.2h0M329.5 77.8h0M361.4 63.5h0M362.3 62.9h0M369.1 66.3h0M363.0 65.7h0M358.0 64.5h0M356.9 69.2h0M358.6 66.0h0M360.4 65.4h0M354.9 67.4h0M363.7 71.7h0M357.6 73.4h0M358.1 71.6h0M360.7 65.2h0M366.6 65.2h0M355.6 68.3h0M362.8 71.3h0M360.3 71.3h0M361.1 70.5h0M363.5 69.2h0M357.6 64.8h0M369.1 71.3h0M366.1 66.1h0M353.5 66.7h0M353.5 68.9h0M360.7 70.4h0M369.4 67.5h0M356.8 71.3h0M363.8 70.5h0M368.0 67.2h0M361.6 69.9h0M356.1 72.3h0M362.7 63.6h0M356.0 66.9h0M359.9 71.7h0M359.1 69.1h0M367.7 65.0h0M365.7 72.3h0M360.1 65.7h0M365.2 70.9h0M364.0 69.2h0M368.8 66.4h0M368.8 67.1h0M364.2 63.8h0M369.9 64.6h0M366.8 63.4h0M358.9 67.8h0M363.8 67.1h0M362.1 72.7h0M363.4 71.7h0M365.2 70.8h0M366.8 63.4h0M368.1 70.8h0M361.0 67.9h0M360.5 66.8h0M355.3 68.8h0M363.1 69.4h0M363.3 73.1h0M365.5 68.7h0M369.4 71.2h0M364.4 72.3h0M367.4 66.0h0M365.9 67.8h0M357.9 62.5h0M353.3 69.1h0M360.7 70.3h0M359.7 65.7h0M364.2 64.9h0M366.7 66.8h0M354.7 70.7h0M371.3 67.0h0M362.6 73.3h0M356.5 68.4h0M363.9 63.1h0M361.2 72.8h0M359.8 67.3h0M352.3 66.4h0M366.3 66.3h0M357.7 71.5h0M370.9 70.2h0M363.2 67.5h0M355.1 66.6h0M355.4 71.1h0M359.0 68.0h0M354.9 67.0h0M360.0 70.6h0M361.0 71.3h0M360.5 69.9h0M365.2 62.0h0M363.3 66.1h0M363.4 70.8h0M365.2 74.0h0M365.0 62.9h0M357.5 64.0h0M363.2 70.6h0M362.8 66.8h0M361.9 74.2h0M362.0 73.3h0M355.2 64.5h0M363.8 69.3h0M358.4 64.4h0M364.8 71.3h0M366.1 71.5h0M367.2 71.7h0M366.2 63.5h0M360.7 65.0h0M363.7 72.4h0M358.0 67.4h0M368.3 67.0h0M359.9 63.5h0M367.2 71.3h0M353.8 66.3h0M356.1 65.6h0M368.2 63.8h0M365.8 70.2h0M363.0 66.1h0M360.5 62.0h0M361.9 62.4h0M368.0 71.7h0M355.7 65.7h0M361.1 66.7h0M361.9 70.5h0M370.0 68.2h0M358.6 70.0h0M366.0 67.1h0M357.1 72.2h0M366.1 63.4h0M359.0 71.2h0M362.7 64.9h0M360.6 70.0h0M365.0 64.3h0M365.3 64.3h0M356.7 67.8h0M363.1 70.2h0M364.7 68.3h0M364.6 62.3h0M359.6 65.2h0M359.3 63.2h0M362.0 68.4h0M353.7 93.8h0M353.3 94.0h0M345.6 89.6h0M343.9 80.7h0M342.3 84.6h0M339.8 87.2h0M356.1 89.7h0M355.4 88.0h0M348.1 85.4h0M350.3 87.3h0M346.5 86.4h0M353.1 94.4h0M342.3 83.5h0M337.8 86.3h0M349.9 86.1h0M338.2 85.5h0M353.3 90.4h0M345.0 86.4h0M353.2 94.4h0" stroke="#9fd0d2" stroke-width="0.85" stroke-linecap="round" fill="none" opacity="0.42"/>
<path d="M357.7 66.5h0M341.3 75.4h0M342.7 54.6h0M345.2 70.6h0M349.0 62.5h0M353.6 72.7h0M339.3 40.6h0M324.2 50.5h0M320.9 71.3h0M336.1 41.1h0M320.1 63.8h0M327.4 69.0h0M357.1 63.2h0M344.5 53.8h0M352.3 74.7h0M340.2 55.7h0M331.7 50.1h0M351.3 64.9h0M354.3 74.1h0M320.8 50.3h0M337.0 41.1h0M334.0 81.1h0M349.8 51.6h0M341.5 57.6h0M351.5 65.7h0M344.6 46.2h0M332.2 37.9h0M345.8 65.5h0M357.3 54.8h0M337.3 73.6h0M325.5 70.3h0M344.1 68.5h0M332.4 71.6h0M332.4 70.0h0M331.7 52.2h0M339.1 68.7h0M330.0 42.8h0M335.1 39.8h0M332.9 67.8h0M352.0 61.9h0M328.8 64.8h0M331.2 68.9h0M322.8 56.1h0M330.8 49.9h0M333.9 44.2h0M340.1 71.5h0M337.8 82.8h0M324.1 56.7h0M322.8 51.1h0M346.2 65.8h0M332.4 79.1h0M352.5 72.4h0M318.2 54.1h0M333.4 55.1h0M358.5 59.8h0M356.2 59.0h0M336.5 54.0h0M336.5 42.2h0M357.2 74.2h0M350.6 73.6h0M322.3 59.9h0M356.3 54.0h0M353.6 56.5h0M324.7 67.0h0M317.8 61.9h0M324.3 71.2h0M332.1 66.9h0M338.2 58.8h0M354.3 58.2h0M321.9 60.4h0M339.8 68.4h0M350.7 69.4h0M338.1 42.2h0M353.9 52.6h0M342.0 51.3h0M341.2 41.7h0M338.5 41.4h0M342.2 67.1h0M346.1 63.1h0M338.7 40.4h0M320.4 68.3h0M343.2 65.7h0M333.4 66.3h0M349.3 100.5h0M343.4 101.6h0M343.3 96.1h0M348.8 96.1h0M346.4 107.7h0M340.8 97.9h0M340.5 100.4h0M349.2 104.1h0M343.2 103.3h0M340.0 97.6h0M351.9 105.7h0M351.3 105.5h0M347.5 104.1h0M351.7 96.9h0M349.4 106.7h0M344.9 108.0h0M344.6 106.5h0M348.7 97.6h0M350.8 104.2h0M348.6 104.0h0M345.4 107.7h0M346.6 103.5h0M341.9 97.9h0M349.5 99.4h0M349.9 101.0h0M350.0 101.0h0M343.1 99.5h0M348.4 101.8h0M343.9 95.7h0M348.8 96.9h0M341.3 103.3h0M347.4 98.3h0M342.2 104.6h0M346.9 96.3h0M343.2 104.9h0M342.2 106.9h0M346.1 96.0h0M346.0 100.1h0M351.9 103.7h0M343.2 99.1h0M341.6 103.1h0M341.4 98.3h0M352.8 104.1h0M345.3 101.7h0M340.0 99.4h0M344.7 98.4h0M343.8 103.2h0M351.9 98.4h0M351.5 105.7h0M348.1 96.7h0M343.6 103.9h0M340.2 102.9h0M341.9 100.5h0M346.3 106.4h0M352.8 99.0h0M349.3 99.2h0M346.6 106.4h0M344.1 95.9h0M344.6 100.2h0M344.5 96.3h0M343.5 104.4h0M341.6 102.2h0M352.0 100.2h0M345.3 105.6h0M341.4 104.8h0M343.3 98.6h0M352.4 104.5h0M351.5 97.7h0M348.3 102.6h0M340.2 100.8h0M341.7 104.2h0M349.1 100.4h0M350.3 100.4h0M342.6 102.9h0M339.9 103.1h0M341.6 98.5h0M340.4 101.9h0M347.7 102.0h0M342.6 101.3h0M351.9 102.7h0M343.2 107.7h0M342.3 96.8h0M341.1 104.9h0M342.3 100.0h0M345.8 104.4h0M344.6 106.7h0M344.7 96.5h0M343.6 101.3h0M340.6 102.3h0M343.5 96.0h0M351.0 104.9h0M347.7 107.1h0M342.7 97.9h0M345.5 104.2h0M347.4 94.9h0M342.3 101.8h0M341.6 104.0h0M340.2 99.5h0M351.6 103.1h0M343.2 101.7h0M345.2 102.7h0M347.3 106.5h0M345.8 97.0h0M350.4 102.0h0M339.5 102.1h0M343.6 99.0h0M346.7 105.7h0M346.3 95.7h0M343.8 106.0h0M345.4 98.4h0M344.9 102.6h0M346.6 107.4h0M347.6 106.8h0M345.7 101.2h0M348.1 96.8h0M345.1 98.3h0M343.5 103.9h0M343.3 106.3h0M353.5 102.9h0M352.3 100.7h0M347.7 98.6h0M345.4 95.1h0M350.6 104.4h0M344.7 98.0h0M347.7 103.2h0M343.1 106.9h0M348.4 107.7h0M345.0 103.5h0M346.4 105.3h0M349.4 106.5h0M340.3 102.3h0M347.7 99.5h0M344.7 97.1h0M344.6 96.8h0M342.4 103.1h0M351.2 100.2h0M348.3 100.8h0M344.9 107.7h0M343.3 99.3h0M348.1 107.8h0M347.5 99.5h0M342.7 104.6h0M351.3 104.7h0M351.5 100.0h0M347.7 104.1h0M352.1 102.0h0M352.3 104.6h0M353.0 99.9h0M341.7 98.5h0M351.3 100.1h0M350.4 105.1h0M350.3 96.9h0M347.2 99.0h0M347.6 104.8h0M346.9 103.1h0M345.1 105.3h0M346.7 108.8h0M351.5 107.0h0M343.8 100.3h0M347.6 95.5h0M343.4 98.9h0M345.6 98.3h0M340.8 101.3h0M353.0 102.5h0M340.2 104.0h0M347.7 101.9h0M347.2 106.4h0M348.1 105.9h0M350.9 104.9h0M340.5 99.4h0M344.4 95.3h0M347.3 104.5h0M352.0 97.0h0M347.8 105.9h0M349.3 98.5h0M345.9 107.3h0M351.8 104.8h0M341.9 96.8h0M344.7 101.8h0M347.9 102.2h0M352.8 99.6h0M344.7 102.1h0M341.3 102.9h0M349.6 103.7h0M346.7 100.4h0M352.2 99.9h0M346.6 106.6h0M343.4 107.4h0M349.9 106.8h0M349.7 106.5h0M345.7 106.4h0M345.5 94.9h0M351.5 97.7h0M348.8 100.6h0M343.0 100.9h0M347.5 104.4h0M342.4 97.9h0M344.8 98.1h0M343.3 100.5h0M342.6 96.8h0M346.7 104.2h0M345.0 102.7h0M351.6 102.7h0M344.1 101.8h0M353.1 100.8h0M342.3 102.2h0M352.8 101.1h0M342.9 102.6h0M349.6 101.8h0M351.9 106.3h0M340.9 103.9h0M345.5 98.1h0M347.6 103.2h0M344.4 100.1h0M350.6 97.5h0M341.9 101.7h0M347.2 95.3h0M348.4 106.1h0M350.9 107.1h0M349.0 95.0h0M352.6 99.3h0M349.0 102.4h0M345.5 108.4h0M347.5 104.5h0M339.9 101.8h0M349.5 99.0h0M344.4 98.9h0M342.6 104.8h0M351.7 102.4h0M346.2 103.2h0M352.3 99.6h0M346.0 94.5h0M347.8 99.7h0M345.5 102.2h0M351.5 101.8h0M343.3 107.2h0M351.0 106.3h0M353.4 102.2h0M341.9 99.3h0M348.9 100.8h0M341.7 99.1h0M349.8 105.0h0M342.9 100.7h0M348.5 98.1h0M351.5 101.5h0M342.9 102.0h0M346.7 96.5h0M344.0 99.8h0M349.2 96.3h0M351.5 98.6h0M347.3 100.5h0M343.3 95.4h0M342.0 98.8h0M352.5 104.6h0M343.6 102.9h0M347.2 98.2h0M341.3 97.4h0M340.1 104.9h0M348.1 103.6h0M347.7 98.3h0M345.8 100.1h0M342.2 105.3h0M343.8 95.7h0M348.5 101.8h0M347.9 102.2h0M346.4 104.4h0M343.9 97.7h0M352.1 101.6h0M343.9 105.5h0M347.0 107.4h0M347.9 104.5h0M349.6 103.2h0M347.7 97.9h0M353.3 99.3h0M344.4 99.0h0M340.3 100.6h0M341.3 106.4h0M342.7 100.1h0M344.3 101.5h0M343.7 106.0h0M352.9 102.7h0M342.8 104.9h0M351.4 102.4h0M348.8 103.7h0M345.7 101.5h0M340.7 99.0h0M347.2 99.7h0M352.2 101.1h0M352.8 101.5h0M346.4 99.8h0M351.1 97.9h0M350.2 102.6h0M342.6 102.8h0M352.9 104.6h0M347.9 106.5h0M343.9 106.7h0M341.3 97.4h0M342.5 102.9h0M350.2 104.6h0M342.1 106.4h0M347.9 99.9h0M345.9 95.2h0M346.5 99.6h0M343.7 99.6h0M341.9 101.1h0M340.8 99.2h0M345.7 96.3h0M344.0 103.6h0M347.9 102.1h0M348.9 101.8h0M343.7 95.5h0M342.7 104.5h0M350.3 107.4h0M348.2 95.1h0M347.5 108.3h0M347.7 101.8h0M340.4 105.8h0M350.4 102.0h0M341.9 105.9h0M342.8 98.4h0M348.7 107.2h0M351.0 103.8h0M345.9 102.3h0M350.4 107.4h0M344.7 99.2h0M346.5 101.5h0M345.5 104.6h0M349.4 107.3h0M350.4 104.3h0M348.8 95.9h0M345.9 99.5h0M351.7 101.4h0M345.4 95.1h0M342.9 105.2h0M343.9 102.8h0M339.7 102.4h0M352.1 101.4h0M347.1 104.8h0M344.1 105.2h0M344.5 99.7h0M346.9 107.6h0M350.8 97.8h0M348.3 105.1h0M346.2 100.7h0M347.8 102.5h0M343.2 96.5h0M345.9 97.1h0M346.7 102.4h0M348.0 95.8h0M349.2 101.3h0M351.9 96.2h0M347.5 106.7h0M352.1 100.2h0M348.6 93.9h0M342.0 96.6h0M349.1 98.5h0M339.8 101.4h0M350.1 104.9h0M346.3 96.6h0M342.7 99.1h0M349.1 97.1h0M347.9 97.8h0M342.8 101.7h0M348.7 103.4h0M351.6 100.5h0M350.7 107.1h0M354.0 99.6h0M344.0 104.1h0M343.5 104.2h0M351.0 101.0h0M347.3 104.0h0M340.5 102.4h0M348.9 94.9h0M341.5 103.0h0M343.8 102.0h0M346.8 103.3h0M347.8 101.3h0M341.4 97.6h0M346.1 100.5h0M345.6 99.0h0M345.3 105.1h0M344.2 101.1h0M347.4 97.8h0M346.0 98.5h0M350.2 104.4h0M348.1 101.7h0M349.1 103.4h0M348.6 95.3h0M344.2 103.4h0M350.6 104.4h0M342.8 97.7h0M348.3 95.9h0M349.2 106.0h0M349.1 94.6h0M343.9 103.8h0M351.6 104.2h0M344.2 100.6h0M341.7 97.0h0M346.5 99.6h0M360.8 98.3h0M356.7 95.2h0M358.8 94.7h0M361.4 95.9h0M354.0 96.7h0M358.4 97.5h0M356.2 96.3h0M355.2 98.3h0M362.0 95.9h0M363.5 95.7h0M355.1 98.5h0M357.9 94.7h0M359.7 98.6h0M361.3 94.9h0M358.6 90.4h0M352.9 101.9h0M351.2 102.9h0M353.4 103.8h0M350.2 105.0h0M349.6 101.2h0M353.7 102.3h0M350.7 97.6h0M359.3 102.2h0M357.5 96.5h0M349.8 99.5h0M356.2 101.8h0M354.8 103.6h0M350.0 103.1h0M348.2 100.1h0M353.8 97.7h0M352.8 105.5h0M349.9 101.3h0M353.8 96.1h0M356.3 105.9h0M352.8 107.7h0M353.7 104.2h0M345.9 101.4h0M352.1 107.3h0M347.8 102.3h0M352.4 99.5h0M349.8 95.4h0M346.9 102.3h0M352.0 101.7h0M355.8 98.6h0M356.4 105.7h0M354.2 100.7h0M353.2 101.1h0M352.6 94.1h0M350.1 98.0h0M347.0 100.8h0M360.8 100.1h0M350.3 106.0h0M357.9 102.9h0M359.7 101.7h0M355.9 104.7h0M351.4 105.8h0M352.1 106.7h0M354.4 101.4h0M350.3 100.6h0M354.5 99.6h0M347.5 103.5h0M352.7 96.3h0M350.1 103.8h0M346.6 99.8h0M356.6 105.5h0M359.3 100.8h0M354.3 105.8h0M356.8 96.7h0M352.3 103.7h0M356.3 102.9h0M348.5 106.0h0M348.0 101.5h0M353.3 94.4h0M348.6 102.4h0M360.0 101.0h0M349.2 101.8h0M357.9 98.4h0M351.5 101.8h0M358.2 99.3h0M350.4 104.4h0M353.8 104.2h0M351.5 103.9h0M348.6 98.9h0M349.6 102.4h0M354.7 105.0h0M358.0 98.3h0M354.5 97.6h0M353.2 100.4h0M357.0 103.0h0M351.2 97.0h0M353.7 105.2h0M347.9 98.1h0M356.4 95.5h0M356.9 101.6h0M350.2 104.3h0M355.5 102.2h0M349.1 101.9h0M351.5 96.6h0M354.0 100.5h0M352.8 97.6h0M356.5 97.9h0M355.5 104.5h0M353.2 101.1h0M350.2 97.9h0M348.0 101.3h0M355.0 96.3h0M354.4 96.9h0M359.2 105.3h0M352.6 96.1h0M388.2 109.7h0M384.3 105.1h0M383.6 106.2h0M384.8 108.4h0M383.9 111.1h0M389.7 106.8h0M370.9 108.4h0M378.9 96.5h0M383.1 112.9h0M378.5 104.4h0M383.0 103.7h0M383.4 100.2h0M383.2 113.3h0M384.2 103.6h0M382.0 101.8h0M387.0 105.2h0M381.0 106.9h0M388.3 104.5h0M375.6 101.8h0M382.1 103.1h0M389.7 110.3h0M379.7 111.9h0M382.9 113.1h0M388.5 111.1h0M379.5 103.1h0M390.0 105.6h0M382.9 112.4h0M372.2 104.0h0M375.9 104.5h0M375.3 109.9h0M384.6 107.8h0M376.1 105.1h0M378.8 112.9h0M375.1 112.2h0M376.8 103.3h0M372.7 103.8h0M372.6 101.6h0M388.8 109.2h0M386.6 99.1h0M377.6 109.8h0M382.9 110.7h0M383.8 106.1h0M371.8 106.4h0M373.7 105.3h0M388.6 103.1h0M378.5 108.3h0M375.2 102.9h0M378.0 105.7h0M388.1 100.6h0M375.1 99.2h0M376.9 97.6h0M384.9 104.6h0M374.5 100.6h0M376.8 98.5h0M375.8 99.5h0M377.6 112.3h0M384.3 104.4h0M378.4 111.3h0M384.2 113.7h0M376.7 100.0h0M375.1 109.9h0" stroke="#a9d9aa" stroke-width="0.85" stroke-linecap="round" fill="none" opacity="0.42"/>
<path d="M349.6 102.1h0M340.8 103.6h0M340.6 100.0h0M348.0 96.3h0M352.9 102.2h0M352.3 101.5h0M340.3 102.0h0M347.0 99.2h0M349.5 105.1h0M341.9 100.1h0M346.9 96.0h0M351.1 98.8h0M343.3 100.0h0M345.5 100.8h0M347.2 100.1h0M344.3 106.2h0M343.4 100.5h0M347.9 104.1h0M341.4 99.4h0M345.5 97.2h0M342.3 96.4h0M352.9 98.8h0M347.3 106.3h0M343.9 107.4h0M349.9 106.4h0M349.4 96.5h0M347.4 95.7h0M344.2 99.3h0M350.6 100.4h0M351.9 102.0h0M343.5 99.0h0M343.7 107.8h0M341.4 100.9h0M351.8 98.5h0M344.6 94.9h0M351.1 106.0h0M340.9 104.4h0M350.4 103.2h0M344.0 105.1h0M352.3 102.4h0M348.5 105.6h0M349.9 107.0h0M341.5 102.4h0M342.2 104.6h0M345.1 102.7h0M345.6 103.6h0M345.1 95.6h0M344.5 105.7h0M339.9 104.3h0M387.7 103.3h0M385.1 99.4h0M387.0 100.7h0M384.8 113.1h0M376.0 106.3h0M385.4 108.7h0M380.5 100.9h0M387.1 108.3h0M387.0 106.5h0M383.0 114.4h0M386.3 104.3h0M382.9 101.8h0M388.7 110.6h0M379.2 105.2h0M387.1 103.1h0M385.6 107.9h0M386.6 110.4h0M372.4 100.7h0M384.5 103.1h0M382.1 112.8h0M372.7 104.1h0M373.0 103.8h0M387.7 112.8h0M386.8 103.0h0M376.9 109.0h0M385.4 114.0h0M386.7 108.4h0M379.0 102.0h0M371.9 107.3h0M388.6 111.4h0M384.1 102.3h0M378.8 99.6h0M376.7 111.1h0M375.9 112.6h0M388.1 103.9h0M385.2 101.3h0M389.9 106.5h0M373.3 107.2h0M386.2 109.8h0M378.2 108.5h0M387.9 109.4h0M378.6 110.9h0M382.1 98.0h0M386.2 98.6h0M380.9 102.2h0M388.9 101.1h0M385.6 112.1h0M375.8 100.4h0M386.2 101.8h0M371.5 106.2h0M389.1 107.0h0M373.7 108.1h0M386.3 104.1h0M384.6 98.5h0M378.9 99.1h0M385.4 110.7h0M376.6 112.1h0M378.5 102.1h0M378.8 102.1h0M374.4 102.2h0M386.2 107.5h0M385.4 101.0h0M376.2 106.4h0M373.7 105.4h0M388.1 102.1h0M374.6 110.3h0M379.6 102.7h0M384.5 103.7h0M380.5 104.5h0M383.1 114.4h0M377.3 101.4h0M385.2 101.8h0M382.4 110.9h0M381.8 110.0h0M389.7 106.6h0M384.4 101.0h0M377.6 110.2h0M386.5 108.6h0M380.9 98.3h0M382.3 98.6h0M388.9 103.2h0M375.9 108.7h0M383.4 102.0h0M384.3 100.8h0M381.2 107.1h0M382.9 98.0h0M381.7 101.9h0M389.7 105.1h0M384.0 114.0h0M375.3 99.0h0M386.1 100.3h0M376.4 103.7h0M382.9 114.5h0M385.6 99.6h0M385.9 100.1h0M377.2 110.7h0M385.8 106.0h0M377.8 114.5h0M386.0 103.1h0M387.5 104.6h0M384.0 111.7h0M385.7 107.7h0M376.2 111.8h0M385.7 98.8h0M383.0 108.3h0M380.5 105.8h0M385.9 110.8h0M382.8 99.3h0M385.5 109.7h0M372.8 103.4h0M382.8 113.1h0M375.8 109.5h0M384.4 112.8h0M376.9 108.3h0M374.2 100.3h0M382.8 103.3h0M382.5 106.0h0M374.5 100.7h0M380.3 100.2h0M376.5 111.3h0M385.0 113.3h0M386.0 100.3h0M383.8 102.9h0M380.1 100.8h0M380.3 99.1h0M377.3 111.5h0M385.1 113.2h0M376.9 113.7h0M374.0 105.8h0M378.9 99.9h0M387.8 101.7h0M384.3 99.5h0M382.4 99.0h0M379.8 108.0h0M383.5 111.8h0M376.0 112.1h0M386.1 101.4h0M386.1 109.9h0M373.4 102.9h0M376.7 106.3h0M381.1 113.5h0M383.1 112.4h0M379.5 99.9h0M378.3 103.1h0M376.7 112.2h0M371.1 107.3h0M378.8 102.4h0M377.5 99.6h0M374.9 99.2h0M377.7 100.5h0M380.0 106.1h0M376.0 98.1h0M378.2 108.0h0M379.7 112.8h0M383.4 99.1h0M379.1 105.7h0M385.0 113.5h0M389.3 105.7h0M390.1 103.9h0M387.9 107.1h0M387.0 111.5h0M386.2 108.5h0M382.4 100.6h0M385.1 112.2h0M381.2 113.0h0M384.1 111.6h0M376.0 98.8h0M378.0 107.4h0M382.0 113.8h0M374.0 107.7h0M374.9 108.2h0M379.1 115.1h0M377.5 106.8h0M380.9 114.6h0M375.5 106.4h0M377.5 113.0h0M382.3 105.0h0M387.3 105.3h0M388.8 106.1h0M375.9 102.5h0M383.6 107.5h0M376.4 109.3h0M383.8 110.6h0M386.2 100.1h0M380.3 108.2h0M379.5 109.7h0M381.9 109.5h0M387.0 111.8h0M383.5 100.6h0M387.7 105.0h0M379.0 101.4h0M383.2 103.6h0M389.1 107.0h0M389.3 108.6h0M382.4 110.1h0M380.1 104.8h0M378.0 107.6h0M381.1 107.2h0M388.4 99.7h0M380.4 107.8h0M381.6 98.6h0M386.7 113.2h0M377.5 103.0h0M375.6 104.7h0M385.2 106.9h0M381.9 107.5h0M376.7 111.0h0M386.8 99.7h0M381.3 113.6h0M373.6 108.4h0M389.2 109.3h0M383.9 110.4h0M386.7 99.4h0M388.1 106.2h0M381.2 100.7h0M380.4 104.0h0M377.8 112.8h0M386.5 99.2h0M378.8 112.9h0M387.6 101.4h0M383.4 101.0h0M385.2 111.5h0M375.9 99.7h0M381.2 111.3h0M387.0 109.5h0M371.6 108.1h0M381.2 109.4h0M380.3 108.8h0M387.2 102.0h0M377.4 111.6h0M374.8 104.8h0M377.2 100.3h0M385.5 108.9h0M373.1 107.2h0M387.9 109.5h0M382.5 101.3h0M381.5 97.8h0M378.7 102.5h0M385.0 100.8h0M386.8 99.9h0M374.8 111.1h0M386.1 113.6h0M380.4 110.1h0M380.1 106.1h0M384.0 105.8h0M387.1 112.9h0M380.1 99.8h0M374.5 100.2h0M372.2 102.2h0M381.6 99.5h0M381.4 104.1h0M382.1 100.3h0M381.4 111.9h0M380.7 113.3h0M381.9 108.3h0M378.3 100.8h0M378.0 109.8h0M375.7 104.0h0M382.6 103.4h0M379.5 103.1h0M386.5 111.3h0M383.8 101.5h0M384.3 98.3h0M378.1 112.3h0M382.2 105.6h0M383.8 98.5h0M382.7 97.1h0M382.0 111.6h0M373.8 102.1h0M380.3 109.7h0M389.2 112.8h0M372.0 105.5h0M381.5 106.2h0M382.0 101.9h0M382.1 112.8h0M382.3 105.2h0M373.6 104.3h0M376.3 100.9h0M378.5 114.7h0M381.0 110.9h0M389.2 108.8h0M384.4 98.8h0M378.4 114.1h0M375.7 102.7h0M385.3 99.7h0M378.1 114.2h0M373.2 107.7h0M385.8 113.8h0M381.7 113.1h0M379.4 106.2h0M385.1 112.6h0M390.0 106.1h0M388.7 104.3h0M377.2 109.8h0M385.4 102.3h0M388.3 103.8h0M374.2 106.4h0M376.6 109.3h0M373.3 104.2h0M383.5 108.6h0M381.9 100.0h0M381.6 97.7h0M376.0 112.7h0M381.0 108.3h0M376.7 106.6h0M373.4 110.7h0M381.1 107.1h0M379.4 105.6h0M384.9 101.9h0M381.7 111.5h0M382.5 100.5h0M388.0 111.0h0M379.4 100.5h0M377.2 103.3h0M376.3 107.1h0M389.7 102.5h0M382.6 112.7h0M373.4 104.7h0M379.6 103.5h0M387.4 107.1h0M387.7 104.2h0M384.2 113.7h0M374.5 99.8h0M377.9 113.7h0M390.1 105.5h0M376.8 108.3h0M375.6 105.1h0M384.8 109.0h0M376.2 103.4h0M382.4 105.5h0M375.7 99.7h0M384.6 104.1h0M386.4 102.8h0M382.9 104.2h0M379.4 110.6h0M384.6 108.1h0M384.9 99.4h0M373.1 106.1h0M381.3 103.2h0M372.6 102.1h0M389.8 103.8h0M386.3 110.4h0M383.1 108.5h0M377.4 102.0h0M374.8 101.8h0M378.5 101.2h0M378.4 109.3h0M371.9 103.3h0M382.0 106.0h0M384.1 104.4h0M381.4 98.5h0M386.5 109.4h0M383.5 101.0h0M375.8 104.8h0M381.4 99.0h0M377.2 109.6h0M374.1 104.0h0M381.8 108.3h0M380.5 101.5h0M377.0 108.2h0M385.6 106.6h0M380.8 107.6h0M382.9 97.5h0M379.5 105.0h0M374.2 101.1h0M377.5 114.7h0M381.0 102.9h0M389.3 109.8h0M390.4 107.2h0M375.4 109.2h0M383.3 100.9h0M377.0 100.7h0M387.4 111.8h0M379.5 99.2h0M381.8 102.9h0M383.9 108.4h0M379.2 107.1h0M384.8 107.2h0M387.6 105.4h0M380.1 109.5h0M374.8 104.4h0M387.0 105.1h0M384.3 97.3h0M378.9 110.6h0M382.1 99.9h0M387.7 102.6h0M379.8 106.3h0M389.1 108.6h0M376.2 100.0h0M375.5 101.8h0M377.2 109.0h0M385.9 110.4h0M374.8 110.3h0M387.6 110.3h0M381.4 113.0h0M386.6 111.7h0M387.3 97.9h0M387.3 111.1h0M381.5 103.8h0M387.4 102.9h0M378.0 100.3h0M381.1 108.4h0M371.6 110.8h0M383.9 98.1h0M389.6 107.3h0M382.6 114.1h0M373.6 104.7h0M374.0 101.2h0M377.6 106.9h0M385.2 101.5h0M387.3 111.1h0M378.9 111.4h0M387.6 112.7h0M387.7 105.7h0M389.0 112.0h0M385.1 105.7h0M378.7 113.3h0M385.9 102.4h0M388.5 110.7h0M382.7 112.3h0M385.2 111.6h0M375.3 102.0h0M380.4 103.3h0M383.5 100.3h0M380.6 112.5h0M380.0 110.8h0M385.0 104.9h0M380.0 104.1h0M374.8 104.6h0M386.0 109.4h0M374.4 102.5h0M377.7 110.6h0M374.5 112.0h0M382.4 113.2h0M385.2 112.5h0M371.4 104.4h0M382.5 107.0h0M385.8 113.2h0M372.4 106.9h0M383.4 102.1h0M374.8 100.3h0M381.5 105.6h0M380.1 101.0h0M383.8 100.6h0M378.8 100.8h0M374.2 107.4h0M381.3 105.8h0M381.1 98.8h0M376.8 105.4h0M373.9 105.7h0M373.0 108.3h0M376.8 112.3h0M376.6 108.5h0M378.6 105.9h0M386.2 110.4h0M382.0 100.9h0M384.9 105.3h0M385.0 106.5h0M389.2 108.2h0M375.9 103.2h0M384.8 114.9h0M382.6 113.9h0M383.0 111.0h0M376.4 110.8h0M380.3 113.3h0M386.9 105.0h0M376.9 106.1h0M383.0 103.7h0M385.3 105.6h0M383.5 113.4h0M390.2 105.6h0M380.3 103.9h0M384.9 107.6h0M378.1 104.9h0M373.6 103.0h0M377.0 99.1h0M390.1 104.5h0M387.8 103.1h0M386.6 100.8h0M374.5 109.7h0M383.9 113.2h0M373.5 104.4h0M386.8 109.8h0M379.2 114.3h0M373.5 103.4h0M378.6 110.5h0M375.2 102.0h0M390.2 104.9h0M383.1 104.6h0M383.9 102.5h0M383.9 105.0h0M377.5 103.8h0M381.2 112.5h0M387.5 106.9h0M377.6 112.3h0M378.2 101.7h0M381.8 110.4h0M374.8 112.5h0M375.4 112.5h0M376.0 104.2h0M383.8 99.6h0M387.7 113.3h0M385.5 113.5h0M378.6 113.5h0M373.5 101.3h0M387.8 113.7h0M382.4 108.6h0M383.2 113.3h0M374.5 102.0h0M384.6 105.9h0M383.9 99.8h0M379.8 99.4h0M383.7 108.3h0M379.9 105.9h0M384.1 110.4h0M379.6 101.6h0M381.9 102.8h0M379.4 104.0h0M374.0 102.8h0M377.5 114.2h0M371.6 107.1h0M381.9 114.0h0M388.0 109.7h0M381.3 99.0h0M389.3 102.6h0M374.2 100.8h0M377.3 100.3h0M379.8 99.0h0M379.6 104.9h0M380.3 100.0h0M388.6 107.1h0M377.1 111.7h0M378.5 105.6h0M381.1 101.8h0M375.9 108.3h0M383.0 105.4h0M380.8 104.8h0M383.7 111.7h0M390.2 106.9h0M381.0 100.3h0M379.1 108.4h0M386.4 102.9h0M380.1 106.4h0M382.7 110.8h0M389.3 105.2h0M374.0 110.2h0M381.9 114.7h0M380.3 104.7h0M390.5 110.6h0M376.4 111.3h0M376.9 105.5h0M384.8 111.3h0M383.5 113.6h0M373.6 110.7h0M378.7 110.6h0M376.4 106.7h0M388.6 105.1h0M388.2 102.5h0M384.5 105.7h0M386.5 107.5h0M389.1 102.4h0M375.1 105.2h0M382.2 96.6h0M375.9 102.2h0M371.8 107.7h0M380.8 105.4h0M382.8 98.9h0M382.7 101.1h0M380.1 112.8h0M381.5 102.1h0M386.8 108.5h0M372.6 102.8h0M382.6 102.4h0M379.3 100.1h0M385.2 101.9h0M389.0 105.7h0M373.2 105.1h0M384.9 105.2h0M384.3 102.5h0M387.9 108.3h0M388.0 99.1h0M386.7 102.8h0M385.4 106.0h0M389.2 106.0h0M382.4 103.4h0M383.6 100.9h0M384.0 102.3h0M381.3 102.8h0M381.6 114.9h0M388.5 111.3h0M377.7 99.6h0M379.7 105.8h0M378.8 110.2h0M389.0 105.3h0M387.5 106.5h0M383.7 112.0h0M373.8 103.0h0M379.4 98.1h0M381.0 102.2h0M380.8 101.7h0M383.8 107.6h0M383.2 108.3h0M376.6 100.1h0M388.8 107.2h0M371.4 103.8h0M377.1 106.5h0M376.3 105.9h0M388.4 105.5h0M378.9 103.2h0M385.6 110.8h0M377.5 113.2h0M388.3 109.9h0M383.8 99.5h0M386.4 99.9h0M382.7 104.6h0M374.9 108.6h0M387.2 111.5h0M388.4 108.4h0M375.2 102.3h0M378.7 111.3h0M372.6 107.6h0M387.4 101.9h0M379.9 104.6h0M384.1 109.3h0M374.2 109.3h0M387.6 102.5h0M374.3 105.2h0M378.0 103.6h0M373.0 103.4h0M376.0 104.7h0M375.9 107.8h0M377.4 105.9h0M390.3 108.3h0M381.5 102.7h0M373.2 105.9h0M384.6 106.9h0M380.9 98.3h0M388.1 103.6h0M380.8 112.9h0M386.0 100.0h0M379.9 109.7h0M374.7 109.6h0M378.1 108.1h0M382.1 108.3h0M372.6 101.3h0M387.3 108.4h0M385.7 105.4h0M371.3 105.5h0M384.1 107.4h0M387.8 110.6h0M371.6 107.2h0M381.4 97.5h0M373.0 101.8h0M385.7 107.1h0M377.5 98.5h0M374.8 101.0h0M378.7 110.7h0M386.4 110.4h0M375.7 103.4h0M374.1 106.8h0M381.7 112.5h0M384.6 100.9h0M373.6 100.6h0M389.6 105.4h0M373.8 109.0h0M379.0 111.5h0M381.8 111.0h0M379.6 102.5h0M378.4 98.3h0M380.2 105.9h0M382.0 103.4h0M384.8 99.7h0M384.4 107.4h0M373.7 102.5h0M380.6 112.0h0M375.7 100.3h0M384.1 106.1h0M386.4 103.1h0M381.3 108.6h0M383.1 102.1h0M382.2 98.1h0M379.0 110.9h0M385.5 97.8h0M379.0 109.3h0M383.4 105.0h0M381.7 102.2h0M385.9 102.3h0M387.3 106.7h0M371.9 108.5h0M376.2 99.4h0M376.5 103.7h0M388.2 107.8h0M390.8 104.6h0M386.9 112.1h0M378.9 104.4h0M390.0 103.5h0M375.3 104.8h0M383.3 102.6h0M381.5 102.0h0M387.9 103.9h0M381.8 98.8h0M384.1 96.6h0M389.5 104.1h0M373.1 102.6h0M385.0 109.7h0M375.5 98.9h0M373.9 108.3h0M386.1 102.5h0M381.7 101.3h0M383.9 111.9h0M372.8 108.9h0M387.4 102.5h0M387.9 105.4h0M387.9 110.5h0M382.0 102.9h0M380.7 110.5h0M380.4 98.7h0M385.8 105.3h0M379.8 104.3h0M374.0 102.4h0M372.0 105.1h0M386.9 109.1h0M377.4 98.5h0M382.1 101.8h0M378.6 110.5h0M379.0 99.4h0M384.3 109.1h0M374.5 102.2h0M385.8 112.4h0M380.6 101.4h0M386.5 111.3h0M390.1 108.4h0M372.3 108.4h0M374.5 110.1h0M383.4 100.1h0M385.8 99.4h0M376.3 104.1h0M375.1 102.5h0M374.6 107.5h0M371.0 108.5h0M367.5 103.8h0M369.4 105.5h0M365.1 106.9h0M370.4 104.5h0M367.3 105.7h0M371.2 104.3h0M371.3 104.6h0M371.8 104.1h0M372.1 108.3h0M362.6 105.6h0M365.9 103.3h0M366.1 102.8h0M371.1 104.7h0M370.0 104.3h0" stroke="#ebedae" stroke-width="0.85" stroke-linecap="round" fill="none" opacity="0.42"/>
<path d="M368.3 67.3h0M357.5 66.9h0M365.6 72.3h0M364.6 72.7h0M359.7 71.6h0M365.2 69.4h0M360.7 63.2h0M365.2 68.8h0M357.2 67.9h0M358.4 65.9h0M367.5 70.1h0M353.3 67.8h0M369.0 68.1h0M368.3 68.7h0M364.8 69.7h0M368.9 64.4h0M354.0 70.2h0M364.7 71.9h0M369.1 66.5h0M364.7 73.7h0M357.9 69.6h0M363.2 71.4h0M358.1 63.9h0M363.7 72.1h0M353.3 70.0h0M357.8 68.2h0M355.7 68.2h0M385.8 70.2h0M385.2 70.7h0M372.6 71.7h0M377.7 71.3h0M389.1 65.0h0M386.6 65.2h0M387.3 64.7h0M376.3 70.0h0M373.6 66.8h0M371.5 68.3h0M387.1 67.9h0M387.7 68.8h0M370.6 68.7h0M385.9 66.9h0M411.7 41.9h0M414.9 49.3h0M404.9 47.7h0M421.3 56.9h0M402.6 52.2h0M398.2 55.0h0M417.6 45.4h0M428.1 48.1h0M423.8 50.5h0M403.9 52.6h0M413.4 68.1h0M418.2 57.5h0M397.8 54.8h0M412.9 55.9h0M411.6 47.8h0M424.2 51.5h0M423.5 62.5h0M410.0 63.0h0M414.3 45.8h0M401.8 51.5h0M405.4 64.3h0M412.4 59.9h0M408.1 66.6h0M410.8 49.2h0M405.3 51.2h0M398.1 47.2h0M401.5 57.3h0M407.5 51.1h0M415.2 62.4h0M418.8 64.7h0M414.4 53.8h0M398.2 49.2h0M410.9 46.0h0M425.0 50.7h0M405.9 53.4h0M415.7 62.8h0M420.1 43.8h0M421.2 64.2h0M411.5 68.5h0M400.2 65.8h0M397.1 66.4h0M410.4 53.2h0M400.5 49.8h0M398.7 62.9h0M426.5 59.5h0M420.1 46.7h0M416.6 65.6h0M402.6 67.2h0M417.5 46.3h0M413.1 67.0h0M423.8 58.3h0M422.4 56.3h0M426.7 58.7h0M415.5 46.7h0M413.1 52.7h0M414.4 59.6h0M422.1 61.8h0M401.2 54.0h0M405.9 50.5h0M409.0 63.2h0M407.6 61.3h0M405.1 58.7h0M408.6 56.9h0M426.6 47.3h0M408.5 58.1h0M416.7 66.3h0M411.0 49.9h0M398.7 52.4h0M409.7 47.2h0M417.8 48.4h0M423.9 59.5h0M400.9 54.7h0M397.6 49.9h0M414.2 53.3h0M408.6 63.3h0M401.2 57.1h0M403.5 57.8h0M403.6 53.4h0M415.3 43.5h0M400.0 52.6h0M415.6 52.7h0M413.5 56.9h0M402.2 51.8h0M410.2 47.0h0M400.3 66.0h0M400.4 66.3h0M412.8 50.1h0M421.0 46.9h0M411.6 53.9h0M411.1 48.6h0M428.1 62.4h0M397.9 51.5h0M424.7 55.5h0M397.1 55.7h0M422.3 48.7h0M422.1 46.8h0M422.7 61.5h0M397.3 60.5h0M423.9 50.3h0M413.5 64.6h0M419.3 60.9h0M411.5 49.4h0M406.5 57.3h0M407.2 55.4h0M416.3 57.4h0M411.0 69.4h0M412.8 63.8h0M404.1 60.8h0M406.4 47.2h0M403.7 57.9h0M414.0 62.3h0M423.7 62.1h0M410.1 68.4h0M420.4 61.0h0M414.7 52.3h0M428.2 52.0h0M408.5 45.2h0M411.8 58.3h0M420.0 50.1h0M422.6 46.0h0M409.8 41.5h0M414.8 63.4h0M414.4 50.5h0M399.0 60.1h0M399.9 61.2h0M423.2 66.4h0M397.0 48.4h0M401.2 59.7h0M416.4 55.3h0M416.3 65.1h0M427.8 53.5h0M419.1 57.8h0M423.2 49.2h0M408.3 68.5h0M409.9 63.6h0M410.0 56.2h0M398.6 44.9h0M427.7 57.4h0M413.0 66.3h0M414.1 63.4h0M413.6 41.4h0M403.3 61.9h0M410.5 67.4h0M422.5 47.7h0M407.3 61.0h0M420.4 66.8h0M403.2 58.2h0M401.5 58.8h0M396.6 56.8h0M414.8 53.6h0M408.2 61.8h0M424.4 56.1h0M424.6 61.6h0M411.0 50.2h0M422.7 65.2h0M403.6 65.3h0M394.6 54.5h0M393.8 51.7h0M398.4 55.1h0M398.1 58.7h0M412.4 45.8h0M411.3 65.7h0M405.6 57.4h0M409.7 53.0h0M423.1 54.6h0M409.6 55.3h0M404.3 56.3h0M417.9 54.3h0M416.1 65.9h0M419.1 56.7h0M408.0 59.8h0M412.5 67.9h0M415.9 61.7h0M414.4 55.5h0M411.9 65.1h0M400.9 46.4h0M427.2 58.6h0M403.6 65.1h0M405.7 49.8h0M399.0 52.7h0M410.2 46.8h0M404.1 44.8h0M412.4 68.5h0M422.3 58.6h0M412.3 46.5h0M413.1 46.8h0M418.2 60.0h0M419.8 50.1h0M426.7 54.8h0M399.2 56.2h0M401.2 66.3h0M420.5 50.9h0M412.9 47.6h0M419.0 44.0h0M424.8 64.1h0M412.8 58.2h0M416.7 56.5h0M419.5 50.9h0M403.4 52.2h0M412.2 54.0h0M405.0 46.5h0M408.0 55.5h0M419.0 55.0h0M400.0 46.6h0M419.7 55.5h0M424.6 64.4h0M396.8 52.0h0M416.5 49.3h0M427.2 58.5h0M396.2 56.3h0M407.8 60.7h0M410.2 69.3h0M416.2 61.6h0M399.0 59.9h0M415.5 58.9h0M396.4 60.9h0M407.6 48.8h0M415.1 51.8h0M407.9 46.1h0M418.7 55.9h0M408.3 44.8h0M409.2 62.9h0M400.7 52.1h0M419.0 55.6h0M415.8 58.2h0M408.0 56.3h0M403.3 48.2h0M408.0 48.9h0M415.6 53.5h0M422.8 56.3h0M423.2 59.7h0M408.6 61.3h0M403.7 57.0h0M413.2 43.6h0M409.7 44.4h0M421.9 44.8h0M401.0 63.4h0M412.8 56.6h0M408.1 45.3h0M409.0 45.0h0M403.8 48.2h0M424.8 54.9h0M425.6 47.1h0M421.7 45.7h0M407.7 55.5h0M420.9 46.5h0M423.9 50.7h0M399.0 57.1h0M415.8 62.3h0M428.1 54.8h0M410.6 57.0h0M407.7 59.3h0M397.8 50.2h0M417.7 50.2h0M412.0 49.5h0M423.5 63.9h0M395.2 57.1h0M419.6 66.5h0M413.4 46.1h0M406.9 65.0h0M423.8 60.3h0M419.8 65.4h0M410.4 68.5h0M407.6 64.2h0M422.4 60.8h0M400.5 63.6h0M415.4 70.1h0M395.5 61.5h0M415.1 55.8h0M419.7 54.9h0M419.0 58.3h0M424.9 48.9h0M406.0 61.4h0M409.6 62.9h0M428.6 61.5h0M402.8 66.4h0M405.6 68.9h0M408.3 54.0h0M415.2 67.3h0M417.1 58.3h0M412.6 44.5h0M417.1 52.9h0M404.6 59.7h0M414.4 69.2h0M409.5 55.7h0M412.8 55.6h0M422.7 59.0h0M395.6 59.8h0M416.7 50.9h0M406.7 69.0h0M404.7 64.5h0M407.0 63.0h0M408.3 52.2h0M416.3 44.5h0M411.7 48.6h0M411.3 66.2h0M396.5 50.5h0M411.3 60.8h0M405.1 47.2h0M406.4 66.5h0M419.1 64.8h0M422.3 44.2h0M419.6 65.3h0M400.3 50.6h0M415.9 48.4h0M418.0 47.0h0M423.3 46.7h0M402.3 49.6h0M397.5 50.9h0M407.7 60.5h0M402.2 54.1h0M417.4 56.9h0M404.4 62.6h0M412.3 64.2h0M420.2 51.1h0M418.4 52.3h0M406.2 50.6h0M415.3 69.6h0M396.5 59.2h0M403.0 50.8h0M404.3 49.4h0M427.0 60.2h0M397.5 60.0h0M419.1 50.7h0M412.4 60.0h0M407.7 46.7h0M411.1 63.1h0M412.2 55.7h0M397.3 58.5h0M411.9 50.5h0M406.9 52.9h0M407.5 61.8h0M413.2 58.2h0M428.0 55.2h0M415.5 54.4h0M423.8 52.7h0M417.6 47.3h0M403.1 45.5h0M407.7 49.3h0M407.4 68.7h0M402.3 57.3h0M413.0 61.5h0M409.2 47.8h0M409.2 59.5h0M398.8 61.3h0M414.5 64.9h0M417.0 66.3h0M402.6 44.6h0M408.6 42.6h0M408.3 61.3h0M409.1 54.0h0M406.0 48.4h0M423.4 59.4h0M399.3 60.4h0M423.0 63.7h0M403.7 65.7h0M400.6 57.8h0M402.1 48.0h0M412.6 69.0h0M413.9 56.9h0M411.9 60.8h0M408.4 48.1h0M416.0 43.0h0M407.5 57.0h0M398.9 56.5h0M398.3 59.5h0M416.6 59.8h0M413.7 66.4h0M420.9 44.6h0M406.4 55.0h0M394.7 56.7h0M415.8 65.2h0M404.1 47.4h0M413.8 65.5h0M405.5 62.4h0M415.8 52.4h0M406.6 51.0h0M398.3 56.1h0M423.1 46.7h0M423.6 49.6h0M404.3 50.2h0M421.7 62.7h0M398.9 47.1h0M403.8 61.3h0M409.8 61.9h0M410.7 67.5h0M400.1 60.9h0M412.3 54.1h0M416.9 44.5h0M414.0 48.3h0M409.5 62.8h0M400.1 60.2h0M424.6 58.9h0M424.8 50.7h0M423.2 55.6h0M413.1 58.3h0M420.1 61.1h0M411.4 49.6h0M426.1 55.3h0M415.7 50.5h0M426.8 54.6h0M422.2 60.8h0M412.9 69.4h0M402.0 49.9h0M417.9 58.6h0M417.6 48.9h0M410.1 59.5h0M423.1 65.6h0M396.9 59.2h0M419.3 64.3h0M409.1 52.9h0M411.6 48.7h0M418.2 58.9h0M407.4 59.4h0M405.6 62.7h0M403.4 61.7h0M411.9 65.4h0M422.3 54.4h0M409.1 63.5h0M399.3 53.2h0M419.6 47.8h0M410.4 49.8h0M410.2 67.2h0M407.5 65.3h0M418.0 57.0h0M402.6 53.1h0M418.1 67.3h0M416.7 61.4h0M400.6 61.0h0M425.4 56.1h0M404.8 66.5h0M420.0 50.3h0M420.5 49.9h0M407.0 53.6h0M403.8 42.3h0M417.4 48.3h0M410.2 51.0h0M425.5 64.1h0M418.4 59.9h0M406.7 69.1h0M413.6 59.5h0M414.1 63.0h0M423.4 51.4h0M406.3 47.4h0M421.0 63.9h0M403.2 62.7h0M407.0 59.6h0M396.3 55.2h0M406.0 46.8h0M417.8 46.4h0M416.3 69.4h0M417.8 63.8h0M415.5 43.6h0M413.1 58.9h0M428.3 59.0h0M412.6 67.4h0M398.0 62.0h0M423.6 64.4h0M429.3 59.6h0M414.2 56.4h0M404.2 68.3h0M410.1 48.6h0M418.8 62.6h0M422.4 69.5h0M423.3 63.6h0M407.3 51.7h0M400.5 58.2h0M423.8 48.0h0M416.4 61.4h0M401.6 65.1h0M395.5 52.5h0M418.4 68.2h0M398.8 50.2h0M409.4 53.7h0M410.5 69.2h0M400.1 56.7h0M417.8 63.7h0M403.0 57.8h0M403.7 47.5h0M399.0 52.9h0M406.4 40.9h0M421.0 45.6h0M408.4 70.1h0M418.0 62.0h0M399.7 61.5h0M411.5 42.3h0M404.9 58.7h0M419.9 66.8h0M408.6 61.3h0M414.7 57.6h0M406.1 60.7h0M422.1 42.9h0M407.6 68.2h0M405.3 62.4h0M405.6 59.5h0M414.0 43.8h0M410.8 49.6h0M425.6 48.8h0M409.6 47.8h0M410.8 48.2h0M416.5 51.6h0M410.3 48.5h0M409.9 57.8h0M408.5 64.5h0M423.1 50.7h0M412.9 63.7h0M410.2 67.2h0M414.2 60.8h0M399.7 56.9h0M408.2 67.9h0M402.2 49.7h0M419.9 66.3h0M414.5 51.6h0M425.0 55.6h0M407.2 44.6h0M419.1 62.2h0M404.2 49.8h0M415.0 49.8h0M421.5 68.4h0M408.5 68.0h0M406.7 49.7h0M413.1 45.0h0M409.0 45.5h0M416.2 52.8h0M424.3 54.1h0M409.9 61.0h0M427.8 62.3h0M412.6 60.0h0M421.9 69.1h0M416.4 45.2h0M414.7 62.5h0M409.8 63.8h0M412.3 66.7h0M404.2 61.1h0M416.8 52.1h0M419.9 63.7h0M425.0 60.5h0M410.3 64.6h0M400.2 60.1h0M426.7 54.6h0M418.7 62.8h0M417.0 62.8h0M422.4 46.8h0M423.5 49.2h0M405.8 64.9h0M407.4 59.8h0M417.1 62.6h0M407.0 69.1h0M399.5 51.4h0M415.2 47.9h0M403.5 45.1h0M414.1 45.7h0M417.3 48.3h0M403.5 50.8h0M415.6 63.6h0M407.7 50.2h0M399.6 49.8h0M406.8 46.6h0M417.6 64.0h0M398.3 62.2h0M424.3 53.5h0M401.4 62.7h0M422.3 51.1h0M409.9 63.3h0M406.0 68.4h0M410.8 66.9h0M409.2 51.2h0M410.2 68.7h0M425.6 49.4h0M416.4 67.4h0M411.7 53.3h0M420.2 50.0h0M401.3 61.4h0M416.8 60.3h0M424.3 62.4h0M419.3 64.6h0M417.8 54.9h0M397.0 51.5h0M414.5 56.5h0M412.5 67.9h0M415.0 70.3h0M415.2 49.2h0M408.9 48.6h0M399.5 53.3h0M400.4 63.8h0M414.1 57.0h0M414.7 66.1h0M417.2 66.2h0M397.2 61.7h0M407.2 61.5h0M413.8 50.9h0M417.2 47.5h0M402.7 49.7h0M415.7 48.5h0M405.1 60.5h0M420.6 64.7h0M422.6 68.4h0M410.5 53.3h0M419.0 44.1h0M397.3 61.7h0M403.0 54.6h0M421.9 58.5h0M412.4 56.7h0M400.8 49.0h0M402.8 53.6h0M402.9 64.9h0M414.2 64.8h0M426.3 51.8h0M396.2 52.9h0M416.9 68.0h0M421.0 66.3h0M399.2 49.9h0M421.9 68.2h0M414.7 67.0h0M417.6 51.4h0M414.6 58.3h0M411.9 58.1h0M414.2 67.2h0M427.3 55.4h0M397.5 52.7h0M414.3 59.2h0M422.1 46.3h0M403.6 58.8h0M410.5 64.1h0M409.5 54.3h0M417.6 51.8h0M404.8 64.4h0M416.1 48.3h0M408.4 68.6h0M407.5 45.0h0M398.3 48.4h0M416.6 71.6h0M427.2 59.2h0M415.3 64.8h0M421.4 53.1h0M406.9 58.1h0M425.2 55.4h0M424.8 53.1h0M405.9 58.7h0M410.2 51.3h0M414.0 47.3h0M424.0 65.0h0M417.4 66.6h0M414.6 61.8h0M400.0 44.4h0M404.5 63.9h0M397.3 52.1h0M415.6 58.2h0M405.2 52.1h0M405.6 49.1h0M405.6 44.7h0M415.8 61.2h0M404.8 64.5h0M413.3 53.7h0M426.5 48.1h0M415.9 61.5h0M418.0 65.8h0M414.8 51.4h0M404.2 52.9h0M423.6 58.5h0M396.8 51.6h0M426.9 51.1h0M410.7 46.7h0M402.0 51.7h0M409.8 53.7h0M419.6 45.8h0M403.6 59.7h0M423.2 52.4h0M403.4 59.8h0M414.5 67.6h0M396.9 60.8h0M425.1 47.2h0M421.4 51.2h0M412.0 49.1h0M429.1 52.8h0M400.5 51.0h0M421.5 53.7h0M400.7 61.1h0M399.2 59.9h0M407.4 51.0h0M424.6 54.5h0M416.4 45.4h0M398.0 52.3h0M400.0 48.4h0M410.9 57.0h0M427.1 57.0h0M414.0 68.2h0M412.3 66.9h0M427.8 56.3h0M410.6 56.2h0M403.2 56.9h0M422.8 67.8h0M414.1 65.6h0M407.4 57.2h0M403.0 60.8h0M413.2 61.5h0M424.3 67.2h0M405.4 57.8h0M398.0 54.7h0M397.7 62.0h0M415.7 48.2h0M408.9 51.3h0M407.3 54.6h0M411.5 65.9h0M427.2 58.4h0M420.7 59.8h0M416.0 50.3h0M416.7 57.2h0M416.7 42.4h0M405.2 57.9h0M420.6 46.0h0M402.2 55.1h0M418.8 55.3h0M404.1 45.8h0M425.5 52.7h0M420.1 47.5h0M404.3 48.6h0M417.1 56.5h0M404.7 61.4h0M416.3 55.1h0M413.3 64.6h0M408.1 47.0h0M421.7 53.1h0M423.2 60.5h0M402.0 61.4h0M418.7 57.4h0M400.0 54.9h0M420.9 57.5h0M409.1 51.3h0M411.5 54.6h0M417.1 63.4h0M399.5 54.7h0M422.8 61.6h0M415.6 58.9h0M412.7 56.7h0M421.9 58.3h0M417.7 53.1h0M405.2 62.2h0M420.2 51.9h0M420.7 51.0h0M430.6 54.8h0M405.3 68.0h0M404.9 52.0h0M405.5 66.6h0M423.6 53.1h0M407.5 42.3h0M405.7 59.9h0M399.7 50.4h0M397.6 52.1h0M417.0 58.4h0M424.2 52.9h0M411.6 46.5h0M415.9 48.4h0M427.1 55.2h0M422.6 54.3h0M414.9 59.1h0M413.9 66.1h0M421.3 42.0h0M406.4 61.4h0M420.3 55.1h0M398.5 51.8h0M405.9 51.8h0M399.5 52.8h0M426.3 53.5h0M410.3 57.7h0M399.6 51.7h0M400.4 56.4h0M411.7 51.9h0M405.5 54.5h0M407.4 62.6h0M398.2 54.1h0M416.5 65.5h0M408.5 52.4h0M403.7 65.2h0M406.7 52.1h0M402.6 53.5h0M397.7 50.6h0M425.5 49.1h0M402.5 63.1h0M414.2 64.3h0M412.3 55.0h0M405.5 60.4h0M403.9 60.3h0M416.8 57.6h0M417.8 54.0h0M421.6 49.8h0M422.4 66.6h0M408.0 68.6h0M399.3 49.0h0M409.4 50.2h0M404.1 41.9h0M412.2 63.6h0M411.7 65.5h0M416.1 61.5h0M406.8 64.8h0M405.2 60.9h0M404.3 57.5h0M405.9 51.4h0M420.0 67.0h0M401.9 48.4h0M427.1 61.4h0M406.0 63.0h0M408.3 65.6h0M397.6 61.3h0M419.8 55.9h0M414.9 55.0h0M412.2 65.7h0M420.6 56.0h0M420.8 44.8h0M411.2 61.2h0M413.4 56.0h0M411.4 52.3h0M407.9 56.5h0M423.2 56.6h0M414.1 67.2h0M426.6 53.9h0M421.6 67.0h0M421.6 50.0h0M419.7 57.8h0M403.4 53.2h0M403.0 61.5h0M417.1 59.7h0M416.8 65.8h0M403.7 65.5h0M410.8 42.3h0M413.5 63.3h0M404.3 56.3h0M399.4 53.5h0M395.1 54.0h0M412.2 44.4h0M420.3 69.5h0M420.1 57.7h0M403.9 64.7h0M417.5 57.6h0M413.5 51.4h0M405.0 66.5h0M407.1 55.5h0M409.2 68.6h0M407.7 68.5h0M409.9 63.1h0M421.5 46.2h0M406.2 63.3h0M406.3 47.9h0M424.2 44.5h0M396.9 53.3h0M425.1 51.3h0M411.1 44.9h0M394.0 52.1h0M396.9 55.5h0M406.0 68.9h0M411.1 56.4h0M403.7 48.3h0M406.0 65.6h0M414.8 62.9h0M412.8 47.8h0M428.5 62.5h0M414.9 64.8h0M400.2 50.1h0M418.2 50.3h0M415.5 44.2h0M402.9 66.7h0M423.4 58.3h0M425.2 64.8h0M404.1 62.4h0M412.0 64.5h0M402.0 47.0h0M413.6 61.4h0M401.3 49.8h0M409.8 42.7h0M414.3 70.9h0M404.6 68.4h0M407.1 52.9h0M418.5 59.8h0M413.4 54.0h0M402.2 49.8h0M415.7 55.3h0M408.6 60.3h0M414.1 70.0h0M418.4 49.2h0M417.9 64.8h0M410.2 64.8h0M421.2 42.4h0M418.3 65.4h0M425.8 54.7h0M403.5 60.1h0M422.9 48.0h0M400.4 52.4h0M399.6 53.6h0M420.0 61.1h0M396.8 64.6h0M424.6 61.8h0M410.1 70.8h0M419.5 55.5h0M418.4 61.5h0M413.4 42.8h0M405.9 68.0h0M409.1 55.0h0M406.3 54.0h0M413.4 50.0h0M396.2 53.6h0M414.1 51.0h0M410.8 55.9h0M405.1 56.0h0M410.1 61.0h0M415.3 43.1h0M421.1 47.4h0M413.8 55.6h0M405.2 51.3h0M415.7 62.6h0M409.6 65.3h0M417.8 68.2h0M404.5 66.0h0M422.1 49.8h0M430.6 59.0h0M410.6 51.5h0M406.4 59.7h0M408.1 63.4h0M399.8 56.1h0M407.7 54.9h0M411.8 46.4h0M410.5 57.3h0M420.6 45.3h0M424.1 58.4h0M424.8 47.5h0M400.4 47.5h0M413.6 70.2h0M413.6 44.0h0M422.7 53.9h0M402.3 52.6h0M406.3 48.2h0M401.5 59.7h0M411.8 56.9h0M428.0 62.5h0M407.2 58.9h0M425.8 53.4h0M429.2 61.7h0M409.2 62.1h0M408.6 51.9h0M417.8 53.6h0M420.3 59.7h0M412.2 63.6h0M419.2 66.3h0M414.4 52.8h0M399.5 60.1h0M400.6 44.9h0M414.7 43.1h0M403.5 54.4h0M397.9 51.1h0M399.7 47.1h0M426.0 54.8h0M425.7 60.5h0M426.5 61.2h0M410.8 59.7h0M411.2 60.5h0M410.2 54.0h0M413.2 44.0h0M419.5 66.4h0M400.5 50.8h0M407.5 50.7h0M397.9 63.4h0M417.8 58.0h0M411.5 62.1h0M411.7 44.0h0M412.8 60.0h0M405.3 44.6h0M397.4 58.8h0M398.7 52.9h0M408.1 64.7h0M419.9 50.4h0M402.6 45.3h0M403.3 53.9h0M400.8 46.5h0M412.5 59.3h0M404.6 61.4h0M418.3 56.3h0M427.1 59.1h0M405.6 44.3h0M402.8 46.8h0M408.2 68.5h0M415.8 52.6h0M413.2 68.4h0M412.0 66.6h0M417.3 51.9h0M429.0 57.0h0M408.0 60.3h0M417.4 44.9h0M404.4 45.0h0M418.3 47.3h0M425.0 54.6h0M401.4 56.2h0M419.8 62.2h0M402.2 62.5h0M416.5 44.5h0M411.1 53.4h0M398.9 56.3h0M413.0 42.5h0M396.7 51.9h0M419.3 65.1h0M423.4 64.5h0M423.6 66.7h0M404.1 46.1h0M401.4 66.5h0M406.4 55.5h0M410.9 62.4h0M405.1 52.7h0M400.3 50.7h0M408.5 54.2h0M398.9 49.7h0M399.9 62.6h0M423.6 57.9h0M413.3 66.0h0M428.0 54.8h0M406.6 52.0h0M415.4 56.3h0M420.6 53.7h0M416.4 49.7h0M417.7 55.5h0M400.2 53.3h0M416.0 59.7h0M410.2 44.2h0M418.7 67.5h0M403.7 60.9h0M420.3 67.5h0M419.2 59.8h0M398.8 53.9h0M414.3 67.2h0M422.2 64.5h0M417.5 45.8h0M399.0 53.7h0M402.3 53.6h0M397.7 55.4h0M421.4 66.4h0M401.6 59.7h0M406.2 64.1h0M424.3 61.9h0M424.9 48.9h0M408.9 59.8h0M424.8 61.4h0M413.7 60.5h0M412.8 64.4h0M415.2 48.7h0M402.8 47.4h0M405.0 49.6h0M419.9 46.4h0M420.6 62.4h0M420.2 61.2h0M400.1 66.0h0M412.7 46.0h0M406.1 51.0h0M412.7 44.4h0M416.7 64.6h0M414.4 52.1h0M398.2 60.3h0M405.5 66.5h0M415.8 53.0h0M415.0 63.5h0M399.3 48.7h0M412.4 68.9h0M420.3 69.1h0M409.4 49.7h0M409.6 57.8h0M415.5 50.5h0M407.7 63.1h0M415.7 54.4h0M412.5 56.9h0M408.3 68.1h0M410.4 61.6h0M408.8 48.9h0M416.5 47.6h0M396.9 65.6h0M423.0 51.6h0M407.9 68.2h0M417.1 62.0h0M417.4 62.3h0M421.6 49.8h0M423.2 63.2h0M402.4 61.6h0M412.2 45.6h0M410.9 63.0h0M413.1 52.4h0M401.4 57.7h0M418.7 53.4h0M421.5 60.6h0M417.7 49.4h0M423.1 57.9h0M406.7 46.0h0M422.0 58.4h0M425.8 54.8h0M418.6 60.4h0M403.3 65.6h0M404.6 44.6h0M403.1 65.1h0M406.3 52.3h0M407.7 48.6h0M409.8 59.6h0M396.4 58.7h0M416.1 66.8h0M419.5 56.4h0M408.5 59.5h0M413.5 49.5h0M414.3 43.6h0M423.4 65.0h0M410.5 59.1h0M413.5 57.8h0M425.5 63.3h0M427.9 54.0h0M408.9 43.6h0M397.3 50.4h0M404.9 58.9h0M409.9 42.2h0M408.7 49.4h0M411.9 54.7h0M410.0 71.0h0M426.3 60.9h0M407.4 57.2h0M397.9 59.6h0M412.8 41.0h0M407.9 50.4h0M428.8 60.1h0M400.3 66.5h0M417.3 66.7h0M413.9 43.3h0M413.7 65.0h0M416.4 53.6h0M401.2 62.4h0M400.6 58.1h0M410.4 63.1h0M417.9 68.9h0M423.0 67.8h0M416.9 70.1h0M409.4 49.9h0M402.7 68.6h0M410.6 54.9h0M422.9 58.1h0M414.6 50.1h0M420.3 49.8h0M405.7 59.5h0M403.4 62.7h0M410.4 55.4h0M406.2 50.8h0M414.2 62.9h0M401.4 57.3h0M415.9 52.5h0M411.8 61.0h0M404.5 53.4h0M402.9 55.8h0M407.2 60.3h0M424.6 60.0h0M419.3 59.3h0M413.5 44.5h0M420.7 50.0h0M421.1 64.0h0M427.8 58.5h0M405.5 64.9h0M412.4 66.7h0M403.3 58.9h0M403.4 64.4h0M419.3 64.1h0M404.0 46.7h0M423.7 63.1h0M417.7 53.2h0M419.1 63.7h0M401.9 62.8h0M414.3 49.5h0M421.5 49.9h0M425.3 63.0h0M417.9 45.0h0M415.4 52.1h0M399.7 60.8h0M427.9 54.7h0M415.5 65.3h0M426.9 51.4h0M407.1 50.9h0M402.9 50.7h0M406.0 60.6h0M413.8 54.9h0M418.2 58.9h0M427.0 51.7h0M404.2 50.3h0M401.1 52.2h0M400.0 47.9h0M414.1 45.6h0M416.1 67.3h0M419.1 49.5h0M411.7 46.6h0M410.9 63.6h0M418.1 65.1h0M415.6 48.1h0M420.6 48.7h0M397.2 51.1h0M407.0 53.8h0M408.8 41.5h0M406.7 61.6h0M410.8 47.4h0M410.5 46.6h0M415.9 45.0h0M418.2 60.9h0M419.9 65.4h0M422.0 46.6h0M409.1 54.4h0M400.5 59.3h0M418.5 58.7h0M421.7 52.7h0M413.0 70.0h0M423.2 52.2h0M401.8 46.5h0M406.3 48.1h0M395.5 57.6h0M418.0 66.8h0M404.3 44.1h0M428.9 54.6h0M399.9 59.6h0M396.3 55.4h0M415.1 70.5h0M403.6 61.8h0M400.6 53.7h0M403.4 65.4h0M413.5 43.7h0M418.8 46.4h0M418.1 53.5h0M410.6 54.4h0M413.6 65.5h0M415.9 58.0h0M401.5 52.5h0M400.8 67.0h0M397.1 64.0h0M417.2 64.9h0M396.5 61.7h0M402.9 51.1h0M410.1 41.6h0M424.3 48.2h0M406.4 62.6h0M426.7 59.8h0M416.6 68.4h0M398.9 53.5h0M424.1 64.2h0M405.2 63.4h0M417.4 58.9h0M408.2 68.2h0M418.4 54.8h0M414.0 45.3h0M422.4 52.0h0M427.9 57.3h0M412.1 62.2h0M400.3 52.1h0M417.3 51.9h0M408.9 60.3h0M426.1 57.4h0M407.0 53.0h0M395.6 54.0h0M414.2 64.2h0M404.1 65.0h0M420.3 54.0h0M407.2 68.2h0M396.5 52.8h0M408.3 49.1h0M416.8 63.2h0M414.7 43.9h0M395.9 58.9h0M416.4 65.6h0M423.8 51.3h0M408.0 50.2h0M429.8 53.2h0M419.3 66.8h0M414.4 47.2h0M402.6 56.9h0M419.3 45.7h0M408.0 61.5h0M412.9 66.5h0M418.8 50.8h0M402.9 60.5h0M425.3 57.7h0M416.1 52.6h0M408.3 64.4h0M416.3 67.6h0M418.7 50.4h0M416.0 63.5h0M399.7 51.2h0M408.0 64.2h0M402.3 52.8h0M422.2 48.9h0M419.0 63.2h0M418.5 45.2h0M418.1 42.3h0M397.8 58.1h0M411.5 44.7h0M424.7 56.2h0M403.5 58.3h0M411.7 50.2h0M412.5 56.2h0M409.1 46.6h0M411.3 42.4h0M404.3 51.9h0M405.5 59.3h0M414.6 53.0h0M402.4 59.3h0M411.2 49.9h0M420.8 44.4h0M421.8 61.2h0M412.1 58.6h0M426.6 61.5h0M403.2 57.8h0M422.8 47.6h0M395.8 59.4h0M407.7 61.4h0M412.6 49.6h0M418.0 63.3h0M411.8 58.4h0M403.2 47.8h0M414.9 52.4h0M406.5 43.3h0M406.5 54.5h0M401.1 56.9h0M410.7 63.4h0M407.6 47.1h0M421.4 50.8h0M408.5 57.9h0M414.8 68.3h0M406.6 53.2h0M417.5 64.9h0M405.4 55.3h0M404.5 66.6h0M402.6 47.3h0M403.8 65.3h0M405.9 62.1h0M417.1 45.8h0M399.4 52.5h0M411.6 45.2h0M408.4 70.6h0M414.9 45.0h0M424.3 52.8h0M410.8 51.0h0M427.5 52.0h0M412.9 55.1h0M410.5 59.8h0M410.1 69.0h0M409.1 60.1h0M402.7 63.4h0M407.6 46.4h0M408.8 47.5h0M419.0 66.9h0M425.2 60.8h0M425.6 51.7h0M425.1 60.9h0M415.0 45.9h0M402.7 51.0h0M398.7 50.9h0M419.6 70.4h0M417.1 67.3h0M425.6 53.5h0M428.6 52.0h0M410.0 59.6h0M417.3 52.4h0M426.7 55.3h0M420.7 65.0h0M418.5 68.9h0M404.8 56.1h0M417.5 57.4h0M422.9 48.2h0M424.9 51.6h0M415.7 69.7h0M425.2 57.1h0M398.3 50.1h0M411.5 43.0h0M403.7 57.9h0M397.3 54.9h0M429.5 60.7h0M399.4 64.9h0M407.1 67.6h0M415.2 55.4h0M398.5 53.0h0M420.3 49.0h0M398.7 64.2h0M405.6 46.6h0M403.2 53.4h0M402.0 60.8h0M402.3 60.8h0M401.1 49.5h0M415.0 63.9h0M395.6 58.9h0M405.8 49.2h0M419.4 57.5h0M401.5 49.6h0M421.7 54.8h0M402.6 45.4h0M410.1 52.2h0M420.2 42.1h0M418.4 55.4h0M423.3 63.6h0M418.1 50.8h0M409.7 60.5h0M409.4 48.4h0M420.3 49.9h0M425.3 59.3h0M415.9 65.6h0M415.4 48.1h0M400.6 47.4h0M420.7 54.5h0M427.5 59.9h0M412.8 61.7h0M412.2 49.7h0M411.9 45.5h0M409.4 54.3h0M415.9 50.5h0M411.3 70.1h0M422.6 51.6h0M401.7 60.9h0M400.8 56.6h0M400.9 57.3h0M415.4 61.6h0M409.0 54.4h0M406.2 67.5h0M406.6 57.5h0M408.0 48.2h0M421.0 56.1h0M405.1 63.7h0M417.6 65.1h0M408.2 46.2h0M405.7 70.3h0M415.0 56.1h0M423.7 63.7h0M404.4 45.2h0M400.8 47.5h0M426.2 60.3h0M413.3 62.4h0M420.8 54.1h0M414.3 66.3h0M411.6 71.9h0M406.2 68.5h0M402.0 69.3h0M412.6 75.3h0M417.1 70.7h0M418.2 67.9h0M409.5 61.1h0M425.3 71.3h0M407.1 77.2h0M399.4 74.1h0M424.5 74.0h0M420.5 71.7h0M416.0 76.8h0M419.5 74.5h0M410.9 73.5h0M414.9 78.0h0M402.5 69.6h0M417.7 76.0h0M408.6 78.2h0M410.6 69.3h0M409.3 64.1h0M404.9 69.0h0M420.4 66.9h0M413.6 79.9h0M415.3 70.4h0M417.7 79.1h0M417.5 76.4h0M410.8 68.5h0M412.4 73.7h0M424.5 76.3h0M412.9 80.9h0M401.2 69.3h0M415.5 77.8h0M398.2 73.0h0M419.4 75.2h0M420.1 78.1h0M408.3 65.3h0M399.9 76.7h0M412.3 67.0h0M424.2 68.3h0M402.6 72.0h0M414.1 65.8h0M408.9 60.8h0M418.5 64.9h0M409.2 66.6h0M423.2 75.4h0M417.9 72.3h0M407.0 63.9h0M398.2 66.5h0M422.8 73.9h0M414.7 65.6h0M414.4 77.5h0M397.7 75.3h0M409.6 78.2h0M401.9 70.0h0M413.9 67.5h0M416.4 68.1h0M400.3 70.0h0M409.0 73.3h0M413.5 67.5h0M404.0 74.2h0M423.7 66.2h0M424.1 68.6h0M400.1 67.6h0M410.2 68.5h0M422.0 76.9h0M412.2 62.0h0M419.0 66.7h0M420.5 77.9h0M413.6 65.3h0M418.0 68.6h0M423.4 69.3h0M412.8 72.6h0M423.0 75.8h0M420.7 72.4h0M417.6 63.4h0M419.9 67.5h0M404.2 64.2h0M400.4 67.8h0M402.9 73.1h0M404.1 70.1h0M412.2 69.5h0M404.9 62.9h0M409.5 77.5h0M407.5 78.3h0M421.8 76.9h0M411.6 66.3h0M409.1 73.8h0M410.8 68.4h0M412.2 78.5h0M399.8 69.4h0M419.7 65.9h0M424.7 70.4h0M414.9 75.7h0M402.8 72.9h0M407.3 69.0h0M406.8 69.4h0M409.9 61.6h0M421.9 66.2h0M417.4 67.4h0M416.7 76.4h0M395.6 72.5h0M410.3 71.4h0M423.3 70.5h0M415.0 64.2h0M416.7 71.4h0M399.1 65.3h0M416.0 74.9h0M415.5 71.3h0M424.9 70.8h0M407.1 66.2h0M406.8 73.6h0M421.2 75.2h0M416.4 64.5h0M401.8 74.7h0M422.9 67.7h0M406.8 75.0h0M399.1 70.5h0M407.7 73.8h0M405.1 74.7h0M407.1 77.0h0M424.0 75.1h0M409.5 69.9h0M420.4 69.3h0M404.4 72.0h0M399.5 67.1h0M422.2 70.1h0M419.0 78.9h0M415.0 81.7h0M407.8 74.9h0M419.4 75.5h0M410.0 71.1h0M419.7 68.1h0M421.3 64.4h0M418.2 65.6h0M414.7 66.7h0M407.9 78.2h0M416.6 79.0h0M414.6 79.4h0M405.4 70.0h0M418.3 66.2h0M418.9 78.6h0M423.7 69.4h0M407.9 63.1h0M422.8 69.4h0M414.8 70.7h0M401.6 67.5h0M397.4 73.0h0M401.4 75.9h0M414.7 71.2h0M396.7 68.8h0M402.7 79.4h0M406.5 70.0h0M408.7 70.0h0M407.3 77.5h0M413.1 81.0h0M418.9 75.7h0M406.6 80.3h0M401.2 67.2h0M420.8 79.5h0M416.6 67.9h0M407.0 73.5h0M423.8 66.6h0M403.8 74.7h0M417.8 63.2h0M395.3 70.7h0M407.3 69.0h0M403.8 72.8h0M412.1 78.5h0M423.0 74.4h0M427.0 71.0h0M407.4 79.0h0M408.4 77.5h0M422.4 73.3h0M411.6 65.0h0M422.1 70.2h0M412.7 69.2h0M416.5 76.0h0M405.0 74.0h0M423.6 75.1h0M398.6 74.9h0M414.7 68.7h0M415.4 66.6h0M411.7 75.3h0M413.9 74.6h0M412.9 72.0h0M403.9 74.7h0M423.1 67.6h0M410.0 66.5h0M406.5 79.8h0M403.1 76.7h0M407.3 65.9h0M405.4 76.3h0M399.9 77.3h0M413.7 60.5h0M403.7 77.7h0M414.7 75.8h0M402.0 75.9h0M418.4 73.6h0M410.0 69.8h0M401.7 63.4h0M410.6 81.5h0M401.6 80.2h0M421.4 69.7h0M404.6 73.4h0M425.5 73.6h0M424.7 71.8h0M416.1 75.4h0M414.1 66.6h0M415.1 66.6h0M422.0 67.9h0M407.9 72.0h0M416.8 69.0h0M409.3 74.5h0M407.7 65.3h0M423.2 73.2h0M412.5 73.8h0M412.1 65.9h0M410.3 75.8h0M412.7 73.1h0M402.0 68.9h0M417.6 64.7h0M424.1 67.3h0M417.1 63.4h0M398.9 72.3h0M412.6 82.2h0M410.2 77.3h0M413.6 61.7h0M400.1 75.7h0M404.4 67.0h0M421.3 69.2h0M397.8 68.2h0M403.8 79.3h0M414.5 77.2h0M421.8 72.2h0M416.8 79.3h0M412.3 66.6h0M403.0 76.1h0M410.5 74.5h0M411.2 77.5h0M416.3 75.1h0M422.6 73.4h0M410.5 69.3h0M421.9 66.4h0M397.1 64.6h0M393.0 66.5h0M392.1 69.5h0M398.1 67.2h0M392.3 69.1h0M391.0 71.4h0M389.1 68.9h0M392.5 62.7h0M397.3 67.5h0M392.6 64.0h0M395.3 70.1h0M393.4 62.6h0M389.1 65.2h0M394.6 64.9h0M395.0 70.5h0M392.9 66.9h0M395.9 66.6h0M392.9 65.9h0M387.8 68.7h0M389.0 70.4h0M390.9 68.6h0M394.5 69.1h0M398.9 66.6h0M396.6 68.7h0M392.4 67.7h0M388.2 67.3h0M389.9 67.1h0M393.2 63.7h0M395.5 64.1h0M389.8 64.2h0M397.0 70.9h0M397.5 68.1h0M396.8 65.3h0M392.3 71.6h0M389.7 71.2h0M387.8 65.7h0M394.7 68.9h0M397.5 69.5h0M393.3 62.7h0M396.6 68.7h0M392.2 71.7h0M394.1 72.2h0M388.4 69.1h0M393.3 69.7h0M392.4 62.8h0M392.7 70.0h0M397.1 69.6h0M396.8 64.2h0M391.8 62.7h0M389.9 64.1h0M389.7 65.7h0M393.7 66.7h0M390.9 62.3h0M396.2 66.2h0M393.8 72.0h0M396.8 70.2h0M398.5 66.2h0M438.3 77.3h0M444.6 82.7h0M438.9 79.5h0M442.6 82.6h0M429.7 74.6h0M436.7 79.9h0M444.4 84.1h0M439.1 78.4h0M440.2 81.6h0M434.5 75.6h0M443.1 82.6h0M434.4 79.3h0M441.2 84.0h0M432.4 76.2h0M442.5 83.3h0M439.2 81.9h0M445.8 83.8h0M430.5 74.8h0M437.4 78.0h0M430.9 76.5h0M442.0 81.6h0M436.4 78.3h0M436.9 80.4h0M439.2 82.5h0M436.4 75.9h0M441.3 81.9h0M444.4 87.5h0M434.2 78.4h0M430.6 73.9h0M437.9 81.0h0M430.7 75.8h0M444.6 86.0h0M439.2 78.9h0M440.2 80.0h0M443.0 86.3h0M438.0 79.1h0M438.7 83.1h0M437.0 81.1h0M432.0 71.9h0M443.8 81.4h0M437.0 77.7h0M444.5 85.3h0M432.7 77.5h0M443.9 86.7h0M438.1 77.0h0M437.0 81.3h0M438.1 77.0h0M441.0 82.7h0M444.3 84.5h0M436.4 80.9h0M442.3 83.0h0M441.9 80.1h0M438.0 81.9h0M435.6 75.7h0M436.1 77.2h0M430.6 74.4h0M431.9 74.9h0M438.7 77.6h0M443.0 86.3h0M438.3 82.6h0M442.1 81.1h0M438.5 79.6h0M435.1 78.6h0M441.8 82.6h0M438.3 80.4h0M433.8 77.8h0M433.2 74.3h0M438.6 77.9h0M431.7 74.1h0M438.5 78.0h0M439.7 80.0h0M435.6 77.4h0M441.3 83.2h0M430.0 76.0h0M431.0 74.3h0M443.5 87.0h0M436.5 76.2h0M442.9 80.5h0M440.3 83.8h0M443.5 83.2h0M429.7 75.4h0M438.7 77.4h0M445.9 85.5h0M434.3 79.1h0M443.5 84.3h0M446.2 86.7h0M443.7 87.8h0M444.3 87.6h0M444.5 85.5h0M443.9 88.2h0M444.8 87.5h0M444.9 86.9h0M445.6 89.2h0M445.3 90.2h0M442.8 93.2h0M445.5 88.7h0M444.2 87.5h0M442.8 88.9h0M444.4 91.0h0M442.2 94.3h0M444.3 87.7h0M443.4 87.8h0M445.6 88.8h0M443.7 90.3h0M446.2 88.8h0M441.6 91.6h0M444.2 88.3h0M441.6 93.2h0M442.0 92.3h0M442.6 89.7h0M442.8 91.4h0M445.5 86.9h0M442.9 92.8h0M444.2 90.9h0M440.9 92.1h0M441.8 90.7h0" stroke="#bab4e1" stroke-width="0.85" stroke-linecap="round" fill="none" opacity="0.42"/>
<path d="M345.6 53.8h0M348.3 61.3h0M339.3 58.6h0M341.3 64.7h0M344.4 56.9h0M322.3 60.2h0M331.7 64.4h0M341.8 55.4h0M339.8 55.0h0M336.3 72.2h0M318.8 62.3h0M319.6 48.8h0M319.7 58.1h0M322.6 55.4h0M353.7 69.8h0M336.4 67.8h0M349.2 77.2h0M359.1 57.3h0M341.9 73.8h0M331.0 76.9h0M329.5 49.1h0M346.9 64.9h0M337.9 43.5h0M335.4 46.4h0M326.2 45.1h0M322.7 71.6h0M335.3 57.9h0M324.7 68.4h0M331.5 72.4h0M338.5 61.3h0M347.0 67.5h0M341.4 72.4h0M345.3 43.3h0M340.7 56.0h0M344.1 72.9h0M345.7 49.9h0M327.0 55.3h0M320.3 54.0h0M337.9 53.8h0M333.1 73.8h0M322.8 63.3h0M353.7 75.5h0M329.4 44.3h0M337.8 79.8h0M347.0 60.7h0M324.2 51.4h0M338.2 42.1h0M327.1 63.0h0M350.8 50.3h0M338.2 55.5h0M322.6 68.8h0M343.0 59.7h0M340.8 70.5h0M340.1 56.2h0M335.7 63.0h0M326.9 46.2h0M319.2 52.0h0M340.8 50.2h0M354.6 73.9h0M341.0 68.2h0M344.4 42.1h0M358.1 67.2h0M328.7 54.9h0M329.5 69.9h0M327.8 65.4h0M348.1 70.4h0M335.5 50.3h0M327.3 77.2h0M349.8 63.4h0M342.9 53.9h0M321.9 64.7h0M334.6 69.6h0M349.0 69.4h0M330.1 75.9h0M365.9 72.3h0M367.9 71.6h0M355.1 67.3h0M358.5 68.5h0M358.8 69.1h0M360.0 63.4h0M362.3 69.7h0M368.5 69.7h0M361.5 72.8h0M362.4 70.1h0M356.0 71.1h0M365.9 70.9h0M360.0 63.1h0M368.3 69.1h0M363.3 72.2h0M363.5 68.9h0M354.1 71.6h0M358.6 71.0h0M368.4 65.8h0M355.8 68.4h0M358.8 65.7h0M360.6 70.1h0M363.7 63.6h0M362.2 69.2h0M363.1 68.1h0M359.1 67.0h0M386.9 69.1h0M372.6 72.4h0M372.9 67.6h0M386.2 65.1h0M376.9 67.7h0M372.5 69.7h0M370.2 67.2h0M370.2 68.0h0M386.1 66.8h0M380.0 67.1h0M379.0 66.7h0M377.0 68.7h0M381.8 68.2h0M376.1 69.0h0M373.1 72.2h0M379.7 71.3h0M375.1 70.1h0M383.6 69.9h0M380.2 68.0h0M370.8 66.9h0M378.4 68.0h0M386.6 68.7h0M383.4 65.5h0M380.7 70.7h0M404.0 45.3h0M422.7 58.0h0M397.9 46.5h0M418.6 48.5h0M410.9 59.7h0M400.5 50.2h0M401.7 58.8h0M420.3 47.8h0M425.9 61.6h0M410.7 62.9h0M427.5 49.8h0M421.0 45.1h0M419.5 55.3h0M408.6 59.6h0M411.9 54.2h0M414.8 44.0h0M414.2 62.4h0M406.4 60.6h0M415.8 67.6h0M427.9 52.1h0M400.5 56.5h0M415.1 49.1h0M424.5 55.2h0M418.0 62.5h0M407.0 53.0h0M419.3 46.2h0M421.6 65.6h0M410.1 48.5h0M410.2 58.3h0M425.2 60.2h0M413.3 65.7h0M420.1 56.8h0M422.9 54.3h0M412.0 41.9h0M401.0 50.1h0M405.5 67.8h0M418.3 67.5h0M418.6 47.8h0M404.8 64.4h0M425.0 51.6h0M414.9 49.7h0M401.6 52.8h0M409.3 55.5h0M410.5 66.9h0M425.8 58.1h0M412.8 42.3h0M404.9 62.3h0M398.0 51.6h0M421.2 47.7h0M408.4 49.1h0M406.1 65.6h0M404.2 57.4h0M423.9 53.2h0M418.1 66.9h0M395.6 51.0h0M416.8 63.1h0M423.9 51.5h0M422.9 47.7h0M402.2 46.3h0M412.4 49.1h0M407.5 67.6h0M418.0 44.3h0M417.0 46.5h0M403.4 67.0h0M413.5 70.5h0M420.0 66.9h0M410.9 59.6h0M426.1 57.0h0M406.2 47.5h0M414.3 45.7h0M401.5 61.2h0M413.8 52.1h0M406.0 63.3h0M409.7 50.1h0M420.1 63.3h0M425.2 56.0h0M399.4 57.3h0M417.3 53.0h0M404.3 54.3h0M422.0 67.3h0M415.3 54.1h0M400.4 54.0h0M423.9 52.2h0M422.9 67.4h0M396.0 56.0h0M419.0 62.2h0M419.3 56.4h0M421.5 51.9h0M408.7 56.1h0M412.7 52.5h0M411.4 49.9h0M413.1 58.6h0M426.7 54.5h0M414.8 64.2h0M418.7 61.9h0M415.9 66.6h0M403.6 51.1h0M397.5 56.0h0M417.5 41.0h0M400.1 49.8h0M427.1 57.6h0M400.3 52.6h0M403.7 55.4h0M407.0 49.7h0M414.6 48.5h0M400.3 52.6h0M403.5 54.3h0M412.2 59.8h0M397.7 52.0h0M411.5 44.5h0M408.5 67.3h0M420.7 51.1h0M416.8 66.5h0M415.8 62.0h0M397.9 50.1h0M397.8 50.0h0M404.4 52.1h0M406.4 61.7h0M409.3 67.1h0M399.8 52.8h0M409.3 46.7h0M416.0 45.1h0M410.2 68.9h0M415.4 49.5h0M397.4 49.3h0M395.9 58.1h0M418.7 51.6h0M417.0 66.9h0M408.4 58.2h0M405.2 56.6h0M424.3 51.8h0M409.1 50.7h0M401.8 49.5h0M424.1 47.2h0M402.1 48.0h0M405.9 64.8h0M417.7 51.1h0M400.6 47.2h0M421.3 55.4h0M410.5 44.7h0M413.3 52.8h0M394.5 49.0h0M419.2 66.8h0M399.9 48.1h0M412.5 65.5h0M410.5 68.5h0M422.0 45.4h0M419.8 48.4h0M423.1 54.1h0M423.2 46.3h0M410.0 60.7h0M413.0 46.6h0M402.4 48.2h0M427.1 56.4h0M420.4 48.6h0M405.5 66.8h0M407.4 47.8h0M417.4 69.1h0M413.3 62.4h0M417.8 59.9h0M399.6 62.1h0M403.1 53.0h0M409.0 66.9h0M427.3 56.2h0M415.3 61.4h0M404.3 64.2h0M417.5 50.9h0M406.8 63.5h0M406.1 63.8h0M395.9 56.3h0M421.8 47.6h0M425.6 51.1h0M408.7 59.4h0M421.7 50.7h0M405.6 41.7h0M409.8 68.6h0M415.2 49.7h0M406.6 50.7h0M409.6 50.8h0M420.5 54.8h0M403.9 43.5h0M410.7 61.9h0M420.1 63.5h0M412.1 79.1h0M416.5 72.7h0M401.0 68.1h0M403.4 77.6h0M413.3 64.6h0M408.4 78.8h0M414.6 77.2h0M414.1 69.3h0M405.1 63.6h0M397.7 73.6h0M423.5 75.8h0M396.1 71.5h0M410.7 77.9h0M402.8 64.4h0M409.1 74.9h0M414.0 82.0h0M409.7 65.9h0M399.2 73.2h0M420.2 69.1h0M410.1 78.9h0M412.9 72.5h0M408.7 70.5h0M405.0 63.3h0M418.3 64.0h0M402.9 72.8h0M426.0 73.1h0M403.2 74.0h0M403.4 64.1h0M404.7 65.4h0M424.2 73.9h0M416.0 71.2h0M401.9 65.5h0M413.8 76.1h0M420.7 72.8h0M420.5 63.0h0M402.5 64.8h0M415.8 75.6h0M406.7 65.6h0M407.5 64.3h0M402.4 67.5h0M412.9 74.7h0M417.6 67.2h0M399.0 65.9h0M397.0 70.1h0M400.9 72.1h0M397.7 70.5h0M417.9 66.9h0M408.6 72.9h0M419.3 69.8h0M424.2 66.7h0M404.4 75.4h0M402.1 64.8h0M409.8 73.9h0M399.4 78.9h0M421.1 75.9h0M409.6 73.5h0M411.9 73.8h0M411.8 64.9h0M412.3 64.4h0M406.3 75.5h0M401.1 78.7h0M419.7 78.5h0M408.1 74.5h0M418.2 72.3h0M416.6 65.5h0M395.9 70.7h0M422.9 69.8h0M416.8 74.6h0M406.3 64.2h0M405.4 75.0h0M406.0 64.3h0M416.2 68.2h0M413.5 68.0h0M407.3 68.9h0M415.9 70.3h0M418.5 68.5h0M404.3 64.0h0M405.6 75.7h0M402.7 69.0h0M410.5 72.8h0M424.6 70.1h0M417.5 72.2h0M404.8 78.1h0M403.9 65.0h0M407.0 79.5h0M416.3 64.5h0M404.4 64.6h0M408.2 78.7h0M414.1 79.0h0M406.9 79.2h0M407.1 66.3h0M414.4 79.7h0M412.9 73.3h0M419.4 64.0h0M406.7 77.8h0M404.6 76.7h0M422.0 72.1h0M402.9 72.0h0M408.2 75.2h0M408.2 68.0h0M420.3 68.8h0M407.1 64.4h0M417.2 68.2h0M410.4 76.6h0M413.1 71.4h0M411.7 75.3h0M419.8 68.3h0M405.8 77.4h0M399.4 69.4h0M393.1 68.4h0M388.6 67.5h0M388.9 69.7h0M387.8 67.6h0M388.6 70.9h0M396.6 64.8h0M397.3 67.3h0M395.5 65.0h0M396.3 66.7h0M392.3 71.8h0M399.1 66.0h0M389.5 70.7h0M394.2 67.8h0M387.7 68.6h0M396.4 70.1h0M396.1 68.6h0M394.8 64.3h0M394.2 64.9h0M390.8 64.5h0M396.6 65.7h0M395.3 70.6h0M390.3 67.2h0M392.8 63.4h0M394.5 64.8h0M396.5 70.1h0M387.4 65.5h0M392.0 68.7h0M393.0 68.5h0M389.1 62.9h0M389.7 69.8h0M388.4 68.5h0M393.9 64.3h0M435.8 76.1h0M430.6 76.4h0M430.5 74.4h0M431.6 75.0h0M436.4 79.4h0M433.7 73.7h0M444.4 84.5h0M433.0 77.9h0M436.4 81.1h0M439.1 82.9h0M429.0 74.5h0M433.9 77.7h0M439.9 82.2h0M439.4 82.3h0M441.5 80.2h0M430.9 71.9h0M432.2 75.4h0M432.8 72.6h0M436.0 78.5h0M436.1 75.9h0M344.4 87.5h0M347.8 85.5h0M338.2 85.6h0M339.9 85.1h0M343.2 82.4h0M346.5 85.4h0M351.5 92.4h0M344.0 86.0h0M343.3 88.0h0M349.5 92.1h0M352.0 83.9h0M344.7 85.1h0M355.6 89.8h0M356.9 87.1h0M349.0 90.6h0M353.0 93.5h0M362.7 104.9h0M362.7 102.0h0M365.4 106.5h0M366.0 105.7h0M364.4 103.7h0M368.7 107.3h0M371.1 108.0h0M367.5 106.9h0M369.1 104.4h0M370.2 105.8h0" stroke="#d6a0d2" stroke-width="0.85" stroke-linecap="round" fill="none" opacity="0.42"/>
<path d="M354.4 69.8h0M358.1 72.3h0M359.4 64.1h0M360.7 70.6h0M356.7 71.8h0M360.7 64.6h0M365.8 68.0h0M361.2 69.1h0M361.5 70.3h0M363.4 69.8h0M357.1 63.8h0M353.8 68.0h0M364.5 66.8h0M364.4 70.5h0M356.3 71.7h0M359.2 67.4h0M361.4 70.0h0M359.2 71.9h0M355.9 63.4h0M364.5 71.8h0M362.2 65.7h0M366.9 70.3h0M355.9 65.1h0M366.1 66.4h0M359.4 69.0h0M353.3 67.8h0M361.1 63.8h0M370.3 65.9h0M365.7 65.6h0M376.3 66.2h0M381.5 70.8h0M379.1 69.7h0M384.1 66.6h0M380.9 65.7h0M384.6 67.2h0M386.3 67.8h0M379.9 69.3h0M378.7 71.3h0M378.3 65.9h0M374.0 70.3h0M388.6 65.4h0M378.6 70.6h0M373.1 70.8h0M388.6 65.9h0M385.5 67.6h0M384.8 68.4h0M373.9 70.8h0M379.9 67.1h0M386.4 65.4h0M411.2 65.8h0M401.6 51.5h0M414.8 49.1h0M403.4 48.1h0M417.4 49.3h0M428.5 59.8h0M417.8 53.3h0M413.3 69.9h0M427.9 55.9h0M415.3 54.8h0M420.8 54.1h0M426.0 51.4h0M399.5 52.3h0M405.8 60.1h0M401.8 54.7h0M394.8 58.3h0M421.1 66.0h0M412.9 45.6h0M405.7 67.8h0M409.4 57.4h0M417.2 59.7h0M400.6 53.1h0M399.6 52.2h0M424.2 51.0h0M411.8 56.3h0M393.8 54.4h0M410.2 62.6h0M404.5 57.2h0M425.3 61.4h0M415.9 63.7h0M415.5 51.0h0M409.5 50.9h0M407.6 62.5h0M415.4 52.2h0M412.7 43.9h0M416.2 51.0h0M409.6 62.0h0M397.4 56.3h0M412.4 49.9h0M406.5 64.4h0M404.6 53.1h0M412.0 48.8h0M412.6 59.6h0M420.8 53.7h0M403.8 67.7h0M413.6 78.9h0M413.2 75.0h0M397.9 74.5h0M414.0 61.8h0M413.4 63.9h0M413.6 64.7h0M408.0 76.0h0M419.8 69.4h0M400.3 68.2h0M420.1 65.5h0M407.9 68.8h0M410.7 80.6h0M410.9 76.7h0M413.7 67.0h0M403.2 75.2h0M422.3 70.0h0M417.0 72.5h0M415.0 80.6h0M416.3 78.7h0M414.3 69.8h0M414.7 74.8h0M399.2 64.9h0M398.8 67.6h0M403.9 68.8h0M424.2 74.0h0M396.1 70.2h0M418.2 70.7h0M417.3 77.8h0M398.0 65.6h0M401.4 75.8h0M422.0 74.2h0M406.2 73.5h0M407.9 80.4h0M415.7 80.1h0M408.0 73.2h0M415.7 71.7h0M406.0 69.5h0M407.9 64.4h0M399.8 76.2h0M402.6 75.7h0M414.0 76.0h0M424.7 75.3h0M413.2 75.3h0M403.4 65.2h0M421.6 72.2h0M417.2 67.8h0M422.4 67.8h0M419.9 71.1h0M405.1 73.3h0M413.0 77.4h0M412.5 71.6h0M416.1 72.1h0M403.9 78.2h0M409.0 74.3h0M402.8 67.7h0M423.3 70.6h0M411.3 71.3h0M411.6 66.2h0M398.5 76.5h0M408.5 72.3h0M417.6 62.8h0M419.1 74.3h0M421.8 66.6h0M423.5 73.4h0M426.6 73.2h0M407.2 67.3h0M418.1 74.1h0M407.8 64.2h0M397.7 69.2h0M402.3 74.0h0M408.3 63.9h0M403.4 71.7h0M398.0 74.5h0M403.7 65.9h0M422.2 63.7h0M405.2 73.1h0M416.9 69.0h0M409.2 70.3h0M405.3 66.0h0M414.3 65.4h0M403.8 72.5h0M408.5 63.8h0M408.6 80.4h0M412.9 79.2h0M406.2 80.1h0M422.1 76.9h0M396.7 68.7h0M409.6 77.1h0M414.2 68.8h0M419.1 68.9h0M413.6 65.3h0M413.6 78.3h0M416.0 72.2h0M422.9 76.0h0M415.7 67.6h0M399.2 70.3h0M419.8 74.5h0M413.5 66.5h0M406.1 65.4h0M417.5 68.9h0M418.6 71.1h0M417.4 74.6h0M416.7 65.0h0M415.2 65.4h0M415.3 72.2h0M412.5 62.1h0M404.7 67.5h0M411.6 80.6h0M421.2 65.5h0M424.5 68.5h0M421.7 67.3h0M407.7 73.3h0M398.6 65.3h0M400.2 77.3h0M408.9 72.7h0M407.5 78.1h0M422.9 70.1h0M420.3 71.6h0M408.3 80.4h0M420.9 70.8h0M413.9 65.8h0M415.0 77.2h0M419.6 63.5h0M420.5 73.5h0M410.6 61.5h0M410.4 67.0h0M402.4 65.6h0M411.1 79.8h0M411.1 77.0h0M403.9 80.1h0M419.9 70.2h0M413.3 73.7h0M418.5 73.8h0M417.8 66.8h0M409.5 73.3h0M417.9 65.4h0M404.6 73.2h0M412.1 70.0h0M403.5 74.0h0M410.3 72.7h0M414.7 76.9h0M398.8 71.4h0M399.0 69.0h0M406.1 65.3h0M403.1 70.9h0M414.9 62.4h0M400.0 70.4h0M403.1 70.7h0M411.5 81.0h0M405.5 71.1h0M424.3 75.2h0M421.0 74.8h0M402.0 67.5h0M401.4 80.1h0M398.0 69.1h0M416.8 76.8h0M414.0 62.8h0M423.7 74.5h0M419.8 77.1h0M400.2 78.3h0M410.9 67.8h0M411.2 77.3h0M403.4 80.8h0M397.1 72.0h0M417.2 64.9h0M423.6 74.0h0M426.7 70.8h0M417.8 67.2h0M407.3 69.6h0M400.4 67.1h0M414.7 63.4h0M410.2 67.2h0M401.7 75.8h0M425.6 72.7h0M401.5 73.9h0M408.0 72.4h0M411.1 64.7h0M421.2 75.5h0M411.4 65.8h0M403.6 65.5h0M422.0 67.9h0M411.1 73.6h0M422.0 78.1h0M424.0 72.1h0M403.6 72.6h0M410.8 78.5h0M409.2 68.0h0M412.6 77.4h0M423.0 72.3h0M398.3 64.3h0M415.1 68.7h0M416.1 74.9h0M409.8 76.9h0M405.5 73.9h0M412.1 67.6h0M418.9 72.1h0M403.2 64.3h0M405.0 73.6h0M418.5 72.1h0M407.3 75.0h0M413.3 68.9h0M415.9 67.4h0M418.3 66.9h0M407.4 78.4h0M414.9 73.7h0M418.0 64.9h0M402.0 75.4h0M409.3 67.8h0M421.1 78.0h0M416.6 70.8h0M416.3 68.7h0M419.9 63.4h0M417.4 76.2h0M416.0 69.0h0M409.9 76.2h0M412.7 67.7h0M395.1 71.2h0M402.3 75.2h0M417.1 73.5h0M414.9 60.8h0M412.5 81.0h0M420.6 66.9h0M415.4 63.0h0M414.4 73.5h0M404.6 66.1h0M406.6 77.6h0M421.1 65.4h0M421.6 67.2h0M418.7 63.9h0M422.1 75.0h0M409.7 64.4h0M406.8 64.6h0M401.4 77.0h0M420.0 74.0h0M418.4 65.8h0M403.8 70.9h0M409.0 67.1h0M401.4 68.2h0M397.0 71.8h0M405.6 80.2h0M410.4 80.1h0M409.7 74.4h0M407.5 77.2h0M404.2 76.7h0M406.1 65.7h0M405.0 71.4h0M406.6 69.5h0M421.6 74.7h0M415.1 73.2h0M405.9 61.8h0M398.5 78.3h0M404.2 71.3h0M416.9 65.6h0M408.8 81.2h0M421.9 71.3h0M409.0 77.9h0M418.8 79.6h0M412.8 71.9h0M402.1 78.3h0M406.5 73.0h0M409.7 70.8h0M412.8 77.7h0M402.1 67.7h0M402.3 67.6h0M412.6 75.5h0M401.9 67.5h0M400.7 64.6h0M404.7 63.6h0M412.4 66.6h0M411.9 68.2h0M400.6 67.4h0M420.1 71.3h0M410.0 80.2h0M414.3 80.7h0M412.0 61.6h0M406.8 72.2h0M410.9 72.0h0M412.2 73.5h0M413.4 64.6h0M407.9 78.8h0M406.6 69.1h0M412.0 81.8h0M400.4 77.8h0M401.3 71.9h0M418.1 64.3h0M397.3 69.9h0M409.0 73.9h0M420.3 65.7h0M422.0 75.9h0M414.3 68.8h0M411.0 80.8h0M419.0 75.4h0M408.5 71.1h0M408.7 78.7h0M406.4 69.3h0M413.1 65.4h0M419.0 70.8h0M415.1 64.7h0M414.3 62.7h0M412.6 61.4h0M416.9 71.1h0M424.0 74.6h0M407.7 72.9h0M397.0 66.9h0M405.4 76.2h0M416.6 64.7h0M406.8 69.4h0M414.7 73.6h0M402.4 64.5h0M400.0 73.3h0M424.2 67.5h0M413.8 65.4h0M421.7 71.0h0M414.4 80.2h0M417.5 77.8h0M406.3 74.3h0M403.8 65.5h0M414.6 81.4h0M398.9 74.0h0M403.1 67.5h0M420.2 67.1h0M409.7 71.6h0M396.8 77.0h0M402.7 70.5h0M397.5 70.8h0M412.1 68.3h0M398.4 65.6h0M410.9 67.3h0M420.4 67.5h0M413.3 72.0h0M419.5 72.8h0M401.8 71.8h0M414.9 73.5h0M417.5 67.1h0M417.0 74.0h0M414.4 65.5h0M421.8 74.2h0M416.7 79.5h0M403.5 77.8h0M411.2 73.4h0M403.5 79.0h0M398.1 66.3h0M417.3 67.8h0M405.5 72.8h0M400.3 63.4h0M410.3 75.8h0M395.8 74.4h0M419.8 76.3h0M417.8 76.0h0M407.7 73.7h0M409.1 75.7h0M411.1 63.4h0M403.4 74.7h0M391.5 70.2h0M395.3 70.2h0M396.6 67.3h0M394.5 65.4h0M390.4 62.5h0M387.7 68.7h0M389.4 68.5h0M389.3 64.3h0M396.3 69.1h0M388.6 64.9h0M393.2 64.0h0M391.5 65.1h0M389.2 67.8h0M393.4 66.8h0M393.2 69.1h0M395.6 66.6h0M393.2 63.8h0M397.5 66.0h0M390.5 70.6h0M397.9 67.6h0M395.7 69.5h0M391.1 62.7h0M387.0 65.5h0M388.1 69.0h0M394.1 61.5h0M390.2 70.5h0M398.3 67.5h0M394.8 63.2h0M390.9 63.6h0M392.3 63.8h0M394.8 63.1h0M393.9 65.7h0M391.9 62.5h0M390.2 68.8h0M393.0 70.5h0M397.1 69.3h0M391.1 65.1h0M398.0 70.0h0M388.4 70.3h0M396.6 66.4h0M393.8 71.6h0M393.3 67.7h0M390.0 63.3h0M395.5 63.8h0M390.8 69.8h0M395.6 65.1h0M396.4 65.7h0M396.9 67.6h0M389.0 64.5h0M391.0 63.7h0M396.1 69.8h0M389.9 65.0h0M391.9 62.1h0M388.5 66.8h0M395.0 65.0h0M398.7 68.1h0M399.0 67.2h0M389.8 68.2h0M393.6 71.7h0M347.8 96.6h0M342.2 99.1h0M341.9 99.2h0M352.7 99.8h0M352.6 99.8h0M350.8 106.7h0M347.6 101.1h0M343.8 104.3h0M344.3 99.0h0M344.8 102.6h0M352.9 103.5h0M351.5 99.7h0M339.5 102.0h0M347.7 98.2h0M352.2 97.9h0M352.2 98.0h0M344.4 99.1h0M348.6 106.2h0M344.0 108.5h0M342.6 106.3h0M344.2 106.6h0M346.4 105.5h0M341.9 105.5h0M343.5 106.6h0M347.6 106.7h0M352.7 99.9h0M347.3 105.8h0M342.2 103.2h0M349.2 103.4h0M350.2 98.9h0M345.0 94.7h0M355.7 99.7h0M360.7 91.8h0M362.4 97.2h0M359.2 95.2h0M355.1 98.2h0M359.3 93.1h0M358.3 99.6h0M354.8 91.7h0M353.4 99.1h0M355.8 95.9h0M358.7 95.4h0M353.2 97.6h0M359.4 96.6h0M360.3 96.6h0M353.9 98.4h0M358.7 95.6h0M358.2 94.5h0M355.4 97.7h0M356.2 95.6h0M354.1 95.3h0M356.1 92.1h0M360.9 93.5h0M355.2 99.9h0M352.9 98.0h0M357.6 95.8h0M360.6 94.8h0M356.3 93.0h0M357.9 96.7h0M353.9 98.9h0M358.1 97.9h0M361.8 94.5h0M355.0 93.8h0M353.8 99.0h0M357.8 96.3h0M355.3 94.6h0M353.9 96.7h0M360.1 91.9h0M354.7 91.4h0M360.5 96.9h0M360.5 98.4h0M358.8 95.6h0M361.2 95.4h0M356.1 93.6h0M351.9 94.2h0M361.0 98.2h0M361.8 96.3h0M360.8 97.0h0M355.5 91.7h0M359.4 95.1h0M352.2 97.2h0M361.9 95.7h0M357.2 94.6h0M357.8 98.2h0M360.9 97.7h0M357.6 91.2h0M353.3 93.5h0M358.3 97.9h0M358.3 96.9h0M361.2 95.6h0M356.2 93.2h0M362.1 96.9h0M357.9 92.1h0M354.5 92.1h0M358.4 91.5h0M360.7 95.6h0M360.8 94.2h0M358.4 96.8h0M354.1 94.0h0M358.8 92.6h0M356.7 90.6h0M357.3 91.2h0M358.7 99.9h0M352.8 98.1h0M354.8 96.7h0M354.6 97.0h0M360.0 93.4h0M358.9 93.0h0M359.2 93.9h0M357.9 99.6h0M354.2 99.2h0M359.9 92.1h0M360.5 93.0h0M354.2 95.8h0M357.7 99.3h0M352.2 93.0h0M358.9 99.1h0M356.5 92.3h0M354.8 98.3h0M356.5 98.5h0M361.7 99.2h0M356.3 98.2h0M360.0 92.4h0M356.1 98.6h0M358.6 98.0h0M356.1 106.1h0M356.2 101.5h0M348.7 106.1h0M356.7 107.1h0M349.3 102.5h0M356.8 99.7h0M357.6 97.8h0M348.0 101.5h0M350.4 99.7h0M350.4 103.6h0M354.7 97.7h0M351.1 101.3h0M354.5 105.7h0M351.4 103.1h0M351.8 103.2h0M351.5 101.5h0M353.3 102.3h0M353.5 107.8h0M355.7 103.7h0M357.6 98.3h0M356.0 103.6h0M346.6 99.5h0M358.7 99.0h0M349.5 98.6h0M357.3 104.8h0M349.9 100.9h0M354.8 101.3h0M353.1 100.5h0M354.8 107.7h0M354.8 101.9h0M350.5 101.3h0M359.0 101.3h0M357.4 96.8h0M355.2 96.4h0M346.9 98.5h0M354.6 98.7h0M346.4 104.7h0M354.1 102.5h0M350.0 106.9h0M354.6 97.7h0M356.1 98.9h0M349.8 98.4h0M355.6 98.3h0M358.5 101.4h0M356.4 98.5h0M353.7 99.5h0M355.1 99.0h0M357.6 98.3h0M352.6 100.4h0M347.6 98.0h0M354.4 97.6h0M351.7 102.8h0M352.8 96.7h0M351.4 102.5h0M354.6 95.5h0M351.3 105.5h0M350.8 106.3h0M346.0 102.0h0M356.0 105.7h0M347.8 99.9h0M357.4 101.2h0M357.7 103.2h0M357.6 97.6h0M348.4 99.4h0M352.3 102.2h0M354.5 101.4h0M358.5 98.6h0M352.9 102.5h0M353.1 102.2h0M353.0 95.0h0M351.5 104.6h0M356.2 97.3h0M357.1 101.3h0M353.1 107.0h0M352.9 95.3h0M350.1 98.4h0M349.5 106.3h0M354.2 103.5h0M347.9 104.7h0M358.0 102.9h0M349.7 85.4h0M350.3 87.4h0M347.7 82.0h0M347.0 86.5h0M342.5 87.0h0M348.9 89.0h0M343.3 78.6h0M353.5 91.0h0M343.9 84.9h0M345.0 87.4h0M356.2 88.5h0M352.0 90.2h0M343.1 88.0h0M351.8 88.0h0M351.9 89.5h0M343.3 88.8h0M343.5 87.8h0M340.9 81.1h0M345.6 85.7h0M356.5 87.8h0M348.0 91.2h0M347.5 86.2h0M343.3 88.5h0M341.0 83.0h0M365.8 104.6h0M371.4 104.4h0M364.6 105.5h0M367.9 108.0h0M364.7 104.4h0M370.3 108.2h0M372.4 107.1h0M368.9 104.1h0M372.3 108.4h0M369.6 107.0h0M365.3 105.8h0M364.1 103.3h0M372.8 104.5h0M371.2 107.5h0M368.2 105.3h0M368.3 103.2h0M368.1 104.8h0M372.2 105.0h0M363.7 105.5h0M366.8 106.4h0M367.4 104.1h0M366.3 102.7h0M369.4 107.0h0M367.4 103.4h0M365.1 103.0h0" stroke="#f3a7b1" stroke-width="0.85" stroke-linecap="round" fill="none" opacity="0.42"/>
<path d="M412.6 66.8h0M409.7 71.6h0M411.6 77.7h0M414.9 70.9h0M396.5 71.0h0M410.5 63.0h0M406.2 62.8h0M400.7 72.8h0M415.4 71.9h0M402.6 72.6h0M415.0 68.8h0M414.3 71.9h0M406.0 76.6h0M415.7 77.5h0M400.2 79.0h0M406.1 71.3h0M425.8 67.3h0M422.2 72.5h0M424.9 73.7h0M403.6 70.6h0M410.2 63.9h0M404.2 76.7h0M403.8 73.7h0M399.7 68.2h0M406.9 80.2h0M397.3 70.0h0M421.5 66.3h0M407.8 73.1h0M404.9 65.8h0M406.6 79.7h0M417.2 68.2h0M403.8 64.0h0M415.2 72.6h0M401.0 77.3h0M411.3 76.8h0M412.7 64.7h0M398.5 72.6h0M411.5 77.3h0M404.3 68.6h0M423.5 73.0h0M418.1 78.4h0M408.6 65.8h0M412.9 78.9h0M421.1 72.0h0M400.4 74.0h0M414.1 69.4h0M411.5 75.5h0M418.8 65.7h0M421.7 75.9h0M424.5 72.4h0M417.5 77.1h0M403.1 64.1h0M407.2 67.0h0M409.2 70.2h0M412.7 78.8h0M403.3 75.9h0M403.0 66.6h0M420.6 77.7h0M423.2 70.0h0M404.7 81.4h0M418.9 64.6h0M414.7 75.4h0M425.1 71.0h0M402.4 76.5h0M399.5 69.2h0M415.9 72.7h0M414.3 76.8h0M397.9 67.1h0M402.8 70.7h0M398.6 66.2h0M411.9 69.8h0M409.5 65.8h0M411.2 65.1h0M405.1 75.1h0M398.2 68.2h0M420.0 72.9h0M401.1 75.9h0M401.0 69.6h0M425.4 74.3h0M406.1 72.3h0M415.7 64.7h0M412.9 68.6h0M407.5 69.7h0M418.3 69.0h0M419.1 77.2h0M406.4 82.1h0M402.7 73.2h0M398.3 71.6h0M417.1 77.1h0M417.7 77.8h0M410.6 67.6h0M426.7 75.5h0M414.5 72.7h0M406.4 67.2h0M411.3 69.8h0M410.1 64.7h0M402.0 71.3h0M425.8 70.6h0M412.9 77.8h0M415.7 71.7h0M419.4 78.7h0M410.5 81.1h0M405.7 62.0h0M404.0 78.8h0M408.5 75.7h0M415.2 74.8h0M403.2 71.3h0M416.7 76.1h0M418.4 70.6h0M408.9 81.2h0M412.1 69.0h0M424.0 72.0h0M414.1 61.9h0M406.6 75.2h0M417.2 72.4h0M419.7 72.8h0M406.1 75.5h0M409.8 65.4h0M423.5 72.9h0M422.0 66.2h0M409.5 63.8h0M417.3 71.1h0M424.1 73.9h0M426.1 72.6h0M410.3 73.8h0M406.2 64.1h0M424.9 75.9h0M407.8 72.6h0M402.6 74.9h0M417.1 71.7h0M408.1 75.9h0M410.2 76.3h0M406.9 63.2h0M406.7 73.4h0M406.1 67.0h0M420.9 75.4h0M408.5 72.2h0M410.0 70.2h0M407.6 63.3h0M411.3 75.4h0M401.9 77.5h0M409.0 73.6h0M424.6 70.2h0M413.6 65.5h0M407.5 71.0h0M408.8 72.3h0M413.6 80.5h0M408.3 64.6h0M402.1 75.3h0M403.1 64.9h0M404.9 80.6h0M417.2 77.0h0M405.6 81.2h0M408.5 79.8h0M402.7 63.2h0M419.4 71.1h0M414.1 67.8h0M410.6 66.3h0M412.0 78.8h0M408.6 80.8h0M407.5 81.7h0M408.5 62.4h0M411.3 75.5h0M419.6 66.6h0M408.0 64.2h0M414.8 76.4h0M408.3 77.0h0M401.6 72.7h0M410.9 68.6h0M411.4 68.2h0M398.7 75.9h0M411.1 64.6h0M416.8 67.6h0M413.5 76.4h0M410.5 68.9h0M406.7 74.9h0" stroke="#f8c6a3" stroke-width="0.85" stroke-linecap="round" fill="none" opacity="0.42"/>
<path d="M367.1 155.7h0M373.0 162.0h0M370.6 160.0h0M375.1 161.8h0M367.6 158.6h0M376.1 158.5h0M373.3 155.1h0M367.2 158.0h0M373.0 156.3h0M373.5 158.0h0M373.3 158.8h0M375.9 163.1h0M375.2 156.8h0M371.8 157.5h0M369.1 158.3h0M375.4 159.5h0M370.4 153.8h0M377.5 163.4h0M369.9 158.5h0M365.8 151.9h0M374.7 162.9h0M372.1 157.5h0M369.8 153.8h0M373.9 160.4h0M375.2 161.4h0M365.0 158.2h0M374.3 159.7h0M376.5 160.9h0M365.9 158.2h0M363.1 155.9h0M365.5 153.2h0M379.4 158.7h0M369.4 157.5h0M367.7 153.7h0M368.8 160.2h0M375.9 157.9h0M375.9 160.9h0M368.1 158.5h0M369.0 156.4h0M369.2 155.2h0M377.2 162.8h0M366.5 156.7h0M371.9 156.5h0M363.0 157.0h0M374.5 159.8h0M373.4 158.4h0M371.5 157.4h0M364.7 151.7h0M372.8 155.8h0M368.2 155.4h0M372.6 158.2h0M365.6 159.1h0M378.4 160.7h0M375.5 160.5h0M364.7 151.5h0M378.2 158.5h0M375.7 163.4h0M372.3 156.8h0M373.7 158.4h0M363.8 152.9h0M365.9 158.0h0M379.0 157.6h0M367.1 152.3h0M368.3 153.3h0M376.1 156.4h0M371.8 161.4h0M367.0 155.3h0M365.8 153.4h0M371.2 159.8h0M367.3 160.0h0M377.9 160.3h0M363.2 154.4h0M373.5 159.0h0M361.9 156.9h0M366.0 158.9h0M364.2 155.7h0M376.6 159.0h0M369.5 154.0h0M371.6 161.6h0M366.4 154.2h0M365.8 152.7h0M373.0 154.9h0M369.3 153.4h0M363.9 155.1h0M363.9 156.3h0M373.8 161.4h0M364.3 154.7h0M366.7 152.7h0M372.0 156.3h0M375.1 163.6h0M365.9 158.0h0M372.5 162.0h0M367.6 155.9h0M370.4 157.9h0M367.1 155.9h0M366.3 155.9h0M366.9 160.3h0M368.5 160.2h0M375.5 162.3h0M369.2 157.9h0M375.9 157.8h0M369.6 157.3h0M372.2 159.1h0M364.6 158.2h0M365.4 153.4h0M363.7 155.2h0M371.4 160.9h0M378.5 158.9h0M366.6 154.0h0M367.1 154.1h0M376.7 158.0h0M374.0 161.7h0M377.4 159.7h0M371.1 161.1h0M372.0 156.9h0M363.5 154.0h0M372.0 155.0h0M372.5 158.7h0M366.5 159.3h0M366.6 155.7h0M375.2 160.5h0M369.8 155.6h0M364.8 151.7h0M369.0 158.2h0M369.6 155.6h0M379.0 160.3h0M377.1 160.9h0M376.3 157.8h0M369.0 159.5h0M366.8 153.7h0M371.9 159.5h0M363.1 158.6h0M377.0 164.5h0M374.6 159.4h0M372.7 155.8h0M366.1 158.6h0M372.3 161.9h0M365.8 157.7h0M374.5 161.1h0M366.4 157.6h0M364.6 154.7h0M372.4 157.2h0M368.8 160.5h0M365.1 152.7h0M366.7 157.0h0M367.8 160.2h0M363.7 153.3h0M373.2 161.4h0M368.1 153.2h0M367.4 153.0h0M369.3 160.4h0M369.1 156.2h0M376.3 156.5h0M371.6 154.4h0M371.3 157.2h0M365.0 154.2h0M371.0 159.5h0M368.2 156.8h0M373.9 156.2h0M374.2 161.4h0M365.1 158.6h0M366.3 157.3h0M370.9 155.9h0M377.6 157.6h0M373.4 159.8h0M369.0 158.5h0M369.5 156.6h0M367.3 158.3h0M369.6 161.2h0M363.8 153.6h0M369.8 159.7h0M370.7 157.5h0M370.9 158.7h0M366.9 159.9h0M362.2 157.0h0M375.6 161.5h0M371.6 154.7h0M369.3 155.9h0M377.0 157.9h0M370.2 154.4h0M363.3 157.7h0M373.8 155.9h0M374.2 161.7h0M366.8 154.6h0M366.8 156.1h0M365.3 156.3h0M373.9 156.3h0M367.3 159.3h0M368.5 158.7h0M374.7 159.6h0M375.9 157.1h0M377.7 162.2h0M363.6 153.5h0M367.4 159.8h0M368.3 154.3h0M378.7 159.9h0M368.4 159.2h0M371.9 158.3h0M371.0 159.0h0M365.5 158.9h0M372.9 155.0h0M374.2 160.3h0M362.9 154.9h0M366.7 158.2h0M371.0 156.4h0M375.3 156.2h0M365.1 157.3h0M375.1 161.9h0M364.9 154.6h0M370.0 161.3h0M376.4 162.3h0M368.0 155.4h0M370.0 161.8h0M367.8 154.0h0M377.0 159.3h0M363.2 155.3h0M368.4 158.3h0M367.6 159.0h0M370.3 154.1h0M375.9 160.4h0M378.8 158.9h0M371.9 157.2h0M365.0 158.2h0M371.2 159.6h0M375.2 158.2h0M370.6 161.7h0M376.2 161.7h0M370.7 156.5h0M367.6 155.3h0M373.1 156.4h0M363.6 153.7h0M365.0 156.0h0M368.8 159.9h0M374.0 156.4h0M374.1 161.7h0M362.2 157.7h0M370.9 156.8h0M362.9 158.1h0M369.5 156.2h0M363.4 154.2h0M365.2 153.1h0M367.1 158.9h0M370.9 154.5h0M364.9 155.5h0M377.7 159.6h0M363.4 155.3h0M378.3 158.4h0M372.6 158.1h0M378.5 160.7h0M375.4 162.4h0M373.2 156.5h0M370.7 158.0h0M379.7 158.1h0M371.3 161.7h0M370.0 160.4h0M376.0 161.7h0M365.4 157.0h0M365.9 155.2h0M376.9 157.4h0M376.2 159.0h0M368.2 159.5h0M370.6 160.9h0M365.8 154.7h0M373.1 158.0h0M364.9 151.9h0M370.5 160.7h0M373.4 155.1h0M369.4 156.6h0M378.2 160.2h0M372.1 158.5h0M374.0 162.2h0M364.9 154.3h0M378.7 159.4h0M365.6 158.4h0M370.8 158.7h0M366.8 159.3h0M372.0 155.4h0M365.8 157.0h0M370.8 154.0h0M363.4 158.6h0M364.1 153.8h0M376.3 162.9h0M372.4 155.8h0M377.9 161.7h0M377.1 162.6h0M367.1 158.0h0M376.0 157.8h0M363.5 153.8h0M376.5 158.9h0M364.0 156.1h0M371.4 154.2h0M368.7 160.4h0M374.9 161.5h0M368.5 157.1h0M368.7 156.3h0M365.1 155.7h0M375.1 156.5h0M368.5 154.9h0M363.6 154.1h0M375.8 163.5h0M368.9 156.2h0M374.9 160.5h0M366.5 159.4h0M369.4 154.8h0M370.5 159.6h0M367.2 154.0h0M375.1 162.3h0M374.5 156.4h0M364.4 151.5h0M363.0 156.3h0M372.5 161.6h0M370.5 161.9h0M370.3 156.9h0M377.2 161.8h0M366.0 157.3h0M372.7 156.9h0M366.9 152.2h0M374.8 160.4h0M377.3 158.8h0M372.3 161.7h0M365.1 153.0h0M368.3 154.0h0M374.9 160.7h0M377.1 164.4h0M365.6 154.2h0M367.1 152.2h0M378.7 160.2h0M370.8 162.2h0M362.7 157.5h0M377.0 157.9h0M371.5 161.8h0M365.7 156.7h0M375.1 156.9h0M366.8 154.0h0M375.9 157.3h0M366.8 153.4h0M370.1 157.2h0M372.4 157.6h0M364.9 153.6h0M364.6 154.1h0M372.4 154.8h0M370.9 161.3h0M374.0 156.1h0M370.8 158.2h0M372.5 162.9h0M375.7 164.0h0M365.4 154.7h0M367.4 154.5h0M374.5 161.9h0M377.3 159.9h0M374.9 160.8h0M364.3 153.5h0M372.2 162.3h0M375.2 162.8h0M376.6 156.7h0M374.6 155.9h0M370.9 156.2h0M371.4 159.9h0M373.7 156.4h0M371.0 161.4h0M368.5 154.4h0M369.4 157.1h0M378.3 157.6h0M375.9 158.9h0M371.9 162.2h0M374.4 158.0h0M367.9 154.3h0M365.3 153.1h0M363.8 153.8h0M365.0 159.3h0M376.7 161.6h0M371.2 159.0h0M369.8 157.0h0M371.2 160.2h0M372.9 156.6h0M376.6 162.6h0M366.3 159.8h0M378.7 160.6h0M372.6 156.8h0M372.5 156.9h0M377.5 151.9h0M375.3 154.8h0M377.1 150.7h0M378.8 151.4h0M373.4 155.0h0M380.3 153.9h0M377.0 150.3h0M378.8 154.0h0M373.9 153.5h0M376.8 155.3h0M378.9 152.4h0M374.7 156.8h0M375.3 152.8h0M377.8 156.8h0M378.5 155.7h0M375.7 150.3h0M378.5 151.0h0M380.2 154.7h0M375.3 153.1h0M378.0 156.2h0M374.7 150.4h0M378.0 150.4h0M377.2 154.3h0M379.4 155.2h0M376.1 157.1h0M379.5 151.6h0M374.0 151.0h0M375.9 154.8h0M379.2 154.5h0M375.2 152.2h0M377.2 156.2h0M378.3 151.0h0M375.3 152.8h0M374.3 155.1h0M378.4 154.2h0M378.8 155.1h0M380.2 154.7h0M374.3 152.5h0M380.1 154.3h0M376.7 149.7h0M376.2 153.4h0M377.8 156.0h0M379.6 154.6h0M379.8 151.9h0M374.9 151.5h0M375.8 154.9h0M373.1 152.6h0M378.9 152.7h0M375.1 151.3h0M375.6 152.1h0M373.6 153.3h0M377.9 151.2h0M378.1 155.4h0M373.7 155.1h0M379.6 153.1h0M375.3 156.5h0M379.0 151.5h0M379.6 150.2h0M380.2 154.1h0M380.2 152.6h0M378.5 154.3h0M376.3 154.8h0M375.2 150.6h0M378.2 156.7h0M379.1 155.2h0M373.0 154.7h0M378.4 156.1h0M378.9 156.4h0M373.3 154.5h0M374.7 153.4h0M378.7 150.5h0M373.4 152.9h0M375.2 155.6h0M375.1 154.9h0M376.9 154.6h0M374.2 154.3h0M377.2 152.8h0M375.4 149.4h0M374.4 151.5h0M380.3 155.2h0M377.3 153.1h0M373.5 152.7h0M374.1 153.4h0M376.7 151.5h0M373.3 152.0h0M378.4 150.6h0M377.1 152.4h0M374.9 156.7h0M373.2 152.1h0M373.1 154.1h0M387.8 157.3h0M385.3 153.3h0M379.2 149.3h0M387.7 154.0h0M386.6 153.9h0M388.0 151.4h0M381.3 151.6h0M389.5 152.0h0M387.7 154.9h0M388.0 152.9h0M384.2 155.0h0M383.4 155.6h0M376.0 149.7h0M385.6 154.3h0M378.6 144.1h0M383.1 154.9h0M375.0 149.2h0M385.3 148.2h0M386.2 157.4h0M382.4 151.8h0M377.4 144.6h0M378.9 146.3h0M382.2 154.8h0M383.1 152.7h0M375.9 150.3h0M373.7 149.5h0M374.4 149.8h0M386.9 157.5h0M380.0 147.6h0M380.7 150.5h0M379.4 145.9h0M383.6 148.2h0M388.1 153.4h0M377.2 151.2h0M382.7 148.4h0M384.4 149.3h0M382.5 150.4h0M382.3 151.2h0M379.8 147.0h0M379.6 152.5h0M376.4 149.1h0M381.7 146.1h0M379.5 151.9h0M377.4 148.9h0M389.5 151.5h0M386.1 151.5h0M381.2 151.7h0M374.4 149.0h0M389.3 151.4h0M385.8 150.6h0M386.8 153.1h0M377.3 151.3h0M386.4 150.9h0M388.2 152.7h0M376.8 146.3h0M379.4 150.7h0M382.6 150.2h0M385.7 149.1h0M383.2 150.4h0M382.1 148.6h0M374.6 148.4h0M383.0 152.4h0M374.4 149.6h0M381.7 149.1h0M381.7 146.3h0M378.8 148.2h0M375.9 146.9h0M377.5 144.9h0M383.2 147.6h0M386.3 150.3h0M376.9 145.6h0M381.4 152.7h0M378.9 150.0h0M386.6 156.2h0M380.3 150.7h0M382.2 150.8h0M386.6 151.2h0M388.8 152.4h0M386.5 150.8h0M378.8 147.2h0M379.3 148.6h0M377.0 145.2h0M383.2 153.8h0M380.6 149.6h0M380.1 147.9h0M383.0 151.7h0M380.2 148.6h0M377.9 150.9h0M382.1 147.8h0M385.5 149.6h0M381.8 152.7h0M390.0 153.8h0M383.1 151.5h0M384.7 153.1h0M376.1 148.9h0M390.1 153.2h0M387.8 152.0h0M381.3 151.3h0M385.0 150.8h0M376.7 149.7h0M387.0 154.6h0M380.2 148.6h0M374.0 149.6h0M381.8 150.9h0M390.6 151.5h0M384.7 149.1h0M384.8 149.7h0M379.1 146.3h0M377.1 151.3h0M387.6 151.4h0M384.0 150.4h0M388.0 153.3h0M375.3 149.1h0M379.4 151.1h0M379.1 145.0h0M378.6 146.2h0M378.3 144.4h0M383.4 149.4h0M389.0 153.3h0M387.5 152.0h0M390.4 152.0h0M377.8 151.3h0M386.7 154.6h0M382.5 150.3h0M381.9 147.8h0M382.9 146.8h0M382.9 150.8h0M386.3 150.5h0M383.3 147.9h0M381.0 146.6h0M378.0 145.1h0M378.3 147.9h0M385.1 153.5h0M382.5 148.9h0M385.1 153.7h0M375.3 147.4h0M378.3 147.9h0M380.5 148.3h0M381.0 151.8h0M380.2 146.6h0M386.2 156.0h0M383.6 152.6h0M381.4 150.2h0M387.2 156.7h0M386.2 154.0h0M375.0 148.3h0M377.6 148.0h0M384.1 151.9h0M384.2 147.8h0M383.0 147.6h0M383.8 151.7h0M387.4 153.6h0M383.1 154.8h0M390.1 154.0h0M377.0 150.8h0M385.0 153.7h0M382.4 150.6h0M384.2 156.2h0M380.2 151.3h0M382.7 149.6h0M377.0 151.3h0M383.2 149.7h0M384.9 154.5h0M386.8 149.2h0M385.3 148.8h0M380.1 150.4h0M379.9 148.8h0M382.2 154.7h0M386.9 149.7h0M386.9 153.3h0M379.6 146.1h0M383.7 155.7h0M386.1 151.4h0M377.9 144.0h0M382.1 148.6h0M386.1 155.2h0M380.0 150.6h0M385.1 150.1h0M385.7 152.8h0M384.3 153.6h0M378.6 150.4h0M378.4 151.8h0M391.0 151.5h0M388.5 152.7h0M377.4 144.8h0M385.0 154.7h0M383.0 150.7h0M388.4 151.5h0M384.4 152.4h0M380.4 146.4h0M374.2 148.9h0M378.9 147.5h0M389.2 151.4h0M384.5 147.7h0M381.5 149.8h0M383.4 153.2h0M383.1 150.1h0M376.8 145.2h0M386.2 153.7h0M381.5 146.9h0M382.6 148.8h0M385.3 156.5h0M385.8 152.2h0M383.7 154.9h0M385.8 156.5h0M389.6 151.6h0M390.1 152.5h0M377.0 144.1h0M384.4 150.5h0M380.9 145.5h0M379.9 152.8h0M385.3 151.2h0M388.6 150.4h0M380.1 151.5h0M386.4 149.3h0M380.3 148.4h0M380.9 149.9h0M387.2 152.3h0M386.8 151.4h0M387.1 155.3h0M384.8 148.1h0M376.4 145.8h0M376.1 145.7h0M383.8 153.3h0M387.1 150.3h0M380.5 153.7h0M378.0 151.8h0M388.0 155.4h0M385.7 148.7h0M378.4 152.7h0M390.6 151.7h0M385.5 153.6h0M379.5 150.3h0M375.4 150.9h0M382.0 152.7h0M378.1 147.3h0M377.9 148.9h0M374.8 148.0h0M376.7 145.7h0M377.5 149.8h0M382.9 149.9h0M389.1 154.3h0M378.0 148.3h0M388.0 151.0h0M381.9 148.8h0M384.4 149.4h0M389.3 153.5h0M379.1 146.3h0M388.3 155.6h0M382.1 146.8h0M382.9 148.5h0M378.8 151.1h0M380.5 147.1h0M385.8 155.9h0M379.5 147.2h0M375.1 148.9h0M381.6 149.0h0M387.5 155.3h0M380.0 146.1h0M384.0 154.9h0M388.1 151.7h0M375.3 147.3h0M389.0 150.9h0M380.4 149.1h0M380.9 145.8h0M389.5 152.7h0M385.8 152.2h0M385.6 153.4h0M384.2 148.9h0M378.0 146.3h0M383.8 155.5h0M384.1 150.9h0M376.3 150.3h0M381.3 146.1h0M378.7 151.7h0M386.4 157.4h0M388.1 152.1h0M381.3 146.3h0M378.1 147.8h0M384.8 149.3h0M379.8 149.4h0M381.0 152.9h0M382.8 152.8h0M379.3 151.0h0M379.5 151.3h0M377.9 144.4h0M386.4 150.0h0M379.7 151.2h0M388.4 152.9h0M388.3 155.7h0M377.3 146.0h0M387.4 153.7h0M378.6 145.6h0M378.7 147.5h0M384.5 154.2h0M388.4 156.7h0M385.9 148.6h0M390.8 152.5h0M382.0 147.9h0M378.7 152.1h0M380.6 152.6h0M383.9 149.1h0M379.3 151.6h0M381.1 153.7h0M381.5 150.2h0M381.0 153.9h0M386.4 151.6h0M386.5 155.1h0M378.0 150.0h0M385.3 151.0h0M377.8 146.9h0M381.9 146.8h0M383.4 148.7h0M387.5 151.2h0M377.1 149.7h0M383.2 148.0h0M388.4 150.6h0M386.0 153.6h0M385.1 149.0h0M378.6 152.7h0M383.5 149.0h0M385.9 155.9h0M389.1 150.7h0M386.8 152.0h0M385.0 148.5h0M388.0 153.3h0M376.9 150.7h0M384.7 156.3h0M379.9 146.1h0M377.1 146.3h0M376.9 145.0h0M385.9 153.1h0M380.6 146.4h0M383.1 147.9h0M381.8 149.3h0M387.4 150.1h0M385.5 152.9h0M380.2 153.4h0M382.4 146.3h0M381.4 150.0h0M389.0 155.3h0M379.3 150.2h0M379.2 146.1h0M385.0 149.1h0M388.9 151.0h0M382.7 153.8h0M377.5 143.7h0M381.9 153.9h0M376.5 147.6h0M380.1 146.2h0M384.0 153.9h0M384.4 150.7h0M380.5 148.9h0M383.6 153.4h0M383.0 155.2h0M387.1 151.7h0M381.5 154.1h0M388.3 153.6h0M389.9 152.1h0M387.8 151.4h0M382.8 150.0h0M381.2 147.5h0M377.6 146.8h0M376.8 149.9h0M376.6 145.4h0M381.7 147.3h0M377.7 149.5h0M375.7 148.8h0M380.7 153.7h0M389.6 153.0h0M387.9 152.7h0M388.8 152.2h0M384.7 149.1h0M386.7 156.3h0M381.6 153.8h0M375.7 146.5h0M376.6 147.2h0M381.2 146.8h0M385.4 153.4h0M379.7 146.1h0" stroke="#e3883a" stroke-width="0.85" stroke-linecap="round" fill="none" opacity="0.42"/>
<path d="M443.8 83.7h0M446.3 84.4h0M438.5 77.9h0M441.9 81.3h0M431.7 73.9h0M444.0 85.4h0M431.6 71.8h0M441.1 80.6h0M434.3 75.1h0M435.2 78.7h0M442.7 80.5h0M433.9 75.2h0M432.6 73.8h0M434.0 75.3h0M439.1 79.7h0M442.7 89.7h0M445.8 86.1h0M444.1 89.8h0M443.3 89.0h0" stroke="#62a2dc" stroke-width="0.85" stroke-linecap="round" fill="none" opacity="0.42"/>
<path d="M376.5 68.5h0M374.7 71.2h0M398.9 49.1h0M422.8 52.5h0M410.4 61.2h0M418.6 65.1h0M407.2 69.6h0M399.5 62.8h0M415.9 48.5h0M419.6 46.9h0M417.6 45.9h0M396.9 59.9h0M410.0 67.5h0M422.9 58.8h0M398.4 52.9h0M405.4 65.4h0M397.7 54.1h0M412.0 70.1h0M413.2 64.6h0M415.6 73.1h0M419.2 69.8h0M403.5 62.8h0M405.3 79.6h0M410.2 70.4h0M405.0 70.8h0M397.0 73.7h0M417.7 66.6h0M404.3 66.3h0M417.8 68.9h0M426.7 68.8h0M410.1 64.0h0M415.5 78.8h0M417.2 75.5h0M422.1 67.1h0M420.2 63.6h0M401.3 67.7h0M401.3 72.5h0M419.5 69.4h0M412.0 66.3h0M420.4 74.4h0M408.0 66.1h0M423.5 78.8h0M411.8 68.2h0M409.0 69.8h0M413.8 63.3h0M399.0 75.9h0M409.9 62.3h0M422.5 78.7h0M414.6 75.6h0M400.9 65.3h0M400.1 77.0h0M411.4 63.5h0M409.3 72.2h0M402.3 74.2h0M406.3 70.4h0M417.3 72.8h0M407.3 72.9h0M401.8 70.3h0M410.5 70.4h0M412.3 80.1h0M416.5 63.4h0M420.1 76.2h0M419.0 68.9h0M412.6 63.5h0M420.3 74.6h0M406.3 69.9h0M404.9 68.8h0M411.4 77.2h0M408.3 69.5h0M423.1 74.9h0M422.8 70.1h0M402.3 66.8h0M417.5 79.6h0M401.0 74.9h0M421.7 76.5h0M414.5 74.7h0M410.5 70.5h0M416.4 66.9h0M408.0 68.1h0M424.4 72.8h0M404.5 63.5h0M416.5 64.4h0M400.3 67.0h0M423.6 75.4h0M401.4 73.7h0M409.7 73.5h0M407.7 73.2h0M403.1 73.4h0M412.8 81.0h0M419.5 68.1h0M416.0 65.9h0M418.9 71.9h0M404.6 71.4h0M422.4 67.6h0M405.9 77.3h0M415.4 68.3h0M411.0 60.7h0M410.1 62.9h0M401.5 68.8h0M395.9 68.1h0M419.7 78.4h0M406.7 62.7h0M420.4 74.5h0M405.7 79.5h0M418.9 65.3h0M425.4 70.8h0M416.0 64.1h0M408.9 71.4h0M404.9 62.0h0M411.2 76.4h0M399.4 65.3h0M419.6 69.9h0M409.3 69.8h0M406.4 66.9h0M406.0 74.2h0M406.7 72.4h0M418.2 71.5h0M405.8 66.1h0M408.4 68.8h0M419.2 71.7h0M414.8 74.0h0M414.5 75.6h0M409.9 62.2h0M396.4 69.4h0M415.7 63.5h0M408.9 71.7h0M416.4 77.8h0M405.5 70.9h0M401.3 67.1h0M417.2 77.2h0M415.4 63.6h0M408.1 76.5h0M419.0 71.9h0M403.2 67.6h0M401.1 73.1h0M415.0 71.7h0M401.0 76.7h0M425.1 67.5h0M411.6 69.9h0M400.6 63.8h0M406.8 69.3h0M412.0 72.3h0M411.8 79.6h0M415.5 70.1h0M397.1 69.4h0M424.0 73.3h0M419.7 69.0h0M406.6 70.5h0M400.5 72.5h0M402.1 72.2h0M398.8 69.6h0M410.5 74.2h0M422.1 71.5h0M404.9 64.3h0M407.7 63.3h0M413.3 69.8h0M411.0 62.8h0M403.3 65.4h0M413.6 66.2h0M425.1 65.1h0M408.0 80.3h0M409.2 69.3h0M419.8 78.0h0M417.5 66.3h0M405.0 69.9h0M412.0 78.0h0M410.4 67.0h0M414.4 76.0h0M421.1 79.1h0M410.9 62.9h0M417.0 70.0h0M411.6 72.2h0M423.4 76.7h0M426.2 69.4h0M408.9 74.6h0M423.7 68.1h0M402.5 80.1h0M404.8 74.1h0M409.6 64.1h0M402.1 69.8h0M412.2 70.8h0M419.4 70.5h0M406.6 75.3h0M424.3 77.3h0M423.1 75.9h0M416.7 71.5h0M400.8 67.7h0M410.3 63.8h0M399.1 74.5h0M418.4 70.2h0M416.1 78.6h0M422.0 75.9h0M411.8 78.9h0M401.4 71.1h0M423.8 71.3h0M405.6 76.1h0M419.4 67.6h0M407.0 73.9h0M398.2 70.9h0M423.7 67.4h0M419.8 77.7h0M405.7 66.6h0M395.4 63.5h0M387.4 70.1h0M349.8 99.7h0M341.8 99.9h0M352.8 99.6h0M351.1 107.0h0M347.2 108.2h0M352.1 97.1h0M352.9 99.1h0M343.6 102.8h0M350.4 101.4h0M344.6 97.4h0M347.8 107.1h0M347.7 101.4h0M348.7 100.3h0M350.9 106.4h0M351.4 101.1h0M344.7 102.4h0M340.8 102.5h0M346.7 104.9h0M349.3 97.8h0M340.2 103.9h0M351.9 98.1h0M358.3 96.0h0M352.8 94.0h0M353.4 94.8h0M358.0 91.0h0M361.9 99.0h0M355.0 96.0h0M359.7 94.3h0M358.8 94.5h0M354.6 99.1h0M359.6 92.4h0M354.0 98.9h0M358.5 93.1h0M359.1 94.2h0M357.9 95.5h0M354.3 98.3h0M358.9 96.6h0M362.2 95.7h0M362.8 95.8h0M355.1 95.0h0M362.9 95.4h0M354.7 93.9h0M355.8 98.0h0M355.9 95.7h0M352.1 95.5h0M358.0 96.8h0M356.1 98.1h0M361.6 98.3h0M354.7 94.5h0M361.3 96.8h0M354.9 95.4h0M359.0 94.5h0M355.9 95.7h0M357.3 91.8h0M357.4 93.4h0M355.1 98.8h0M358.3 95.5h0M361.8 93.2h0M358.4 98.1h0M358.6 99.6h0M360.8 93.4h0M355.6 96.0h0M362.3 96.8h0M352.2 93.7h0M354.6 93.1h0M354.7 98.3h0M361.2 98.0h0M362.3 96.9h0M357.5 97.5h0M355.7 97.5h0M360.9 98.9h0M353.9 97.0h0M351.5 97.0h0M356.8 93.4h0M357.0 91.3h0M361.5 92.8h0M355.9 91.1h0M355.2 95.1h0M352.2 95.6h0M355.5 98.3h0M355.3 94.5h0M358.5 92.5h0M356.3 93.9h0M361.1 97.7h0M360.1 92.9h0M353.0 94.5h0M356.7 96.7h0M357.5 95.6h0M359.7 92.1h0M360.0 94.4h0M354.0 91.9h0M361.4 92.5h0M355.8 94.7h0M357.5 97.4h0M358.0 97.9h0M360.0 95.2h0M359.6 91.6h0M360.5 99.2h0M361.4 95.2h0M355.8 99.9h0M355.7 97.6h0M357.0 92.1h0M354.6 94.4h0M357.0 98.5h0M355.6 93.3h0M354.5 92.2h0M361.9 96.9h0M358.7 90.9h0M360.4 97.3h0M354.5 98.2h0M361.1 96.1h0M361.2 91.4h0M357.1 95.9h0M358.7 100.0h0M357.9 95.7h0M357.2 91.9h0M356.5 92.6h0M359.0 92.1h0M355.6 97.9h0M355.3 97.3h0M356.6 99.6h0M353.2 95.2h0M360.9 92.6h0M360.4 99.4h0M353.5 96.2h0M356.5 100.7h0M357.2 97.5h0M361.2 98.5h0M356.3 98.7h0M352.9 96.1h0M356.9 100.3h0M354.7 95.7h0M360.6 95.7h0M360.5 97.9h0M362.3 95.0h0M356.9 90.5h0M356.9 97.4h0M354.6 99.5h0M356.0 96.5h0M360.2 97.1h0M355.7 99.7h0M357.1 91.0h0M353.0 93.9h0M357.7 91.3h0M353.6 91.5h0M352.9 95.9h0M353.8 93.5h0M352.7 98.3h0M353.7 92.0h0M359.0 93.1h0M357.4 94.2h0M354.0 99.5h0M357.0 90.8h0M361.2 92.2h0M353.0 94.4h0M361.0 100.2h0M358.1 95.4h0M354.4 96.5h0M358.9 96.3h0M356.4 94.4h0M356.5 94.9h0M358.2 93.6h0M358.6 93.0h0M361.6 93.5h0M359.0 96.6h0M352.7 96.7h0M356.3 93.0h0M353.5 95.0h0M355.9 99.7h0M360.5 95.9h0M359.7 92.0h0M361.7 95.0h0M356.5 95.1h0M358.8 102.9h0M353.5 95.4h0M353.8 101.4h0M349.2 101.0h0M352.1 101.8h0M356.2 105.0h0M356.4 101.9h0M356.3 102.3h0M349.9 103.7h0M349.0 104.7h0M355.7 105.0h0M358.4 105.6h0M354.0 104.8h0M357.3 106.1h0M352.9 102.2h0M353.9 96.7h0M354.1 95.1h0M357.6 97.7h0M353.2 104.5h0M355.6 99.4h0M356.0 105.5h0M352.6 103.9h0M354.2 94.6h0M348.7 96.6h0M348.4 97.5h0M355.4 97.7h0M355.1 101.1h0M349.7 96.3h0M355.2 99.8h0M350.4 97.9h0M356.2 96.9h0M350.9 100.3h0M347.2 102.1h0M352.3 96.8h0M349.0 104.7h0M354.9 102.0h0M360.2 102.0h0M355.0 104.8h0M352.5 105.4h0M351.9 104.0h0M347.1 103.8h0M353.1 98.9h0M349.6 104.5h0M353.9 98.2h0M350.9 97.1h0M351.4 105.5h0M347.4 98.3h0M356.4 98.1h0M352.1 101.7h0M353.7 102.9h0M358.0 99.8h0M358.7 98.3h0M355.4 105.0h0M347.0 99.6h0M355.5 102.9h0M352.2 103.6h0M354.5 94.7h0M353.0 104.7h0M350.3 106.0h0M358.3 100.1h0M349.5 106.8h0M356.9 99.5h0M354.5 98.3h0M348.4 105.5h0M354.4 96.7h0M354.1 96.7h0M357.3 106.5h0M355.7 101.1h0M356.6 100.1h0M347.3 102.3h0M358.8 103.0h0M347.5 102.0h0M356.9 97.6h0M356.7 100.1h0M352.1 99.6h0M358.2 104.1h0M356.9 99.8h0M347.5 98.3h0M360.1 99.8h0M347.0 101.1h0M353.0 107.4h0M350.6 98.3h0M351.2 97.5h0M349.7 97.5h0M351.6 106.0h0M343.8 83.5h0M345.3 84.3h0M358.1 87.0h0M343.9 82.7h0M345.1 89.8h0M349.6 83.4h0M348.9 82.8h0M352.2 89.5h0M342.1 78.8h0M351.9 83.5h0M355.0 85.4h0" stroke="#d8434e" stroke-width="0.85" stroke-linecap="round" fill="none" opacity="0.42"/>
<path d="M408.2 67.7h0M404.0 59.0h0M398.2 59.4h0M412.7 54.5h0M395.8 63.0h0M406.0 60.3h0M411.0 59.0h0M403.9 53.0h0M414.2 68.1h0M420.1 57.1h0M410.4 56.2h0M419.3 47.4h0M413.0 45.0h0M419.7 51.8h0M424.2 58.9h0M422.7 63.1h0M416.9 68.0h0M397.0 69.7h0M416.4 69.4h0M420.4 67.9h0M420.7 70.7h0M420.0 73.3h0M409.5 74.6h0M416.9 63.7h0M411.1 74.0h0M411.0 64.2h0M402.0 71.5h0M421.4 69.5h0M409.8 82.0h0M414.3 65.5h0M398.8 64.3h0M407.5 67.1h0M418.6 75.7h0M407.3 65.0h0M414.3 70.8h0M422.1 65.5h0M406.2 63.2h0M409.3 65.3h0M411.8 79.0h0M424.4 66.7h0M412.0 77.0h0M414.9 79.2h0M412.5 68.6h0M423.1 70.5h0M404.9 78.5h0M414.6 65.5h0M422.1 80.2h0M403.8 77.9h0M402.5 64.7h0M408.1 66.9h0M400.4 69.3h0M414.2 68.4h0M416.7 66.1h0M412.1 64.1h0M410.6 72.7h0M414.0 75.6h0M416.4 79.4h0M404.9 73.8h0M405.5 81.4h0M412.6 81.0h0M418.2 70.7h0M403.5 70.8h0M425.7 70.6h0M408.9 63.7h0M420.0 77.3h0M401.1 73.2h0M414.9 76.9h0M406.7 76.4h0M413.9 71.5h0M404.8 73.3h0M401.5 70.5h0M406.3 78.5h0M402.6 69.6h0M399.2 70.2h0M397.4 75.4h0M425.3 68.6h0M398.9 70.5h0M416.1 73.7h0M407.9 79.9h0M427.6 72.8h0M418.9 64.2h0M401.4 68.3h0M408.8 64.7h0M407.2 73.2h0M410.5 64.6h0M397.4 67.1h0M418.0 74.9h0M402.0 71.8h0M416.7 69.6h0M419.0 68.5h0M414.8 70.5h0M394.5 72.7h0M400.8 65.2h0M401.4 76.2h0M414.2 79.8h0M409.6 65.6h0" stroke="#c8124f" stroke-width="0.85" stroke-linecap="round" fill="none" opacity="0.42"/>
<path d="M387.9 145.3h0M387.6 144.6h0M388.4 143.7h0M387.1 145.5h0M388.1 144.7h0M388.3 145.0h0M386.6 145.3h0M387.6 144.4h0" stroke="#3c9f45" stroke-width="0.85" stroke-linecap="round" fill="none" opacity="0.42"/>
<path d="M424.0 48.5h0M418.8 69.0h0M410.3 43.4h0M416.1 44.9h0M427.2 61.0h0M400.2 55.9h0M395.5 59.2h0M400.4 60.1h0M406.9 51.2h0M419.1 54.0h0M394.6 51.1h0M402.0 63.2h0M405.6 65.4h0M419.5 60.1h0M415.5 43.7h0M428.5 53.8h0M413.5 68.1h0M406.0 61.1h0M403.8 58.1h0M398.8 56.9h0M412.5 57.8h0M414.4 62.7h0M399.0 59.4h0M426.6 62.6h0M412.0 50.7h0M419.6 60.4h0M406.5 49.5h0M400.2 55.9h0M424.4 66.0h0M410.4 58.4h0M414.7 58.9h0M400.5 58.3h0M416.4 54.1h0M415.6 43.2h0M420.5 55.9h0M420.5 56.0h0M400.2 62.2h0M412.0 55.6h0M413.5 58.3h0M403.7 60.0h0M415.1 59.7h0M418.0 53.3h0M415.8 68.6h0M405.2 68.2h0M406.1 57.7h0M407.8 51.0h0M416.4 61.0h0M414.8 54.5h0M415.6 61.6h0M416.4 60.8h0M422.9 64.7h0M400.1 63.0h0M403.9 52.8h0M414.7 48.4h0M401.2 61.3h0M397.4 47.5h0M405.8 54.3h0M401.3 60.6h0M416.6 51.4h0M420.7 51.1h0M413.3 51.7h0M409.7 68.0h0M427.2 58.1h0M414.5 67.5h0M414.0 67.1h0M417.9 49.2h0M421.1 66.7h0M411.0 49.0h0M402.2 63.2h0M398.9 62.4h0M412.4 67.8h0M405.5 64.4h0M412.1 67.1h0M422.4 49.6h0M423.2 50.4h0M404.6 54.2h0M400.8 50.0h0M396.6 63.3h0M404.0 55.3h0M407.5 62.2h0M412.3 54.0h0M412.0 54.8h0M404.9 63.9h0M409.1 65.5h0M421.1 65.2h0M413.1 60.6h0M425.3 60.7h0M411.0 53.4h0M407.8 57.4h0M419.9 43.4h0M415.0 64.4h0M419.7 45.4h0M430.3 59.9h0M416.5 62.7h0M412.0 64.7h0M414.7 49.6h0M426.8 65.4h0M427.8 56.1h0M412.9 69.9h0M410.7 46.2h0M411.2 68.6h0M406.8 65.2h0M399.3 47.2h0M413.9 65.7h0M428.1 60.3h0M423.7 59.6h0M408.1 66.6h0M399.7 62.9h0M416.8 64.1h0M404.9 68.3h0M401.3 47.1h0M416.7 69.3h0M426.2 60.4h0M420.9 62.7h0M423.4 60.4h0M406.7 54.0h0M421.1 49.4h0" stroke="#b588c7" stroke-width="0.85" stroke-linecap="round" fill="none" opacity="0.42"/>
<path d="M56.8 262.6h0M62.7 260.2h0M75.4 255.9h0M36.8 255.2h0M40.8 258.1h0M53.6 268.0h0M58.7 245.0h0M76.7 261.5h0M51.8 260.7h0M37.6 248.5h0M47.1 242.6h0M39.7 270.7h0M44.3 256.2h0M63.8 250.1h0M66.9 269.3h0M42.9 257.2h0M57.0 273.0h0M36.7 267.3h0M41.0 255.4h0M71.8 253.1h0M72.6 271.5h0M39.5 248.1h0M54.0 246.7h0M64.6 272.3h0M62.9 251.3h0M60.2 275.9h0M67.1 259.7h0M64.1 257.5h0M60.4 251.7h0M64.2 257.3h0M64.2 262.3h0M54.2 253.1h0M55.2 266.7h0M34.5 257.9h0M49.2 271.9h0M55.2 241.4h0M60.2 264.6h0M46.0 256.1h0M35.4 261.9h0M40.4 245.7h0M61.3 270.5h0M60.9 264.3h0M43.4 252.7h0M68.1 255.7h0M48.1 264.0h0M53.9 249.0h0M61.0 260.9h0M77.7 261.3h0M59.2 246.9h0M67.9 257.5h0M53.8 268.7h0M50.9 253.2h0M61.2 273.0h0M44.1 256.9h0M65.1 258.0h0M58.7 263.6h0M72.8 259.8h0M46.4 270.4h0M52.0 254.0h0M59.8 244.3h0M64.3 254.7h0M51.1 255.3h0M63.7 276.7h0M39.2 263.0h0M59.9 272.2h0M71.9 263.1h0M62.9 255.8h0M42.3 255.3h0M47.9 271.3h0M63.7 254.0h0M72.9 266.1h0M59.8 260.6h0M61.1 249.1h0M45.3 243.1h0M58.8 270.3h0M58.9 258.0h0M36.9 257.7h0M57.4 253.1h0M35.5 268.2h0M62.8 252.1h0M41.2 259.6h0M48.7 270.0h0M36.1 250.6h0M57.3 263.1h0M56.4 252.8h0M35.9 261.3h0M62.4 272.4h0M52.3 275.9h0M66.2 261.7h0M59.8 246.5h0M67.8 264.7h0M45.7 263.2h0M67.4 253.4h0M45.8 275.2h0M58.4 245.0h0M54.1 241.3h0M49.4 244.1h0M63.7 252.7h0M62.4 272.6h0M72.9 258.6h0M69.2 262.9h0M65.6 275.9h0M49.5 255.1h0M49.8 262.0h0M71.3 250.0h0M62.9 266.0h0M63.5 264.4h0M49.7 262.9h0M52.6 263.2h0M63.8 256.0h0M74.2 253.2h0M36.4 257.3h0M50.1 256.3h0M62.8 243.2h0M65.3 242.9h0M80.5 252.8h0M44.5 252.2h0M75.3 248.5h0M69.6 268.0h0M37.0 257.5h0M80.8 256.6h0M60.3 263.6h0M64.1 260.7h0M42.9 256.7h0M51.2 271.2h0M30.1 256.1h0M57.1 262.1h0M48.5 252.6h0M60.3 245.3h0M40.8 242.3h0M58.1 275.0h0M48.4 268.5h0M55.6 239.2h0M47.6 270.7h0M34.2 258.9h0M50.7 268.5h0M76.1 259.0h0M41.5 253.1h0M57.8 259.3h0M33.5 253.4h0M72.4 262.9h0M66.7 268.8h0M68.4 257.3h0M56.8 275.5h0M67.1 271.6h0M57.7 264.6h0M60.0 256.9h0M34.7 256.1h0M43.2 249.4h0M38.1 260.1h0M48.5 259.3h0M61.2 264.0h0M45.7 244.1h0M53.2 243.9h0M64.4 273.7h0M70.6 260.4h0M68.0 244.9h0M67.0 247.2h0M58.1 254.6h0M57.0 276.8h0M49.4 254.6h0M43.4 263.0h0M54.8 260.5h0M39.0 261.8h0M73.4 271.9h0M79.1 252.4h0M39.8 264.5h0M63.1 254.0h0M68.7 267.9h0M64.5 264.7h0M68.4 263.8h0M71.7 247.6h0M54.7 256.1h0M38.1 247.6h0M59.7 274.2h0M58.4 270.8h0M33.2 249.2h0M57.4 248.4h0M63.8 254.5h0M59.5 247.8h0M52.1 268.2h0M74.4 269.4h0M63.7 240.9h0M49.3 254.1h0M60.8 242.3h0M41.2 249.1h0M58.6 243.2h0M69.5 260.1h0M52.8 276.1h0M52.1 243.4h0M70.0 263.2h0M44.1 270.0h0M49.1 269.0h0M70.9 257.5h0M48.7 247.5h0M72.9 252.4h0M35.0 271.4h0M77.8 263.3h0M41.5 269.9h0M79.1 251.2h0M65.3 255.5h0M47.4 257.0h0M49.7 259.6h0M72.2 256.3h0M51.6 266.5h0M64.0 241.5h0M65.2 272.3h0M53.3 258.6h0M77.4 267.9h0M38.1 265.1h0M37.4 266.6h0M71.5 251.5h0M59.8 260.1h0M40.1 253.0h0M58.5 266.7h0M36.1 261.6h0M45.7 256.3h0M49.5 239.9h0M36.8 265.6h0M35.3 258.1h0M49.4 241.9h0M44.5 241.8h0M31.8 258.3h0M69.0 264.3h0M37.7 257.6h0M48.1 275.0h0M51.1 249.1h0M56.5 250.9h0M70.7 266.5h0M59.3 263.3h0M53.7 252.2h0M48.9 276.3h0M73.7 259.0h0M41.6 269.9h0M58.8 244.9h0M54.6 238.8h0M60.1 270.5h0M42.6 263.7h0M65.9 270.1h0M56.6 245.7h0M46.3 274.0h0M71.9 245.9h0M67.1 256.5h0M60.0 242.7h0M69.5 265.5h0M58.1 244.9h0M72.1 259.6h0M45.3 250.5h0M47.3 266.5h0M66.7 263.5h0M41.8 257.0h0M54.9 263.6h0M69.5 259.5h0M63.3 257.5h0M51.1 251.2h0M74.1 258.2h0M62.1 274.3h0M79.5 255.7h0M69.5 261.6h0M63.8 268.1h0M44.1 271.9h0M37.5 269.6h0M50.2 262.3h0M46.1 272.1h0M48.6 256.7h0M64.3 264.6h0M50.2 258.6h0M54.8 267.9h0M45.5 250.0h0M42.4 265.9h0M58.4 248.9h0M43.2 260.4h0M70.3 265.3h0M46.6 261.7h0M51.6 243.7h0M70.2 273.3h0M46.6 247.8h0M64.1 264.8h0M57.0 252.7h0M55.1 253.0h0M66.9 245.8h0M50.2 255.3h0M36.9 263.6h0M59.4 257.1h0M52.5 275.6h0M77.9 249.8h0M35.6 260.9h0M78.8 250.4h0M50.2 248.2h0M69.1 253.6h0M46.4 268.3h0M65.6 263.7h0M56.9 259.6h0M55.0 273.5h0M64.4 268.6h0M69.9 259.3h0M61.5 245.7h0M44.9 263.0h0M60.7 267.5h0M48.6 266.0h0M34.7 257.1h0M51.6 275.3h0M43.7 272.3h0M76.5 263.9h0M48.8 248.8h0M39.3 248.4h0M51.7 263.1h0M44.1 243.8h0M48.7 272.7h0M40.0 267.6h0M75.0 263.8h0M65.2 252.2h0M45.9 266.6h0M52.9 260.7h0M36.0 253.1h0M48.4 242.1h0M47.4 271.7h0M61.2 262.6h0M46.0 274.1h0M44.1 250.2h0M66.2 254.0h0M50.7 245.4h0M42.9 242.1h0M76.1 259.6h0M77.9 258.3h0M69.5 244.4h0M51.8 271.1h0M47.0 244.0h0M50.1 244.5h0M39.0 258.9h0M63.8 250.4h0M42.9 242.2h0M63.7 269.6h0M71.1 271.0h0M78.4 250.5h0M44.7 251.8h0M76.0 262.3h0M32.6 251.7h0M77.3 252.4h0M64.1 242.4h0M73.4 262.1h0M70.1 269.1h0M33.5 259.3h0M59.9 257.9h0M62.2 248.8h0M50.8 264.3h0M56.1 267.5h0M36.7 250.3h0M57.8 264.8h0M64.9 259.4h0M55.0 264.1h0M34.9 251.8h0M35.3 250.2h0M56.4 270.4h0M60.2 240.4h0M39.9 267.6h0M67.5 272.2h0M47.6 244.5h0M61.2 243.7h0M67.7 269.4h0M48.4 251.8h0M62.7 253.2h0M48.5 244.7h0M41.3 248.5h0M61.2 255.5h0M71.6 245.5h0M56.3 239.6h0M36.5 262.5h0M31.4 257.6h0M60.5 257.7h0M49.9 243.8h0M61.5 251.3h0M68.0 248.7h0M47.5 262.8h0M33.4 256.2h0M69.4 259.3h0M77.3 263.0h0M70.8 260.2h0M71.6 255.3h0M61.0 245.9h0M53.8 266.6h0M76.3 245.8h0M51.0 270.8h0M48.9 270.6h0M34.8 247.6h0M60.5 263.8h0M38.9 249.6h0M52.5 247.4h0M50.6 255.1h0M75.6 243.4h0M59.8 242.1h0M46.6 261.1h0M61.5 262.1h0M39.6 255.0h0M64.9 277.1h0M44.5 246.9h0M52.6 247.7h0M47.0 262.7h0M52.3 263.8h0M39.0 257.0h0M52.9 262.7h0M42.6 262.8h0M61.6 253.9h0M51.5 245.2h0M36.7 258.5h0M46.7 272.1h0M63.7 268.5h0M44.8 259.6h0M76.0 249.6h0M42.6 245.1h0M39.8 246.2h0M54.3 261.7h0M72.5 256.3h0M35.7 256.0h0M54.4 265.2h0M58.9 265.2h0M55.1 272.0h0M69.9 250.9h0M59.1 268.8h0M48.2 251.1h0M46.7 277.2h0M34.0 252.7h0M61.4 276.4h0M35.9 251.2h0M59.0 261.9h0M48.0 273.2h0M68.8 272.2h0M41.6 252.2h0M63.1 248.7h0M49.5 268.3h0M57.1 261.8h0M65.4 259.4h0M71.4 271.9h0M66.8 272.1h0M49.4 241.1h0M62.2 258.7h0M59.0 269.4h0M77.0 259.9h0M51.6 243.2h0M42.6 265.1h0M66.7 256.5h0M46.1 251.2h0M45.5 248.8h0M49.3 257.3h0M61.4 256.6h0M33.0 261.2h0M55.5 274.7h0M44.9 247.8h0M47.8 257.7h0M40.8 255.3h0M74.0 262.3h0M31.7 261.6h0M38.5 266.6h0M49.4 269.5h0M37.3 248.0h0M54.9 263.8h0M75.7 248.4h0M41.9 267.3h0M50.6 264.4h0M59.4 260.8h0M47.5 252.3h0M71.0 265.1h0M61.1 246.2h0M50.0 243.0h0M57.5 246.5h0M63.7 261.8h0M78.6 251.5h0M54.7 241.1h0M49.5 253.7h0M58.3 261.9h0M64.4 274.6h0M35.6 252.8h0M64.4 272.0h0M34.0 260.0h0M35.6 259.4h0M63.4 270.5h0M53.8 260.9h0M39.1 266.4h0M51.2 260.4h0M46.8 272.8h0M43.1 261.8h0M49.3 269.1h0M56.9 264.3h0M55.4 256.4h0M57.6 269.6h0M49.8 263.7h0M52.2 266.9h0M46.5 262.3h0M51.0 260.8h0M40.3 272.0h0M65.3 264.4h0M64.9 264.4h0M49.0 270.8h0M49.7 262.1h0M51.3 254.5h0M48.1 256.1h0M49.7 260.9h0M45.7 265.3h0M56.5 255.0h0M46.4 254.8h0M50.7 259.2h0M53.3 267.1h0M40.1 256.7h0M51.9 267.1h0M60.3 262.7h0M57.0 261.4h0M40.7 259.9h0M38.6 262.5h0M53.0 257.7h0M53.3 271.7h0M50.2 274.1h0M47.6 256.8h0M48.4 274.2h0M63.4 264.7h0M58.9 260.8h0M45.4 267.0h0M54.1 257.5h0M49.3 254.9h0M39.2 269.0h0M62.9 268.9h0M58.1 258.1h0M50.6 270.7h0M53.6 266.6h0M47.3 270.1h0M37.6 258.7h0M42.9 264.1h0M61.4 257.3h0M62.5 262.8h0M54.9 270.9h0M44.3 262.8h0M55.2 262.5h0M47.9 266.9h0M35.0 257.8h0M57.3 271.0h0M59.6 267.5h0M62.6 272.2h0M53.2 265.0h0M41.7 259.8h0M59.6 264.6h0M43.1 267.6h0M45.1 260.8h0M45.0 269.3h0M49.0 253.6h0M60.3 259.9h0M44.4 271.4h0M47.7 254.4h0M62.6 263.8h0M58.6 270.4h0M51.3 254.3h0M55.1 265.1h0M55.9 263.1h0M40.6 271.5h0M50.2 274.1h0M41.7 259.6h0M56.8 263.2h0M64.9 265.7h0M59.0 259.4h0M63.2 263.7h0M44.3 262.6h0M50.6 256.2h0M55.1 253.8h0M47.0 267.1h0M48.1 257.6h0M54.4 265.0h0M53.9 273.9h0M46.0 257.3h0M34.1 258.2h0M46.4 256.7h0M35.5 262.6h0M40.3 262.9h0M48.0 273.9h0M56.3 269.7h0M59.4 258.7h0M59.5 260.1h0M41.5 259.6h0M59.3 261.5h0M40.5 262.1h0M52.2 265.6h0M52.6 255.0h0M49.1 271.5h0M51.9 264.0h0M52.5 270.9h0M56.1 264.0h0M54.9 263.6h0M44.5 271.8h0M35.3 265.7h0M54.1 256.1h0M54.2 261.0h0M41.1 255.5h0M32.9 264.3h0M47.1 262.3h0M58.1 264.1h0M44.7 254.7h0M38.2 259.1h0M41.3 254.7h0M45.8 254.8h0M42.0 259.9h0M58.6 270.9h0M50.9 262.2h0M42.8 272.8h0M39.4 269.5h0M51.6 263.6h0M56.6 265.3h0M55.8 255.1h0M45.3 271.7h0M35.8 265.1h0M44.4 273.8h0M48.8 255.2h0M59.0 263.1h0M38.4 260.4h0M56.5 266.9h0M58.4 272.9h0M57.2 257.3h0M50.0 272.9h0M35.5 270.2h0M37.9 263.4h0M57.3 263.9h0M40.4 271.4h0M40.8 265.5h0M63.7 259.7h0M54.8 271.3h0M52.9 256.6h0M52.9 274.3h0M47.8 262.0h0M38.8 264.5h0M45.6 256.0h0M51.3 273.9h0M48.6 264.0h0M58.2 256.5h0M57.0 258.0h0M52.4 254.9h0M60.9 271.0h0M53.7 271.3h0M48.0 257.3h0M46.1 267.1h0M42.7 271.8h0M35.0 262.6h0M62.0 263.1h0M41.3 269.9h0M56.5 255.8h0M66.1 262.2h0M58.7 267.6h0M42.5 263.6h0M55.0 266.9h0M55.3 263.7h0M48.4 259.0h0M56.0 254.0h0M39.9 262.9h0M55.5 256.8h0M52.4 265.8h0M49.7 263.6h0M54.1 271.7h0M49.4 262.4h0M43.3 259.4h0M48.7 272.6h0M40.8 267.5h0M38.8 269.6h0M42.2 267.8h0M51.3 275.1h0M53.6 270.8h0M49.3 269.0h0M62.0 258.3h0M49.7 272.4h0M39.4 259.9h0M43.4 263.5h0M55.8 270.3h0M57.1 261.3h0M58.8 266.1h0M39.6 263.0h0M41.6 270.1h0M56.3 259.1h0M42.6 269.8h0M43.3 270.0h0M42.0 270.7h0M62.1 270.0h0M46.7 258.9h0M53.2 266.7h0M63.9 260.4h0M37.2 258.5h0M47.7 258.3h0M41.7 257.3h0M48.6 265.9h0M41.5 269.0h0M64.3 260.0h0M46.6 272.3h0M48.9 266.3h0M54.7 258.3h0M42.7 255.6h0M60.3 263.3h0M37.0 261.5h0M61.8 269.1h0M49.3 266.7h0M46.5 252.8h0M58.3 270.6h0M59.8 262.3h0M67.1 236.6h0M57.9 234.7h0M47.8 236.7h0M56.8 244.6h0M66.1 244.2h0M67.6 243.5h0M61.1 241.7h0M65.1 238.6h0M69.3 242.2h0M71.7 239.0h0M65.3 236.2h0M47.8 238.7h0M60.7 244.6h0M69.1 238.7h0M65.3 239.2h0M63.7 243.7h0M66.5 240.6h0M45.7 240.8h0M51.1 240.3h0M71.7 275.2h0M69.4 276.4h0M63.8 274.8h0M57.3 276.3h0M65.2 277.0h0M55.7 277.0h0M69.1 277.8h0M66.3 274.2h0M52.7 276.5h0M70.1 279.0h0M63.1 273.6h0M58.3 279.6h0M67.7 275.8h0M51.6 276.8h0M71.5 274.0h0" stroke="#9fd0d2" stroke-width="1.6" stroke-linecap="round" fill="none" opacity="0.92"/>
<path d="M70.7 270.8h0M70.0 266.3h0M56.2 268.2h0M60.5 262.9h0M53.6 253.1h0M43.6 263.1h0M75.8 255.7h0M53.7 243.9h0M71.6 258.7h0M43.2 273.6h0M58.9 264.5h0M66.1 298.4h0M62.7 293.7h0M70.4 286.6h0M76.0 291.4h0M71.0 294.7h0M59.3 286.5h0M69.2 291.2h0M94.2 302.6h0M89.2 303.0h0M89.3 303.6h0M90.5 302.4h0M94.8 294.0h0M88.1 294.7h0M93.0 293.9h0M89.5 301.6h0" stroke="#a9d9aa" stroke-width="1.6" stroke-linecap="round" fill="none" opacity="0.92"/>
<path d="M62.4 278.0h0M82.0 262.8h0M105.2 260.2h0M101.9 260.3h0M87.2 256.3h0M85.3 262.4h0M91.4 257.4h0M82.7 258.3h0M94.1 256.3h0M96.7 296.8h0M88.4 301.6h0M95.3 291.7h0M92.2 304.6h0M94.5 305.0h0M93.9 304.0h0M90.1 302.6h0M91.8 297.5h0M96.0 293.8h0M95.8 306.9h0M87.9 295.0h0M95.1 291.0h0M90.8 301.8h0M95.3 293.7h0M90.6 297.3h0M98.9 295.4h0M96.6 301.4h0M98.3 299.3h0M93.2 298.7h0M94.0 297.4h0M89.8 299.9h0M95.4 299.5h0M89.0 297.7h0M97.0 297.0h0M93.1 300.7h0M93.6 300.3h0M93.9 290.8h0M93.0 291.9h0M95.4 294.2h0M92.6 292.6h0M99.6 298.9h0M88.8 294.4h0M90.3 304.5h0M94.2 302.9h0M96.5 299.0h0M96.7 297.5h0M96.6 294.1h0" stroke="#ebedae" stroke-width="1.6" stroke-linecap="round" fill="none" opacity="0.92"/>
<path d="M77.1 257.7h0M67.9 249.9h0M51.1 274.9h0M57.4 247.6h0M61.8 268.2h0M34.4 250.7h0M73.8 242.2h0M41.4 251.0h0M60.3 262.1h0M47.4 248.2h0M65.9 260.8h0M55.8 243.9h0M61.1 269.8h0M59.7 249.2h0M56.1 241.0h0M64.2 274.3h0M52.3 275.4h0M64.1 273.0h0M64.2 274.8h0M86.4 256.2h0M87.8 258.4h0M99.3 256.4h0M92.0 258.6h0M103.5 257.9h0M92.3 256.3h0M90.5 262.8h0M80.4 264.0h0M91.9 262.3h0M100.8 260.6h0M82.7 264.4h0M117.8 238.7h0M107.8 243.6h0M122.1 243.2h0M116.1 243.7h0M108.1 242.5h0M125.6 239.6h0M111.5 239.9h0M113.5 243.9h0M115.9 242.6h0M109.0 249.0h0M107.3 248.5h0M116.3 243.1h0M130.1 242.9h0M134.6 244.0h0M110.2 242.9h0M123.8 238.0h0M117.6 240.5h0M133.1 242.5h0M136.2 242.7h0M107.8 247.6h0M124.2 242.1h0M113.7 246.8h0M109.9 250.5h0M104.7 250.3h0M136.7 255.5h0M113.1 240.7h0M103.9 251.7h0M129.1 240.5h0M138.6 247.4h0M133.8 253.0h0M138.8 261.4h0M133.7 250.4h0M136.0 247.6h0M132.1 264.3h0M116.3 243.7h0M135.9 250.7h0M103.6 259.5h0M122.2 238.9h0M127.0 241.9h0M137.9 245.8h0M140.7 259.0h0M135.8 267.5h0M106.2 255.9h0M135.2 261.3h0M137.3 258.3h0M105.3 248.5h0M135.7 258.1h0M117.2 239.7h0M135.0 264.5h0M140.2 260.7h0M134.1 249.3h0M137.0 243.6h0M136.5 263.6h0M133.9 261.4h0M127.8 244.4h0M111.0 249.5h0M112.5 243.8h0M124.7 238.3h0M138.5 253.2h0M107.1 249.0h0M134.4 248.2h0M103.8 262.3h0M137.6 245.3h0M133.7 265.4h0M103.5 255.8h0M135.3 266.2h0M109.7 253.2h0M106.6 252.5h0M126.4 237.2h0M133.6 260.2h0M109.1 250.4h0M130.0 245.6h0M121.7 237.6h0M135.3 252.3h0M129.3 239.3h0M138.4 247.1h0M109.0 248.4h0M119.2 241.2h0M109.3 257.0h0M139.5 255.4h0M106.8 245.0h0M104.1 256.7h0M130.1 243.7h0M140.1 248.7h0M137.0 261.7h0M105.1 261.9h0M139.6 252.8h0M114.4 240.2h0M135.1 261.2h0M135.2 249.5h0M138.4 245.7h0M105.0 248.4h0M134.3 246.9h0M130.2 239.7h0M138.1 265.2h0M128.4 238.5h0M119.0 240.1h0M123.4 242.1h0M108.6 242.1h0M126.7 239.0h0M140.0 251.5h0M130.1 246.0h0M138.2 266.2h0M109.6 256.2h0M105.6 249.7h0M135.8 266.8h0M111.6 245.4h0M139.3 263.6h0M132.7 247.2h0M129.9 245.4h0M108.5 254.7h0M107.7 245.7h0M136.7 250.1h0M119.2 241.9h0M129.8 244.6h0M139.8 256.9h0M139.0 253.5h0M113.1 263.7h0M120.9 252.9h0M124.8 261.6h0M127.9 269.7h0M125.6 262.1h0M121.0 256.1h0M122.5 274.4h0M123.4 265.4h0M124.0 253.4h0M114.2 256.8h0M118.5 251.9h0M120.5 260.6h0M122.6 252.4h0M107.1 266.4h0M114.6 271.1h0M109.5 265.3h0M109.8 268.2h0M132.0 267.0h0M131.7 263.6h0M111.8 261.8h0M118.1 249.1h0M112.9 255.9h0M122.7 254.0h0M127.4 255.0h0M125.1 249.7h0M115.6 250.4h0M122.9 256.6h0M119.7 246.6h0M119.9 254.5h0M113.2 253.4h0M126.2 250.0h0M122.9 253.5h0M141.2 271.0h0M145.2 270.2h0M143.8 269.4h0M144.9 269.3h0M145.5 269.2h0M151.1 279.3h0M145.4 272.2h0M142.1 270.2h0M153.3 278.1h0M149.9 276.6h0M154.4 276.1h0M143.5 266.9h0" stroke="#bab4e1" stroke-width="1.6" stroke-linecap="round" fill="none" opacity="0.92"/>
<path d="M59.4 252.4h0M74.8 260.6h0M76.7 249.2h0M65.7 249.0h0M55.1 247.3h0M39.9 253.9h0M67.7 262.5h0M42.8 256.8h0M72.2 253.7h0M32.3 266.0h0M54.7 254.7h0M80.5 262.6h0M53.1 239.4h0M72.1 239.4h0M50.1 240.9h0M100.1 259.9h0M100.9 262.0h0M96.1 259.5h0M106.8 248.2h0M135.6 264.8h0M136.4 252.1h0M103.3 259.4h0M104.5 253.3h0M139.1 257.5h0M106.1 257.1h0M108.3 254.6h0M126.5 238.2h0M112.4 242.1h0M107.6 243.7h0M103.1 252.1h0M129.0 242.0h0M129.7 242.0h0M137.6 265.8h0M110.5 247.6h0M102.9 257.8h0M110.3 246.8h0M135.3 262.4h0M138.6 249.1h0M104.2 256.6h0M140.6 251.5h0M124.3 238.0h0M134.8 245.0h0M138.2 249.4h0M139.0 248.6h0M138.1 259.5h0M128.8 243.9h0M104.0 249.0h0M110.3 245.2h0M138.6 246.0h0M139.0 248.5h0M106.3 260.6h0M131.4 245.8h0M135.5 246.5h0M109.4 253.6h0M109.0 254.5h0M126.1 242.2h0M117.0 263.6h0M113.1 254.7h0M119.4 254.6h0M127.7 253.4h0M127.5 266.4h0M118.8 260.8h0M106.9 264.9h0M116.2 255.6h0M129.0 259.6h0M114.0 266.6h0M129.3 270.0h0M123.8 260.3h0M123.2 254.1h0M128.4 269.4h0M116.8 268.0h0M129.2 257.9h0M124.7 260.4h0M123.8 255.6h0M130.5 268.0h0M127.5 253.9h0M119.4 245.0h0M120.8 255.3h0M118.3 249.6h0M128.1 254.2h0M122.5 250.6h0M111.0 251.6h0M128.2 252.1h0M120.7 247.8h0M118.5 250.6h0" stroke="#d6a0d2" stroke-width="1.6" stroke-linecap="round" fill="none" opacity="0.92"/>
<path d="M83.0 258.4h0M83.6 260.4h0M84.5 260.6h0M98.2 262.4h0M98.7 261.0h0M104.3 257.0h0M86.6 259.9h0M92.5 256.5h0M90.7 256.9h0M122.7 254.5h0M131.1 268.6h0M109.5 258.0h0M129.9 263.0h0M117.8 254.5h0M132.9 265.9h0M131.6 264.5h0M129.9 269.2h0M118.8 269.8h0M124.0 253.3h0M125.5 265.4h0M129.1 255.2h0M127.4 265.0h0M63.9 298.0h0M71.0 283.6h0M65.9 281.2h0M66.2 285.1h0M66.2 290.3h0M68.1 282.7h0M68.7 289.1h0" stroke="#f3a7b1" stroke-width="1.6" stroke-linecap="round" fill="none" opacity="0.92"/>
<path d="M120.1 262.5h0M119.5 256.2h0M110.4 266.0h0M119.2 266.6h0M112.2 258.3h0M122.9 272.7h0M129.7 259.9h0M121.7 265.8h0M118.2 255.5h0" stroke="#f8c6a3" stroke-width="1.6" stroke-linecap="round" fill="none" opacity="0.92"/>
<path d="M93.6 257.3h0M87.4 259.2h0M99.8 258.0h0M87.2 256.5h0M97.6 255.7h0M92.4 342.2h0M95.6 347.0h0M95.0 347.0h0M96.6 344.1h0M93.3 340.3h0M94.1 341.8h0M93.0 342.6h0M92.6 342.7h0M91.4 345.8h0M95.4 343.3h0M95.0 344.8h0M91.8 344.3h0M95.2 344.6h0M100.3 346.9h0M99.7 347.3h0M96.2 345.6h0M97.0 344.6h0M95.3 345.2h0M97.7 344.2h0M95.6 345.5h0M98.7 346.0h0M92.5 346.7h0M91.0 341.0h0M99.7 346.6h0M93.9 345.7h0M98.1 345.2h0M96.0 345.3h0M94.3 346.3h0M100.2 346.8h0M92.9 340.5h0M100.1 347.4h0M94.1 341.5h0M94.5 343.8h0M87.9 343.8h0M91.2 344.0h0M90.4 343.0h0M90.7 345.0h0M90.1 343.3h0M94.1 343.6h0M94.9 344.4h0M100.1 347.2h0M93.7 345.4h0M89.3 342.0h0M88.6 344.0h0M93.9 344.2h0M93.1 345.3h0M93.2 340.7h0M89.5 344.6h0M94.3 346.4h0M95.8 343.2h0M97.2 344.0h0M98.1 345.3h0M92.5 340.3h0" stroke="#e3883a" stroke-width="1.6" stroke-linecap="round" fill="none" opacity="0.92"/>
<path d="M146.0 268.9h0M142.9 272.7h0" stroke="#62a2dc" stroke-width="1.6" stroke-linecap="round" fill="none" opacity="0.92"/>
<path d="M54.2 269.0h0M69.5 267.1h0M44.7 268.4h0M54.4 252.4h0M59.6 250.9h0M50.2 267.0h0M78.1 255.1h0M51.4 270.6h0M49.7 236.4h0M54.7 244.9h0M99.0 262.3h0M95.7 256.3h0M110.5 240.6h0M125.6 243.6h0M128.1 240.6h0M117.4 238.0h0M139.3 250.8h0M116.5 242.2h0M119.8 243.0h0M129.7 258.4h0M111.5 264.6h0M115.0 273.1h0M114.6 263.1h0M117.9 272.9h0M124.6 269.2h0M125.6 261.3h0M130.0 270.5h0M130.2 261.7h0M120.6 256.1h0M131.4 264.2h0M109.8 265.3h0M119.0 257.5h0M125.8 268.9h0M126.5 270.3h0M117.2 255.9h0M114.0 261.3h0M118.5 267.7h0M119.2 254.9h0M120.4 265.4h0M116.4 270.4h0M114.5 262.1h0M64.6 296.4h0M58.6 286.9h0M75.7 289.3h0M64.7 293.2h0M63.2 291.9h0M66.9 281.7h0M70.9 281.4h0M74.1 296.0h0M53.9 290.0h0M67.1 291.2h0M65.9 296.9h0M70.8 297.3h0M64.9 298.1h0M75.7 291.5h0M54.4 292.0h0M58.0 283.1h0M70.9 294.6h0M61.6 297.3h0M57.7 291.7h0M72.1 289.0h0M60.6 288.1h0M69.0 299.2h0M61.9 282.4h0M56.1 286.3h0M65.5 289.1h0M70.7 290.7h0M69.9 283.4h0M67.7 296.1h0" stroke="#d8434e" stroke-width="1.6" stroke-linecap="round" fill="none" opacity="0.92"/>
<path d="M85.5 260.8h0M98.6 255.3h0M101.0 256.4h0M92.5 256.9h0M81.7 256.9h0M87.0 259.6h0M88.3 259.2h0M83.5 263.4h0M85.2 258.6h0M95.4 255.3h0M102.6 255.2h0M94.4 261.3h0M139.7 251.3h0M120.6 243.3h0M129.6 241.2h0M134.6 250.4h0M137.8 262.1h0M125.8 237.7h0M137.9 249.7h0M132.3 263.7h0M117.0 253.8h0M113.4 257.3h0M109.8 268.3h0M117.7 262.3h0M134.1 265.1h0M115.7 268.3h0M133.0 264.2h0M129.2 272.6h0M114.6 257.5h0M125.0 261.2h0M119.1 261.3h0M127.5 255.2h0M127.5 267.2h0M113.8 255.0h0M128.2 259.6h0M132.5 258.7h0M118.5 258.3h0M116.5 263.2h0M118.3 269.7h0M127.2 259.2h0M118.6 266.3h0M126.5 268.2h0M115.6 260.8h0M113.0 267.5h0M126.0 260.1h0M126.5 255.4h0M121.1 264.0h0M107.9 261.1h0M131.4 267.0h0M110.2 260.6h0M123.2 273.3h0M130.2 260.1h0M107.8 259.8h0M112.9 259.2h0M113.6 256.8h0M115.8 255.0h0M134.2 262.5h0M131.8 266.7h0M120.6 260.8h0M125.4 264.9h0M118.4 264.9h0M112.9 255.2h0M132.3 265.0h0M108.8 260.0h0M107.4 263.4h0M130.1 265.2h0M134.4 258.5h0M125.4 253.0h0M125.6 255.9h0M126.3 247.8h0M64.4 297.6h0M63.2 289.1h0M60.5 293.3h0M72.0 293.0h0M65.9 288.2h0M56.4 294.8h0M58.2 287.5h0M68.9 281.2h0M56.3 294.3h0M58.4 289.0h0M62.9 295.6h0M65.6 295.9h0M59.0 290.4h0" stroke="#c8124f" stroke-width="1.6" stroke-linecap="round" fill="none" opacity="0.92"/>
<path d="M91.8 344.4h0M93.0 342.8h0" stroke="#9a6a50" stroke-width="1.6" stroke-linecap="round" fill="none" opacity="0.92"/>
<path d="M232.9 260.4h0M229.3 261.8h0M234.9 257.2h0M235.5 295.4h0M235.3 297.0h0M237.4 295.9h0M237.1 302.7h0M233.4 301.1h0M237.6 301.5h0M233.0 295.9h0M236.0 301.6h0" stroke="#ebedae" stroke-width="1.6" stroke-linecap="round" fill="none" opacity="0.92"/>
<path d="M200.8 250.9h0M178.1 255.8h0M189.7 254.9h0M189.0 256.7h0M190.4 251.1h0M196.0 255.5h0M183.0 255.1h0M182.1 270.3h0M188.3 250.1h0M201.1 263.2h0M183.2 246.6h0M200.0 264.8h0M178.7 261.5h0M186.5 267.5h0M180.5 254.4h0M205.8 250.5h0M181.0 246.1h0M182.9 267.8h0M182.7 250.8h0M203.3 267.8h0M176.2 260.5h0M176.9 249.2h0M205.3 248.1h0M197.9 252.4h0M195.7 248.8h0M176.8 256.9h0M202.9 261.7h0M184.9 248.1h0M193.0 262.7h0M240.8 258.2h0M221.4 262.5h0M222.9 261.6h0M227.8 257.8h0M215.5 261.9h0M253.7 241.4h0M273.7 244.1h0M273.9 242.7h0M280.4 248.0h0M251.6 241.0h0M277.7 257.1h0M279.4 257.9h0M245.6 252.0h0M263.9 235.8h0M258.5 240.8h0M256.0 243.5h0M247.7 258.0h0M259.9 239.0h0M278.5 255.4h0M256.1 236.5h0M276.5 250.9h0M277.4 256.1h0M247.3 246.5h0M247.0 261.1h0M277.4 247.4h0M246.6 252.1h0M253.3 239.2h0M250.8 243.9h0M279.7 250.7h0M256.1 242.5h0M249.3 249.1h0M247.4 246.0h0M272.5 238.7h0M259.3 237.7h0M263.2 237.7h0M245.2 246.9h0M259.8 241.0h0M258.9 238.7h0M271.0 237.8h0M265.8 236.1h0M253.6 244.1h0M276.0 249.7h0M271.6 244.9h0M255.5 241.5h0M247.9 242.6h0M260.5 241.1h0M271.9 237.6h0M247.5 256.4h0M270.0 241.7h0M250.5 246.2h0M277.9 255.7h0M249.5 242.9h0M258.7 241.9h0M279.0 249.7h0M249.9 243.5h0M246.7 262.3h0M266.7 236.6h0M261.6 235.9h0M264.0 237.2h0M252.9 242.3h0M245.4 252.6h0M264.0 237.0h0M260.2 237.0h0M275.3 242.8h0M246.4 254.4h0M243.0 257.5h0M276.8 253.5h0M268.4 241.2h0M277.6 244.7h0M274.4 248.0h0M276.9 254.3h0M251.6 244.3h0M272.6 238.2h0M255.8 242.1h0M243.3 259.7h0M276.7 241.6h0M244.6 249.1h0M275.7 250.6h0M278.0 243.0h0M275.2 240.9h0M274.4 242.4h0M262.7 238.5h0M258.1 241.5h0M243.2 258.3h0M249.0 255.4h0M260.8 240.4h0M254.4 243.4h0M276.5 245.6h0M271.8 243.9h0M268.9 238.5h0M246.4 257.0h0M279.0 246.2h0M278.9 245.9h0M245.8 248.8h0M276.3 260.0h0M259.0 241.8h0M274.4 259.9h0M258.8 266.3h0M263.3 259.0h0M261.5 266.5h0M277.0 264.8h0M269.9 263.6h0M286.3 272.7h0M293.7 283.1h0M292.9 279.8h0M280.3 272.5h0M286.2 275.6h0M288.8 277.6h0M295.4 280.8h0M295.2 283.0h0M280.6 272.0h0M281.5 273.2h0M209.0 286.4h0M206.7 286.7h0M205.1 287.0h0" stroke="#bab4e1" stroke-width="1.6" stroke-linecap="round" fill="none" opacity="0.92"/>
<path d="M250.1 250.2h0M278.1 252.6h0M263.4 236.7h0M277.3 251.4h0M277.7 251.4h0M249.2 256.7h0M249.0 253.0h0M279.5 260.0h0M251.6 241.0h0M249.1 244.3h0M275.8 242.4h0M246.9 250.4h0M245.7 249.6h0M274.6 266.6h0M257.4 261.6h0M271.6 257.6h0M270.4 261.6h0M267.7 270.3h0" stroke="#d6a0d2" stroke-width="1.6" stroke-linecap="round" fill="none" opacity="0.92"/>
<path d="M229.9 344.5h0M232.8 346.3h0M238.2 346.5h0M232.3 341.6h0M231.6 341.3h0" stroke="#e3883a" stroke-width="1.6" stroke-linecap="round" fill="none" opacity="0.92"/>
<path d="M198.1 251.2h0M207.7 260.9h0M196.5 271.9h0M181.9 259.4h0M288.2 279.0h0M293.5 279.0h0" stroke="#62a2dc" stroke-width="1.6" stroke-linecap="round" fill="none" opacity="0.92"/>
<path d="M271.9 273.6h0M265.9 272.7h0M256.1 270.9h0M263.5 271.8h0M275.3 268.1h0M262.2 261.6h0M278.1 261.2h0M269.4 268.8h0M253.6 266.4h0M263.4 258.5h0M261.3 272.1h0M266.3 266.5h0M267.4 260.6h0M264.7 261.8h0M263.2 260.4h0M272.7 270.5h0M265.5 269.5h0" stroke="#d8434e" stroke-width="1.6" stroke-linecap="round" fill="none" opacity="0.92"/>
<path d="M274.9 247.3h0M252.0 241.5h0M273.1 244.7h0M275.2 250.0h0M258.8 240.6h0M243.6 261.9h0M262.9 268.8h0M258.5 271.1h0M268.6 255.1h0M262.0 270.9h0M257.6 263.9h0M265.5 257.6h0M261.0 269.5h0M267.3 264.7h0M261.5 269.2h0M263.4 263.2h0M255.1 265.1h0M260.5 268.9h0M261.2 267.4h0M274.2 266.0h0M273.5 258.5h0M258.2 263.5h0M272.6 260.0h0M264.8 257.9h0M276.1 265.8h0M276.0 263.9h0M256.5 271.6h0M264.2 265.1h0M271.3 261.6h0M265.3 266.4h0M258.7 270.5h0M272.5 268.6h0M257.7 262.6h0M272.7 269.6h0M265.0 265.9h0M260.4 268.5h0M268.5 256.4h0M267.6 271.6h0M267.4 268.4h0M255.9 262.7h0M266.1 269.7h0M271.5 263.3h0M255.8 272.2h0M270.1 261.3h0M257.8 259.7h0M271.0 265.5h0M270.3 268.9h0M260.5 257.1h0M200.6 292.1h0" stroke="#c8124f" stroke-width="1.6" stroke-linecap="round" fill="none" opacity="0.92"/>
<path d="M192.4 271.9h0M197.1 249.8h0M183.2 270.3h0M183.5 259.7h0M175.1 259.0h0M175.7 261.2h0M183.1 256.3h0M190.8 259.1h0M194.0 261.4h0M213.2 261.4h0M220.4 257.5h0M225.2 260.9h0M212.6 261.4h0" stroke="#b8bcc8" stroke-width="1.6" stroke-linecap="round" fill="none" opacity="0.92"/>
<path d="M356.9 257.5h0M359.6 250.8h0M319.2 249.1h0M318.0 250.1h0M323.1 270.6h0M361.1 262.7h0M335.8 270.2h0M328.5 245.4h0M325.9 271.7h0M343.7 244.8h0M328.9 270.4h0M324.0 252.4h0M319.1 246.5h0M362.6 263.7h0M345.0 268.5h0M367.2 255.1h0M348.5 257.1h0M352.1 253.0h0M335.7 256.5h0M324.4 268.9h0M340.2 257.5h0M335.1 259.5h0M332.6 268.3h0M353.7 249.8h0M318.0 262.6h0M321.9 262.2h0M332.3 248.2h0M338.7 246.8h0M318.5 254.3h0M337.2 242.4h0M338.0 257.6h0M326.9 253.9h0M319.5 257.3h0M358.8 255.6h0M367.2 253.1h0M348.4 239.8h0M337.6 248.4h0M354.5 264.0h0M350.8 274.2h0M350.8 247.2h0M338.6 250.7h0M338.3 273.6h0M338.1 258.9h0M351.4 272.9h0M338.6 238.3h0M328.6 243.1h0M322.9 245.0h0M363.8 249.7h0M324.9 256.7h0M329.2 252.0h0M332.5 248.2h0M359.3 268.4h0M354.6 242.5h0M359.4 269.9h0M332.6 272.7h0M328.8 267.0h0M339.2 245.9h0M352.7 261.4h0M346.7 257.4h0M334.8 243.3h0M335.0 243.1h0M333.6 257.3h0M345.8 266.2h0M326.9 266.9h0M349.7 247.4h0M348.0 255.1h0M340.5 247.9h0M351.7 238.2h0M352.4 249.4h0M349.9 253.3h0M350.6 271.1h0M344.5 262.1h0M338.5 244.6h0M348.2 244.5h0M342.5 262.7h0M318.1 256.5h0M346.0 250.7h0M344.9 254.4h0M344.9 275.9h0M332.7 238.3h0M347.2 268.7h0M330.0 252.5h0M339.8 270.1h0M341.0 246.3h0M335.0 242.9h0M367.4 263.4h0M326.8 253.0h0M346.0 247.1h0M339.0 251.6h0M322.6 254.3h0M319.4 254.9h0M347.1 268.7h0M345.4 241.5h0M353.3 261.8h0M320.5 248.6h0M349.3 259.2h0M320.2 260.7h0M328.8 258.5h0M340.4 277.4h0M346.2 258.5h0M360.5 261.8h0M325.1 243.1h0M333.9 269.8h0M353.4 253.0h0M330.8 268.4h0M343.1 251.1h0M359.1 258.1h0M355.2 261.2h0M321.6 266.1h0M349.3 240.8h0M344.5 270.1h0M331.7 241.4h0M359.5 266.9h0M359.2 264.5h0M330.1 240.3h0M353.0 254.8h0M343.7 245.6h0M327.9 268.0h0M340.8 273.8h0M339.9 259.9h0M362.5 249.9h0M337.3 251.3h0M322.1 260.8h0M354.6 273.7h0M330.5 272.4h0M355.6 270.5h0M343.8 248.3h0M364.6 259.8h0M351.9 259.1h0M340.9 247.6h0M327.1 264.7h0M346.8 247.6h0M359.7 243.0h0M323.3 255.0h0M347.9 269.5h0M356.9 245.7h0M325.8 252.6h0M343.3 273.6h0M327.2 274.8h0M363.7 256.9h0M338.4 250.6h0M329.9 264.2h0M313.2 255.0h0M350.2 261.6h0M358.1 249.4h0M344.4 243.9h0M332.3 268.3h0M349.0 250.8h0M345.7 256.2h0M360.2 259.2h0M333.1 266.3h0M335.9 267.6h0M315.5 257.2h0M345.8 253.1h0M333.6 243.7h0M354.8 260.6h0M347.6 241.8h0M355.2 240.6h0M317.2 264.5h0M336.0 253.2h0M339.2 253.8h0M324.4 271.7h0M335.6 257.3h0M326.5 270.1h0M339.2 238.1h0M346.8 260.2h0M332.5 269.4h0M338.3 237.8h0M366.7 253.7h0M343.1 252.7h0M338.4 261.2h0M334.8 243.6h0M346.0 262.1h0M325.8 267.7h0M357.1 262.2h0M336.0 260.9h0M357.8 245.9h0M319.3 258.5h0M337.7 248.3h0M347.0 260.5h0M335.8 262.9h0M319.5 256.1h0M324.9 258.9h0M350.1 252.7h0M346.9 260.0h0M337.0 255.3h0M352.8 265.1h0M325.2 248.2h0M322.8 249.4h0M318.4 248.3h0M335.7 262.9h0M356.7 257.9h0M356.9 247.9h0M321.5 250.8h0M324.1 272.5h0M354.2 243.7h0M331.8 263.0h0M329.5 257.4h0M356.6 270.3h0M317.9 253.3h0M359.6 257.4h0M356.8 246.5h0M314.5 258.0h0M329.3 242.7h0M338.2 246.0h0M344.2 259.2h0M359.1 256.3h0M318.7 264.9h0M327.9 255.8h0M355.6 270.5h0M363.1 267.1h0M323.1 257.4h0M359.6 247.4h0M337.6 263.8h0M367.9 256.5h0M347.0 269.1h0M341.7 261.5h0M357.1 255.6h0M319.4 259.2h0M330.2 269.5h0M333.6 270.9h0M346.0 241.0h0M348.7 257.4h0M356.0 256.5h0M338.6 268.6h0M332.2 238.4h0M325.5 240.6h0M361.4 252.9h0M353.9 241.7h0M333.6 270.8h0M323.6 244.0h0M349.8 275.3h0M347.2 254.4h0M336.3 270.3h0M336.5 273.0h0M319.4 258.5h0M343.0 260.1h0M320.2 247.6h0M360.7 262.6h0M322.4 246.5h0M359.6 249.9h0M348.2 275.2h0M346.2 267.4h0M340.7 265.8h0M364.1 264.1h0M323.1 247.5h0M330.3 239.5h0M339.0 254.6h0M326.9 271.7h0M314.1 251.1h0M351.3 262.0h0M322.8 256.4h0M327.8 253.0h0M353.4 247.1h0M328.6 261.4h0M341.6 244.0h0M344.1 248.2h0M349.8 270.2h0M356.1 258.5h0M332.8 275.6h0M342.3 254.5h0M345.1 273.9h0M325.0 253.6h0M335.5 265.8h0M342.7 264.0h0M318.2 249.7h0M344.8 261.4h0M313.3 254.3h0M346.2 259.1h0M360.9 260.1h0M348.8 271.0h0M353.9 275.1h0M344.6 262.5h0M343.4 275.5h0M318.0 251.0h0M362.9 261.3h0M347.7 248.5h0M366.9 258.7h0M335.8 257.9h0M323.7 259.6h0M354.2 275.0h0M318.6 261.3h0M354.1 269.0h0M348.6 262.4h0M325.4 255.9h0M324.9 268.6h0M360.4 267.7h0M341.0 267.7h0M325.3 246.3h0M355.2 251.5h0M344.6 272.2h0M337.5 254.1h0M329.9 243.6h0M345.7 268.7h0M361.5 264.5h0M325.7 266.1h0M348.4 273.0h0M344.6 273.1h0M323.0 257.5h0M360.3 258.8h0M357.8 263.1h0M336.7 247.8h0M324.3 267.3h0M332.2 270.0h0M332.5 253.6h0M338.6 252.8h0M326.1 255.5h0M323.3 251.2h0M360.7 269.4h0M340.5 254.9h0M332.3 258.5h0M339.8 238.8h0M339.1 267.6h0M343.1 255.4h0M349.9 241.8h0M329.7 267.3h0M347.6 253.5h0M343.6 256.2h0M326.6 267.8h0M357.9 269.7h0M335.8 254.5h0M319.0 261.5h0M353.8 258.3h0M351.7 273.0h0M319.3 248.2h0M329.7 239.5h0M329.1 252.9h0M326.5 250.1h0M324.9 241.3h0M364.1 249.9h0M331.6 247.3h0M340.8 273.9h0M329.9 267.5h0M353.7 264.2h0M333.3 268.7h0M346.5 251.6h0M326.0 247.3h0M326.1 243.6h0M341.1 271.5h0M319.0 262.8h0M338.4 255.6h0M318.7 255.1h0M343.7 250.6h0M322.7 266.8h0M336.2 248.7h0M353.9 250.2h0M354.1 257.4h0M328.3 251.3h0M339.7 265.2h0M351.2 271.6h0M345.2 275.2h0M313.5 261.0h0M319.8 266.3h0M360.3 260.8h0M350.0 258.5h0M323.0 254.1h0M340.1 246.6h0M348.2 258.2h0M355.1 251.3h0M332.7 276.4h0M321.2 261.1h0M333.4 246.7h0M344.6 270.5h0M358.9 255.7h0M338.1 275.6h0M335.1 262.2h0M340.7 253.8h0M355.9 263.0h0M321.4 255.2h0M325.5 245.9h0M333.4 243.4h0M331.8 271.3h0M349.5 259.6h0M345.8 249.5h0M353.3 262.6h0M344.7 237.6h0M360.4 262.2h0M330.4 255.2h0M344.2 245.4h0M360.2 264.8h0M342.5 259.8h0M325.8 246.4h0M334.8 275.7h0M338.7 257.9h0M347.5 240.6h0M336.1 271.4h0M348.2 269.1h0M332.6 275.1h0M328.1 265.5h0M333.0 257.3h0M355.2 255.2h0M331.8 249.2h0M340.0 255.8h0M318.2 266.8h0M337.1 247.0h0M357.3 246.0h0M348.5 251.7h0M339.9 258.9h0M357.8 265.9h0M337.6 265.3h0M326.3 242.6h0M339.9 265.2h0M359.2 245.3h0M355.2 245.8h0M345.5 271.8h0M348.8 260.7h0M342.9 251.5h0M350.4 275.3h0M360.6 252.8h0M328.7 239.7h0M346.9 270.2h0M338.0 251.0h0M326.6 268.1h0M345.4 240.5h0M337.8 276.4h0M332.3 259.5h0M346.1 277.3h0M329.5 244.9h0M325.0 261.7h0M355.5 263.2h0M347.2 246.2h0M320.8 247.9h0M347.2 246.0h0M345.4 267.9h0M337.2 247.7h0M356.2 270.3h0M345.5 268.8h0M358.6 252.7h0M353.4 242.0h0M352.0 251.6h0M335.2 273.7h0M327.0 267.4h0M359.2 249.2h0M348.5 241.3h0M325.7 244.7h0M330.5 245.6h0M331.9 266.3h0M338.5 263.3h0M316.4 253.6h0M322.2 257.9h0M329.8 276.3h0M341.5 259.4h0M354.2 262.3h0M331.5 260.6h0M342.8 270.7h0M328.1 248.0h0M346.0 249.2h0M331.0 254.6h0M341.8 265.0h0M340.7 269.7h0M349.3 265.0h0M345.3 266.1h0M336.5 253.8h0M327.2 244.7h0M352.9 259.0h0M341.2 252.2h0M326.8 259.6h0M329.0 262.7h0M332.5 242.3h0M338.0 253.7h0M325.9 253.7h0M333.2 256.0h0M318.5 245.4h0M350.0 243.4h0M347.5 265.2h0M340.3 274.2h0M363.6 253.2h0M342.1 261.1h0M346.6 252.5h0M344.1 261.8h0M345.5 272.2h0M334.3 251.1h0M349.5 258.0h0M325.9 245.4h0M327.9 261.1h0M324.6 264.6h0M350.0 266.1h0M325.5 274.0h0M333.4 266.7h0M339.5 265.8h0M323.8 267.8h0M337.0 254.7h0M328.9 254.8h0M331.4 274.5h0M321.5 261.1h0M338.9 261.0h0M337.2 270.1h0M343.6 259.6h0M320.6 264.3h0M337.6 263.8h0M347.4 261.8h0M343.4 272.4h0M326.1 255.3h0M344.8 269.7h0M331.0 254.3h0M347.2 269.0h0M324.1 260.0h0M330.4 269.2h0M323.2 259.5h0M323.6 261.1h0M325.7 273.3h0M325.5 269.0h0M322.0 256.8h0M338.9 274.4h0M333.2 264.0h0M322.3 267.2h0M347.3 269.6h0M329.5 266.8h0M328.3 269.4h0M346.4 258.3h0M323.7 254.4h0M334.4 265.8h0M334.4 272.5h0M345.5 259.0h0M318.8 264.3h0M334.6 268.8h0M338.0 265.6h0M320.0 264.8h0M325.9 261.9h0M330.7 270.5h0M318.7 267.2h0M321.4 269.4h0M325.2 269.9h0M340.0 256.1h0M337.6 260.9h0M326.9 263.3h0M332.5 254.8h0M342.9 264.1h0M342.7 258.2h0M336.4 260.4h0M323.9 264.6h0M338.4 264.2h0M328.3 258.4h0M343.2 267.1h0M335.7 268.1h0M339.5 258.7h0M331.5 265.2h0M335.9 258.5h0M335.1 261.2h0M329.2 275.5h0M335.9 266.6h0M342.4 262.6h0M344.3 268.2h0M338.6 274.6h0M338.2 257.7h0M322.3 258.8h0M329.9 273.9h0M344.7 266.1h0M321.2 262.7h0M338.9 269.0h0M330.2 266.3h0M321.8 264.8h0M325.9 267.7h0M347.3 267.7h0M326.8 254.2h0M326.1 272.5h0M337.9 256.8h0M340.4 262.1h0M326.2 256.4h0M338.9 268.4h0M332.7 261.0h0M341.2 263.2h0M327.8 263.4h0M328.4 258.2h0M321.5 263.3h0M335.2 260.3h0M333.4 267.1h0M330.2 259.4h0M332.9 271.0h0M330.7 254.6h0M326.5 263.2h0M323.0 266.8h0M334.8 274.4h0M333.4 267.4h0M335.3 258.1h0M329.7 266.9h0M336.3 269.1h0M337.9 261.9h0M338.4 260.8h0M335.0 273.3h0M331.0 265.3h0M341.8 265.4h0M338.0 267.5h0M347.7 267.0h0M319.3 262.5h0M339.2 258.2h0M341.0 254.6h0M322.4 260.4h0M326.1 257.8h0M322.6 265.1h0M329.4 268.8h0M329.2 259.7h0M344.3 258.2h0M339.7 261.5h0M323.9 259.5h0M336.3 266.6h0M322.7 270.8h0M344.8 263.5h0M344.4 261.7h0M320.8 268.3h0M323.6 266.3h0M342.8 273.5h0M338.9 274.5h0M321.8 269.4h0M321.1 270.5h0M334.2 253.5h0M342.7 264.9h0M322.8 260.1h0M339.4 272.4h0M331.4 258.1h0M322.5 268.3h0M324.2 263.2h0M337.1 266.2h0M334.7 265.3h0M332.2 264.8h0M322.8 262.1h0M329.3 274.0h0M325.8 266.0h0M338.9 262.0h0M318.8 269.3h0M327.5 264.0h0M325.9 272.3h0M343.5 257.0h0M340.4 256.1h0M329.1 273.6h0M327.1 272.4h0M322.2 269.8h0M336.9 261.0h0M348.7 265.8h0M320.8 265.5h0M345.7 269.3h0M332.7 270.1h0M335.2 269.4h0M326.8 259.1h0M329.9 272.6h0M325.7 262.4h0M343.4 269.1h0M332.7 253.2h0M323.1 263.9h0M339.8 268.5h0M339.1 264.0h0M337.5 272.1h0M325.2 269.8h0M335.9 263.2h0M323.3 259.7h0M325.4 270.5h0M341.4 255.2h0M333.1 260.8h0M347.0 262.0h0M341.9 270.3h0M345.7 260.5h0M334.8 268.6h0M318.2 262.9h0M346.4 263.9h0M336.1 274.6h0M332.6 269.2h0M335.0 255.0h0M336.8 266.1h0M340.6 255.8h0M340.9 268.2h0M327.8 269.8h0M330.4 254.4h0M324.9 262.7h0M331.9 260.6h0M326.9 274.2h0M324.7 273.5h0M326.0 264.4h0M332.7 266.4h0M332.7 255.6h0M344.5 267.0h0M331.9 270.1h0M329.3 268.3h0M317.0 265.8h0M341.1 264.1h0M331.4 262.9h0M319.0 267.5h0M339.9 271.0h0M344.5 257.1h0M339.3 259.2h0M338.4 271.3h0M339.1 259.8h0M328.9 261.8h0M338.6 268.6h0M340.1 269.5h0M321.1 270.7h0M321.1 270.9h0M320.7 256.0h0M342.8 264.5h0M331.8 267.1h0M346.4 268.3h0M336.5 262.8h0M321.4 257.7h0M337.4 272.2h0M346.7 262.3h0M332.7 241.3h0M336.3 234.0h0M350.9 241.7h0M335.2 240.9h0M337.9 232.8h0M345.3 239.7h0M332.5 234.9h0M338.8 239.4h0M335.2 237.3h0M327.6 237.8h0M346.0 276.1h0M349.4 274.9h0M348.9 279.4h0M335.9 276.2h0M339.6 280.2h0M339.8 279.8h0M334.0 277.6h0M351.1 277.3h0M336.3 278.1h0M348.7 274.2h0M347.5 276.0h0M353.9 280.0h0M345.2 276.7h0M354.2 277.2h0M336.9 276.3h0M356.0 277.9h0M340.0 277.5h0M336.8 280.1h0" stroke="#9fd0d2" stroke-width="1.6" stroke-linecap="round" fill="none" opacity="0.92"/>
<path d="M316.8 248.2h0M338.6 274.8h0M339.8 236.5h0M356.2 255.1h0M362.8 254.6h0M353.3 244.4h0M346.6 240.0h0M343.0 251.9h0M349.6 267.4h0M319.9 267.9h0M331.1 241.3h0M323.5 244.8h0M332.3 243.5h0M345.5 259.5h0M339.0 293.9h0M343.7 284.3h0M355.2 294.5h0M353.7 293.5h0M344.1 295.0h0M378.5 304.6h0M382.7 298.7h0M377.8 305.0h0M381.3 304.7h0M381.3 304.8h0" stroke="#a9d9aa" stroke-width="1.6" stroke-linecap="round" fill="none" opacity="0.92"/>
<path d="M347.3 279.2h0M353.0 281.5h0M338.0 279.9h0M371.4 258.8h0M367.4 258.8h0M368.6 259.6h0M368.1 258.0h0M382.9 253.7h0M380.9 254.2h0M378.3 254.4h0M381.5 260.8h0M343.2 286.4h0M353.6 296.4h0M343.4 292.3h0M371.6 300.2h0M377.4 299.0h0M376.0 301.4h0M377.6 295.8h0M377.8 304.3h0M380.4 302.2h0M382.7 295.6h0M378.9 298.1h0M376.2 299.1h0M376.4 289.3h0M375.7 292.1h0M381.8 303.7h0M378.7 299.9h0M382.3 294.4h0M376.4 300.0h0M381.0 299.6h0M379.1 297.0h0M372.6 301.8h0M373.1 304.0h0M378.5 298.5h0M376.4 305.7h0M380.2 303.9h0M379.6 292.3h0M373.5 293.7h0M377.6 301.6h0M379.3 295.1h0M383.2 301.8h0M377.7 292.2h0M375.1 297.2h0M381.1 296.5h0M377.7 296.2h0M379.5 304.5h0M373.8 299.4h0M373.8 297.7h0M379.8 299.5h0" stroke="#ebedae" stroke-width="1.6" stroke-linecap="round" fill="none" opacity="0.92"/>
<path d="M337.3 256.3h0M349.3 242.9h0M342.9 255.5h0M343.1 269.8h0M332.2 249.5h0M346.9 263.1h0M333.8 250.5h0M342.7 271.9h0M348.3 270.9h0M349.9 276.5h0M344.5 262.3h0M357.3 262.8h0M338.8 258.6h0M345.5 274.5h0M321.7 247.6h0M339.9 269.0h0M354.5 235.7h0M348.0 280.0h0M344.3 275.9h0M335.5 277.4h0M335.9 278.1h0M364.4 256.5h0M377.6 256.5h0M365.0 257.5h0M381.4 260.7h0M375.3 255.1h0M372.5 254.6h0M379.2 254.7h0M379.7 259.3h0M374.1 254.1h0M367.7 257.4h0M416.8 264.6h0M419.9 258.7h0M398.2 239.5h0M405.8 244.1h0M410.2 241.6h0M394.7 244.0h0M400.6 237.4h0M416.8 260.9h0M390.9 248.6h0M412.6 241.0h0M407.1 239.5h0M422.4 261.4h0M417.4 247.4h0M420.8 265.0h0M404.9 240.7h0M408.9 237.1h0M409.2 243.2h0M391.4 253.1h0M394.5 241.8h0M401.1 239.0h0M418.9 267.4h0M415.3 243.8h0M405.0 239.5h0M419.6 265.9h0M418.6 265.4h0M415.3 251.2h0M416.2 245.1h0M410.0 243.5h0M409.6 240.6h0M418.7 242.9h0M418.5 255.3h0M422.5 251.9h0M409.0 244.3h0M422.8 250.6h0M422.5 261.9h0M406.0 240.1h0M390.6 246.6h0M419.0 247.3h0M400.7 243.9h0M391.0 257.2h0M417.7 247.2h0M394.2 243.4h0M422.2 261.8h0M418.7 252.0h0M416.4 249.2h0M416.5 264.7h0M417.6 247.8h0M412.4 242.8h0M421.6 262.2h0M397.5 239.1h0M388.0 257.5h0M389.9 254.9h0M401.7 240.8h0M412.7 242.4h0M417.0 266.6h0M411.0 239.0h0M414.7 243.5h0M418.6 258.3h0M404.0 242.1h0M419.3 244.2h0M421.7 258.7h0M396.3 245.4h0M399.1 238.2h0M405.4 237.9h0M417.2 242.3h0M417.0 261.7h0M387.0 260.4h0M388.9 259.8h0M390.6 244.9h0M400.0 238.2h0M387.8 247.9h0M392.6 244.0h0M389.2 260.4h0M416.8 256.8h0M395.4 244.6h0M417.7 256.5h0M403.0 243.2h0M400.1 241.1h0M387.6 255.5h0M405.1 242.3h0M396.8 238.8h0M403.3 242.5h0M416.0 245.4h0M391.1 246.5h0M399.7 242.2h0M416.8 251.8h0M420.6 251.4h0M412.4 243.7h0M393.9 244.6h0M415.4 250.0h0M396.7 244.7h0M412.4 240.2h0M422.9 251.7h0M401.7 240.3h0M407.0 238.9h0M410.2 243.5h0M406.9 237.0h0M414.4 243.1h0M396.0 242.5h0M384.9 257.3h0M417.3 261.0h0M416.3 258.4h0M405.8 238.9h0M417.2 250.1h0M419.0 262.7h0M394.9 256.9h0M415.2 268.0h0M408.7 261.3h0M399.9 266.6h0M407.4 262.5h0M400.9 273.4h0M410.8 266.2h0M416.1 263.0h0M401.0 255.8h0M397.9 264.5h0M400.4 257.0h0M394.0 266.2h0M400.1 257.8h0M399.7 271.4h0M404.8 255.8h0M403.9 273.9h0M394.4 255.1h0M414.2 258.4h0M406.2 252.7h0M404.8 266.4h0M404.2 254.6h0M405.0 258.4h0M407.3 251.2h0M396.7 250.5h0M401.5 255.0h0M407.5 253.8h0M398.4 249.4h0M398.5 255.3h0M410.7 249.8h0M398.5 249.3h0M403.0 250.2h0M402.5 253.9h0M397.7 249.2h0M434.8 274.3h0M429.9 272.6h0M429.9 272.8h0M440.7 278.7h0M438.6 279.5h0M432.7 271.6h0M435.9 279.4h0" stroke="#bab4e1" stroke-width="1.6" stroke-linecap="round" fill="none" opacity="0.92"/>
<path d="M342.2 257.7h0M351.6 244.5h0M346.2 252.0h0M359.8 268.8h0M344.7 272.1h0M360.4 264.6h0M360.4 261.4h0M358.5 253.0h0M328.6 272.8h0M344.1 252.5h0M354.2 239.8h0M340.9 240.6h0M339.9 234.8h0M334.6 239.3h0M336.9 237.3h0M335.1 238.4h0M386.3 258.9h0M380.2 260.4h0M370.9 255.5h0M364.9 255.4h0M373.1 255.2h0M375.5 257.2h0M386.5 259.9h0M389.2 259.7h0M385.5 253.9h0M388.1 246.2h0M409.8 238.3h0M393.6 246.1h0M387.9 252.2h0M411.4 239.3h0M398.4 243.0h0M391.7 246.5h0M407.5 240.9h0M393.7 244.5h0M409.9 241.4h0M387.6 261.4h0M422.0 261.9h0M401.2 236.8h0M392.2 255.7h0M418.8 248.6h0M414.9 244.7h0M415.8 250.8h0M388.0 258.5h0M423.1 259.7h0M402.6 240.5h0M416.1 259.4h0M402.1 241.1h0M397.9 258.8h0M403.5 247.7h0M407.4 253.2h0" stroke="#d6a0d2" stroke-width="1.6" stroke-linecap="round" fill="none" opacity="0.92"/>
<path d="M382.6 259.0h0M384.5 254.1h0M381.3 259.1h0M375.7 261.7h0M372.6 258.4h0M371.9 258.5h0M386.7 253.8h0M372.4 259.1h0M410.8 262.3h0M406.5 269.7h0M396.4 259.2h0M396.0 260.4h0M396.7 262.6h0M406.4 267.0h0M416.1 267.7h0M339.4 291.6h0M341.8 294.6h0M342.2 288.2h0M341.8 280.5h0M350.3 298.2h0" stroke="#f3a7b1" stroke-width="1.6" stroke-linecap="round" fill="none" opacity="0.92"/>
<path d="M404.1 271.3h0M399.3 264.3h0M404.6 271.9h0M404.3 257.0h0M388.2 263.2h0M408.1 272.5h0M399.2 270.8h0M390.8 263.5h0M410.3 263.0h0" stroke="#f8c6a3" stroke-width="1.6" stroke-linecap="round" fill="none" opacity="0.92"/>
<path d="M371.7 262.3h0M380.8 261.2h0M386.7 255.7h0M386.1 260.9h0M342.1 285.5h0M337.9 287.7h0M351.5 284.5h0M373.0 345.3h0M382.7 345.8h0M375.5 346.3h0M378.0 341.9h0M378.4 346.4h0M378.8 344.8h0M374.1 341.1h0M372.9 344.6h0M381.0 346.8h0M380.4 344.6h0M376.7 343.4h0M373.4 345.4h0M378.0 342.3h0M372.6 344.0h0M379.6 345.8h0M377.6 346.0h0M379.3 345.2h0M381.1 347.0h0M377.8 344.3h0M377.7 346.2h0M376.7 345.0h0M377.7 342.5h0M377.9 346.2h0M373.2 343.1h0M374.6 341.6h0M376.0 347.2h0M372.1 341.9h0M374.6 343.6h0M374.0 343.0h0M374.3 341.1h0M379.9 345.8h0M382.3 345.9h0M376.2 340.6h0M374.9 339.0h0M376.2 345.2h0M377.3 341.5h0M375.5 346.4h0M377.3 341.3h0M373.7 343.1h0M376.7 343.5h0M375.8 346.2h0M379.1 345.6h0M377.6 341.5h0M378.0 346.1h0M374.9 343.8h0M376.0 342.7h0" stroke="#e3883a" stroke-width="1.6" stroke-linecap="round" fill="none" opacity="0.92"/>
<path d="M435.6 279.3h0M433.3 272.1h0M436.4 279.7h0" stroke="#62a2dc" stroke-width="1.6" stroke-linecap="round" fill="none" opacity="0.92"/>
<path d="M353.4 267.2h0M336.9 238.2h0M318.2 263.3h0M321.0 262.8h0M342.3 270.6h0M354.1 249.2h0M352.8 234.5h0M348.1 237.8h0M343.4 239.4h0M364.8 261.3h0M371.5 258.4h0M383.3 259.3h0M380.0 260.4h0M372.9 258.4h0M380.4 259.8h0M369.1 254.7h0M367.5 262.0h0M369.4 262.0h0M421.3 247.5h0M387.3 254.1h0M403.8 243.2h0M387.2 260.8h0M395.2 243.8h0M393.1 257.6h0M404.0 258.0h0M399.9 258.9h0M405.7 272.1h0M403.3 274.2h0M412.8 262.7h0M407.2 262.2h0M410.3 253.8h0M408.5 270.4h0M410.4 260.2h0M405.5 269.5h0M407.9 269.3h0M399.4 256.2h0M394.2 259.2h0M408.9 258.5h0M393.8 261.0h0M395.3 266.4h0M390.6 263.0h0M392.3 270.1h0M412.9 264.3h0M412.5 268.5h0M414.2 261.7h0M406.1 258.8h0M409.7 273.6h0M414.6 271.3h0M405.4 269.3h0M412.8 265.4h0M407.9 265.5h0M406.4 266.7h0M412.4 269.9h0M412.5 258.4h0M403.6 260.7h0M406.4 272.4h0M416.9 266.1h0M408.3 273.2h0M388.7 263.3h0M403.9 254.1h0M406.0 263.2h0M409.1 268.0h0M403.0 254.4h0M348.6 293.4h0M349.8 297.6h0M346.3 281.6h0M337.6 290.2h0M354.5 297.0h0M352.6 285.6h0M351.2 282.6h0M342.0 288.6h0M338.7 293.6h0M351.7 291.7h0M347.9 287.5h0M345.0 291.8h0M349.2 291.9h0M345.4 297.6h0M344.7 287.7h0M344.6 284.3h0M340.7 282.3h0M344.7 285.3h0M342.3 292.5h0M338.1 290.6h0M353.1 296.5h0M355.7 288.0h0M340.8 297.8h0M350.4 287.5h0M354.5 282.5h0M350.4 288.6h0M350.6 280.1h0M350.4 295.6h0M354.6 290.5h0M339.1 286.4h0M337.8 284.8h0M351.1 291.6h0M338.3 297.3h0M346.1 295.9h0" stroke="#d8434e" stroke-width="1.6" stroke-linecap="round" fill="none" opacity="0.92"/>
<path d="M374.2 257.1h0M364.8 259.8h0M377.6 260.2h0M373.4 259.4h0M422.3 250.6h0M420.9 253.5h0M395.5 240.9h0M414.3 240.4h0M409.5 238.7h0M412.9 240.1h0M409.9 252.0h0M400.6 270.8h0M407.8 271.9h0M405.9 255.8h0M393.2 259.5h0M395.8 253.3h0M398.3 252.9h0M399.7 263.6h0M411.4 265.4h0M401.8 257.0h0M396.9 256.9h0M396.3 270.6h0M400.7 270.2h0M400.9 264.4h0M405.2 251.9h0M409.6 256.1h0M407.6 246.7h0M406.1 257.4h0M339.9 288.2h0M341.3 281.8h0M346.5 285.8h0M352.3 292.0h0M348.6 291.1h0" stroke="#c8124f" stroke-width="1.6" stroke-linecap="round" fill="none" opacity="0.92"/>
<path d="M378.5 342.8h0M377.6 344.3h0" stroke="#9a6a50" stroke-width="1.6" stroke-linecap="round" fill="none" opacity="0.92"/>
<text x="381.1" y="20.6" font-size="9.0" text-anchor="middle" fill="#222">All cells</text>
<text x="380.4" y="31.2" font-size="9.0" text-anchor="middle" fill="#222" word-spacing="0.9">n = 28,941</text>
<text x="100.1" y="216.6" font-size="9.1" text-anchor="middle" fill="#222">All mutated cells</text>
<text x="98.1" y="226.3" font-size="9.0" text-anchor="middle" fill="#222" word-spacing="1.0">n = 2,004</text>
<text x="236.4" y="217" font-size="9.0" text-anchor="middle" fill="#222"><tspan font-style="italic">TET2</tspan>mt cells</text>
<text x="235.7" y="227" font-size="9.0" text-anchor="middle" fill="#222" word-spacing="0.8">n = 361</text>
<text x="376.2" y="217" font-size="9.5" text-anchor="middle" fill="#222"><tspan font-style="italic">DNMT3A</tspan>mt cells</text>
<text x="375.4" y="227" font-size="9.0" text-anchor="middle" fill="#222" word-spacing="0.8">n = 1,811</text>
<path d="M315.7 155.5V175.6H334.7" stroke="#111" stroke-width="1.25" fill="none"/>
<path d="M313.5 157.3L315.7 152.7L317.9 157.3z" fill="#111"/>
<path d="M332.9 173.4L337.5 175.6L332.9 177.79999999999998z" fill="#111"/>
<text transform="translate(310.3,163.9) rotate(-90) scale(0.64,1)" font-size="9.2" font-weight="bold" text-anchor="middle" fill="#222">UMAP-2</text>
<text transform="translate(314.7,186.4) scale(0.68,1)" font-size="8.7" font-weight="bold" fill="#222">UMAP-1</text>
<path d="M33.0 334.4V354.0H52.2" stroke="#111" stroke-width="1.25" fill="none"/>
<path d="M30.8 336.2L33.0 331.59999999999997L35.2 336.2z" fill="#111"/>
<path d="M50.400000000000006 351.8L55.0 354.0L50.400000000000006 356.2z" fill="#111"/>
<text transform="translate(27.6,342.3) rotate(-90) scale(0.64,1)" font-size="9.2" font-weight="bold" text-anchor="middle" fill="#222">UMAP-2</text>
<text transform="translate(32.0,364.4) scale(0.68,1)" font-size="8.7" font-weight="bold" fill="#222">UMAP-1</text>
<rect x="313.60" y="191.2" width="57.95" height="3" fill="#9fd0d2"/>
<rect x="371.50" y="191.2" width="21.25" height="3" fill="#bab4e1"/>
<rect x="392.70" y="191.2" width="16.95" height="3" fill="#ebedae"/>
<rect x="409.60" y="191.2" width="7.15" height="3" fill="#e3883a"/>
<rect x="416.70" y="191.2" width="11.65" height="3" fill="#d8434e"/>
<rect x="428.30" y="191.2" width="7.75" height="3" fill="#a9d9aa"/>
<rect x="436.00" y="191.2" width="8.05" height="3" fill="#c8124f"/>
<rect x="444.00" y="191.2" width="6.05" height="3" fill="#f3a7b1"/>
<rect x="450.00" y="191.2" width="3.85" height="3" fill="#b588c7"/>
<rect x="32.70" y="369.6" width="63.15" height="3" fill="#9fd0d2"/>
<rect x="95.80" y="369.6" width="23.45" height="3" fill="#bab4e1"/>
<rect x="119.20" y="369.6" width="10.05" height="3" fill="#ebedae"/>
<rect x="129.20" y="369.6" width="1.65" height="3" fill="#ffffff"/>
<rect x="130.80" y="369.6" width="6.15" height="3" fill="#c8124f"/>
<rect x="136.90" y="369.6" width="3.95" height="3" fill="#f3a7b1"/>
<rect x="140.80" y="369.6" width="2.25" height="3" fill="#d8d0d8"/>
<rect x="143.00" y="369.6" width="2.05" height="3" fill="#f3a7b1"/>
<rect x="145.00" y="369.6" width="3.05" height="3" fill="#a9d9aa"/>
<rect x="148.00" y="369.6" width="5.05" height="3" fill="#d8434e"/>
<rect x="153.00" y="369.6" width="4.35" height="3" fill="#b0a0a8"/>
<rect x="173.80" y="369.6" width="65.65" height="3" fill="#bab4e1"/>
<rect x="239.40" y="369.6" width="19.15" height="3" fill="#c8124f"/>
<rect x="258.50" y="369.6" width="13.85" height="3" fill="#ebedae"/>
<rect x="272.30" y="369.6" width="16.95" height="3" fill="#9fd0d2"/>
<rect x="289.20" y="369.6" width="3.05" height="3" fill="#e3883a"/>
<rect x="292.20" y="369.6" width="2.55" height="3" fill="#f3a7b1"/>
<rect x="294.70" y="369.6" width="3.85" height="3" fill="#b588c7"/>
<rect x="316.00" y="369.6" width="70.05" height="3" fill="#9fd0d2"/>
<rect x="386.00" y="369.6" width="17.05" height="3" fill="#bab4e1"/>
<rect x="403.00" y="369.6" width="10.85" height="3" fill="#ebedae"/>
<rect x="413.80" y="369.6" width="6.25" height="3" fill="#c8124f"/>
<rect x="420.00" y="369.6" width="3.55" height="3" fill="#f3a7b1"/>
<rect x="423.50" y="369.6" width="3.05" height="3" fill="#e3883a"/>
<rect x="426.50" y="369.6" width="3.05" height="3" fill="#a9d9aa"/>
<rect x="429.50" y="369.6" width="5.05" height="3" fill="#d8434e"/>
<rect x="434.50" y="369.6" width="3.05" height="3" fill="#f3a7b1"/>
<rect x="437.50" y="369.6" width="3.55" height="3" fill="#b588c7"/>
<circle cx="459.2" cy="41.10" r="3.1" fill="#9fd0d2" stroke="#7ca2a3" stroke-width="0.6"/>
<text x="465.4" y="43.90" font-size="7.2" fill="#222">CD4 T</text>
<circle cx="459.2" cy="50.70" r="3.1" fill="#d6a0d2" stroke="#a67ca3" stroke-width="0.6"/>
<text x="465.4" y="53.50" font-size="7.2" fill="#222">Treg</text>
<circle cx="459.2" cy="60.30" r="3.1" fill="#a9d9aa" stroke="#83a984" stroke-width="0.6"/>
<text x="465.4" y="63.10" font-size="7.2" fill="#222">CD8 T</text>
<circle cx="459.2" cy="69.90" r="3.1" fill="#d8434e" stroke="#a8343c" stroke-width="0.6"/>
<text x="465.4" y="72.70" font-size="7.2" fill="#222">gdT</text>
<circle cx="459.2" cy="79.50" r="3.1" fill="#f3a7b1" stroke="#bd828a" stroke-width="0.6"/>
<text x="465.4" y="82.30" font-size="7.2" fill="#222">MAIT</text>
<circle cx="459.2" cy="89.10" r="3.1" fill="#ebedae" stroke="#b7b887" stroke-width="0.6"/>
<text x="465.4" y="91.90" font-size="7.2" fill="#222">NK</text>
<circle cx="459.2" cy="98.70" r="3.1" fill="#e3883a" stroke="#b16a2d" stroke-width="0.6"/>
<text x="465.4" y="101.50" font-size="7.2" fill="#222">B</text>
<circle cx="459.2" cy="108.30" r="3.1" fill="#3c9f45" stroke="#2e7c35" stroke-width="0.6"/>
<text x="465.4" y="111.10" font-size="7.2" fill="#222">Plasmablast</text>
<circle cx="459.2" cy="117.90" r="3.1" fill="#bab4e1" stroke="#918caf" stroke-width="0.6"/>
<text x="465.4" y="120.70" font-size="7.2" fill="#222">CD14 Mono</text>
<circle cx="459.2" cy="127.50" r="3.1" fill="#f8c6a3" stroke="#c19a7f" stroke-width="0.6"/>
<text x="465.4" y="130.30" font-size="7.2" fill="#222">CD16 Mono</text>
<circle cx="459.2" cy="137.10" r="3.1" fill="#c8124f" stroke="#9c0e3d" stroke-width="0.6"/>
<text x="465.4" y="139.90" font-size="7.2" fill="#222">Int Mono</text>
<circle cx="459.2" cy="146.70" r="3.1" fill="#62a2dc" stroke="#4c7eab" stroke-width="0.6"/>
<text x="465.4" y="149.50" font-size="7.2" fill="#222">cDC</text>
<circle cx="459.2" cy="156.30" r="3.1" fill="#eec212" stroke="#b9970e" stroke-width="0.6"/>
<text x="465.4" y="159.10" font-size="7.2" fill="#222">pDC</text>
<circle cx="459.2" cy="165.90" r="3.1" fill="#b588c7" stroke="#8d6a9b" stroke-width="0.6"/>
<text x="465.4" y="168.70" font-size="7.2" fill="#222">HSPC</text>
<circle cx="453.0" cy="230.80" r="3.1" fill="#9fd0d2" stroke="#7ca2a3" stroke-width="0.6"/>
<text x="459.7" y="233.60" font-size="7.2" fill="#222">CD4 T</text>
<circle cx="453.0" cy="240.35" r="3.1" fill="#d6a0d2" stroke="#a67ca3" stroke-width="0.6"/>
<text x="459.7" y="243.15" font-size="7.2" fill="#222">Treg</text>
<circle cx="453.0" cy="249.90" r="3.1" fill="#a9d9aa" stroke="#83a984" stroke-width="0.6"/>
<text x="459.7" y="252.70" font-size="7.2" fill="#222">CD8 T</text>
<circle cx="453.0" cy="259.45" r="3.1" fill="#d8434e" stroke="#a8343c" stroke-width="0.6"/>
<text x="459.7" y="262.25" font-size="7.2" fill="#222">gdT</text>
<circle cx="453.0" cy="269.00" r="3.1" fill="#f3a7b1" stroke="#bd828a" stroke-width="0.6"/>
<text x="459.7" y="271.80" font-size="7.2" fill="#222">MAIT</text>
<circle cx="453.0" cy="278.55" r="3.1" fill="#ebedae" stroke="#b7b887" stroke-width="0.6"/>
<text x="459.7" y="281.35" font-size="7.2" fill="#222">NK</text>
<circle cx="453.0" cy="288.10" r="3.1" fill="#e3883a" stroke="#b16a2d" stroke-width="0.6"/>
<text x="459.7" y="290.90" font-size="7.2" fill="#222">B</text>
<circle cx="453.0" cy="297.65" r="3.1" fill="#3c9f45" stroke="#2e7c35" stroke-width="0.6"/>
<text x="459.7" y="300.45" font-size="7.2" fill="#222">Plasmablast</text>
<circle cx="453.0" cy="307.20" r="3.1" fill="#bab4e1" stroke="#918caf" stroke-width="0.6"/>
<text x="459.7" y="310.00" font-size="7.2" fill="#222">CD14 Mono</text>
<circle cx="453.0" cy="316.75" r="3.1" fill="#f8c6a3" stroke="#c19a7f" stroke-width="0.6"/>
<text x="459.7" y="319.55" font-size="7.2" fill="#222">CD16 Mono</text>
<circle cx="453.0" cy="326.30" r="3.1" fill="#c8124f" stroke="#9c0e3d" stroke-width="0.6"/>
<text x="459.7" y="329.10" font-size="7.2" fill="#222">Int Mono</text>
<circle cx="453.0" cy="335.85" r="3.1" fill="#62a2dc" stroke="#4c7eab" stroke-width="0.6"/>
<text x="459.7" y="338.65" font-size="7.2" fill="#222">cDC</text>
<circle cx="453.0" cy="345.40" r="3.1" fill="#eec212" stroke="#b9970e" stroke-width="0.6"/>
<text x="459.7" y="348.20" font-size="7.2" fill="#222">pDC</text>
<circle cx="453.0" cy="354.95" r="3.1" fill="#b588c7" stroke="#8d6a9b" stroke-width="0.6"/>
<text x="459.7" y="357.75" font-size="7.2" fill="#222">HSPC</text>
<text x="151.5" y="397.2" font-size="9.1" text-anchor="middle" fill="#222">Cells grouped by sample genotype</text>
<rect x="73.50" y="405.3" width="60.50" height="13.8" fill="#9fd0d2" stroke="#3a3a3a" stroke-width="0.7"/>
<rect x="134.00" y="405.3" width="2.20" height="13.8" fill="#d6a0d2" stroke="#3a3a3a" stroke-width="0.7"/>
<rect x="136.20" y="405.3" width="1.80" height="13.8" fill="#f2e2e8" stroke="#3a3a3a" stroke-width="0.7"/>
<rect x="138.00" y="405.3" width="10.70" height="13.8" fill="#a9d9aa" stroke="#3a3a3a" stroke-width="0.7"/>
<rect x="148.70" y="405.3" width="12.60" height="13.8" fill="#d8434e" stroke="#3a3a3a" stroke-width="0.7"/>
<rect x="161.30" y="405.3" width="2.00" height="13.8" fill="#f3a7b1" stroke="#3a3a3a" stroke-width="0.7"/>
<rect x="163.30" y="405.3" width="24.20" height="13.8" fill="#ebedae" stroke="#3a3a3a" stroke-width="0.7"/>
<rect x="187.50" y="405.3" width="15.50" height="13.8" fill="#e3883a" stroke="#3a3a3a" stroke-width="0.7"/>
<rect x="203.00" y="405.3" width="22.20" height="13.8" fill="#bab4e1" stroke="#3a3a3a" stroke-width="0.7"/>
<rect x="225.20" y="405.3" width="2.50" height="13.8" fill="#f8c6a3" stroke="#3a3a3a" stroke-width="0.7"/>
<rect x="227.70" y="405.3" width="8.10" height="13.8" fill="#c8124f" stroke="#3a3a3a" stroke-width="0.7"/>
<rect x="73.5" y="419.7" width="130.50" height="6.2" fill="#f5e01e" stroke="#3a3a3a" stroke-width="0.7"/>
<rect x="204.00" y="419.7" width="31.80" height="6.2" fill="#7b300c" stroke="#3a3a3a" stroke-width="0.7"/>
<text x="139.7" y="424.4" font-size="6.0" text-anchor="middle" fill="#4e4200">Lymphoid cells</text>
<line x1="69.0" y1="415.5" x2="73.5" y2="415.5" stroke="#222" stroke-width="0.8"/>
<text x="67.0" y="415.6" font-size="7.55" text-anchor="end" fill="#333">CH–</text>
<text x="67.0" y="422.9" font-size="7.35" text-anchor="end" fill="#333">Samples</text>
<text x="261.8" y="417.6" font-size="7.15" text-anchor="end" fill="#333">17,553</text>
<rect x="73.50" y="428.7" width="6.70" height="13.8" fill="#9fd0d2" stroke="#3a3a3a" stroke-width="0.7"/>
<rect x="80.20" y="428.7" width="1.70" height="13.8" fill="#3f7f55" stroke="#3a3a3a" stroke-width="0.7"/>
<rect x="81.90" y="428.7" width="1.70" height="13.8" fill="#f3e6ea" stroke="#3a3a3a" stroke-width="0.7"/>
<rect x="83.60" y="428.7" width="3.70" height="13.8" fill="#d8434e" stroke="#3a3a3a" stroke-width="0.7"/>
<rect x="87.30" y="428.7" width="2.10" height="13.8" fill="#f3a7b1" stroke="#3a3a3a" stroke-width="0.7"/>
<rect x="89.40" y="428.7" width="13.50" height="13.8" fill="#ebedae" stroke="#3a3a3a" stroke-width="0.7"/>
<rect x="102.90" y="428.7" width="3.40" height="13.8" fill="#e3883a" stroke="#3a3a3a" stroke-width="0.7"/>
<rect x="106.30" y="428.7" width="94.70" height="13.8" fill="#bab4e1" stroke="#3a3a3a" stroke-width="0.7"/>
<rect x="201.00" y="428.7" width="5.20" height="13.8" fill="#f8c6a3" stroke="#3a3a3a" stroke-width="0.7"/>
<rect x="206.20" y="428.7" width="28.60" height="13.8" fill="#c8124f" stroke="#3a3a3a" stroke-width="0.7"/>
<rect x="234.80" y="428.7" width="1.00" height="13.8" fill="#62a2dc" stroke="#3a3a3a" stroke-width="0.7"/>
<rect x="73.5" y="443.09999999999997" width="32.50" height="6.2" fill="#f5e01e" stroke="#3a3a3a" stroke-width="0.7"/>
<rect x="106.00" y="443.09999999999997" width="129.80" height="6.2" fill="#7b300c" stroke="#3a3a3a" stroke-width="0.7"/>
<text x="164.0" y="447.8" font-size="6.0" text-anchor="middle" fill="#f7d3a4">Myeloid cells</text>
<line x1="69.0" y1="438.9" x2="73.5" y2="438.9" stroke="#222" stroke-width="0.8"/>
<text x="67.0" y="437.1" font-size="7.55" text-anchor="end" fill="#333"><tspan font-style="italic">TET2</tspan>mt CH</text>
<text x="67.0" y="445.0" font-size="7.35" text-anchor="end" fill="#333">Samples</text>
<text x="261.8" y="441.0" font-size="7.15" text-anchor="end" fill="#333">2,598</text>
<rect x="73.50" y="452.2" width="100.70" height="13.8" fill="#9fd0d2" stroke="#3a3a3a" stroke-width="0.7"/>
<rect x="174.20" y="452.2" width="1.60" height="13.8" fill="#7e6a8a" stroke="#3a3a3a" stroke-width="0.7"/>
<rect x="175.80" y="452.2" width="5.30" height="13.8" fill="#d6a0d2" stroke="#3a3a3a" stroke-width="0.7"/>
<rect x="181.10" y="452.2" width="1.10" height="13.8" fill="#efe6ee" stroke="#3a3a3a" stroke-width="0.7"/>
<rect x="182.20" y="452.2" width="6.40" height="13.8" fill="#a9d9aa" stroke="#3a3a3a" stroke-width="0.7"/>
<rect x="188.60" y="452.2" width="7.80" height="13.8" fill="#d8434e" stroke="#3a3a3a" stroke-width="0.7"/>
<rect x="196.40" y="452.2" width="2.20" height="13.8" fill="#f3a7b1" stroke="#3a3a3a" stroke-width="0.7"/>
<rect x="198.60" y="452.2" width="1.60" height="13.8" fill="#f4eee0" stroke="#3a3a3a" stroke-width="0.7"/>
<rect x="200.20" y="452.2" width="11.20" height="13.8" fill="#ebedae" stroke="#3a3a3a" stroke-width="0.7"/>
<rect x="211.40" y="452.2" width="6.60" height="13.8" fill="#e3883a" stroke="#3a3a3a" stroke-width="0.7"/>
<rect x="218.00" y="452.2" width="1.00" height="13.8" fill="#3c9f45" stroke="#3a3a3a" stroke-width="0.7"/>
<rect x="219.00" y="452.2" width="9.70" height="13.8" fill="#bab4e1" stroke="#3a3a3a" stroke-width="0.7"/>
<rect x="228.70" y="452.2" width="3.50" height="13.8" fill="#c8124f" stroke="#3a3a3a" stroke-width="0.7"/>
<rect x="232.20" y="452.2" width="1.80" height="13.8" fill="#62a2dc" stroke="#3a3a3a" stroke-width="0.7"/>
<rect x="234.00" y="452.2" width="1.80" height="13.8" fill="#b588c7" stroke="#3a3a3a" stroke-width="0.7"/>
<rect x="73.5" y="466.59999999999997" width="145.70" height="6.2" fill="#f5e01e" stroke="#3a3a3a" stroke-width="0.7"/>
<rect x="219.20" y="466.59999999999997" width="16.60" height="6.2" fill="#7b300c" stroke="#3a3a3a" stroke-width="0.7"/>
<text x="145.0" y="471.3" font-size="6.0" text-anchor="middle" fill="#4e4200">Lymphoid cells</text>
<line x1="69.0" y1="462.4" x2="73.5" y2="462.4" stroke="#222" stroke-width="0.8"/>
<text x="67.0" y="458.2" font-size="7.55" text-anchor="end" fill="#333"><tspan font-style="italic">DNMT3A</tspan>mt CH</text>
<text x="67.0" y="466.3" font-size="7.35" text-anchor="end" fill="#333">Samples</text>
<text x="261.8" y="464.5" font-size="7.15" text-anchor="end" fill="#333">5,990</text>
<rect x="73.50" y="475.4" width="90.00" height="13.8" fill="#9fd0d2" stroke="#3a3a3a" stroke-width="0.7"/>
<rect x="163.50" y="475.4" width="4.00" height="13.8" fill="#d6a0d2" stroke="#3a3a3a" stroke-width="0.7"/>
<rect x="167.50" y="475.4" width="6.70" height="13.8" fill="#a9d9aa" stroke="#3a3a3a" stroke-width="0.7"/>
<rect x="174.20" y="475.4" width="5.60" height="13.8" fill="#d8434e" stroke="#3a3a3a" stroke-width="0.7"/>
<rect x="179.80" y="475.4" width="1.30" height="13.8" fill="#f3a7b1" stroke="#3a3a3a" stroke-width="0.7"/>
<rect x="181.10" y="475.4" width="9.00" height="13.8" fill="#ebedae" stroke="#3a3a3a" stroke-width="0.7"/>
<rect x="190.10" y="475.4" width="4.20" height="13.8" fill="#e3883a" stroke="#3a3a3a" stroke-width="0.7"/>
<rect x="194.30" y="475.4" width="29.30" height="13.8" fill="#bab4e1" stroke="#3a3a3a" stroke-width="0.7"/>
<rect x="223.60" y="475.4" width="1.70" height="13.8" fill="#f8c6a3" stroke="#3a3a3a" stroke-width="0.7"/>
<rect x="225.30" y="475.4" width="9.50" height="13.8" fill="#c8124f" stroke="#3a3a3a" stroke-width="0.7"/>
<rect x="234.80" y="475.4" width="1.00" height="13.8" fill="#bab4e1" stroke="#3a3a3a" stroke-width="0.7"/>
<rect x="73.5" y="489.79999999999995" width="121.80" height="6.2" fill="#f5e01e" stroke="#3a3a3a" stroke-width="0.7"/>
<rect x="195.30" y="489.79999999999995" width="40.50" height="6.2" fill="#7b300c" stroke="#3a3a3a" stroke-width="0.7"/>
<text x="135.2" y="494.5" font-size="6.0" text-anchor="middle" fill="#4e4200">Lymphoid cells</text>
<line x1="69.0" y1="485.59999999999997" x2="73.5" y2="485.59999999999997" stroke="#222" stroke-width="0.8"/>
<text x="67.0" y="483.4" font-size="7.55" text-anchor="end" fill="#333">Comutant CH</text>
<text x="67.0" y="491.4" font-size="7.35" text-anchor="end" fill="#333">Sample</text>
<text x="261.8" y="487.7" font-size="7.15" text-anchor="end" fill="#333">2,800</text>
<path d="M73.5 403.8V496.6H235.8" stroke="#111" stroke-width="0.9" fill="none"/>
<line x1="73.50" y1="496.6" x2="73.50" y2="499.3" stroke="#111" stroke-width="0.8"/>
<text x="73.50" y="509.2" font-size="7.6" text-anchor="middle" fill="#333">0.00</text>
<line x1="114.08" y1="496.6" x2="114.08" y2="499.3" stroke="#111" stroke-width="0.8"/>
<text x="114.08" y="509.2" font-size="7.6" text-anchor="middle" fill="#333">0.25</text>
<line x1="154.65" y1="496.6" x2="154.65" y2="499.3" stroke="#111" stroke-width="0.8"/>
<text x="154.65" y="509.2" font-size="7.6" text-anchor="middle" fill="#333">0.50</text>
<line x1="195.23" y1="496.6" x2="195.23" y2="499.3" stroke="#111" stroke-width="0.8"/>
<text x="195.23" y="509.2" font-size="7.6" text-anchor="middle" fill="#333">0.75</text>
<line x1="235.80" y1="496.6" x2="235.80" y2="499.3" stroke="#111" stroke-width="0.8"/>
<text x="235.80" y="509.2" font-size="7.6" text-anchor="middle" fill="#333">1.00</text>
<text transform="translate(154.75,521.5) scale(0.705,1)" font-size="8.4" font-weight="bold" text-anchor="middle" fill="#222">Cell type proportion</text>
<text x="406.5" y="397.2" font-size="9.1" text-anchor="middle" fill="#222">Cells grouped by cell genotype</text>
<rect x="324.30" y="405.3" width="65.70" height="13.8" fill="#9fd0d2" stroke="#3a3a3a" stroke-width="0.7"/>
<rect x="390.00" y="405.3" width="3.50" height="13.8" fill="#d6a0d2" stroke="#3a3a3a" stroke-width="0.7"/>
<rect x="393.50" y="405.3" width="9.40" height="13.8" fill="#a9d9aa" stroke="#3a3a3a" stroke-width="0.7"/>
<rect x="402.90" y="405.3" width="10.60" height="13.8" fill="#d8434e" stroke="#3a3a3a" stroke-width="0.7"/>
<rect x="413.50" y="405.3" width="2.10" height="13.8" fill="#f3a7b1" stroke="#3a3a3a" stroke-width="0.7"/>
<rect x="415.60" y="405.3" width="19.90" height="13.8" fill="#ebedae" stroke="#3a3a3a" stroke-width="0.7"/>
<rect x="435.50" y="405.3" width="12.10" height="13.8" fill="#e3883a" stroke="#3a3a3a" stroke-width="0.7"/>
<rect x="447.60" y="405.3" width="25.90" height="13.8" fill="#bab4e1" stroke="#3a3a3a" stroke-width="0.7"/>
<rect x="473.50" y="405.3" width="2.10" height="13.8" fill="#f8c6a3" stroke="#3a3a3a" stroke-width="0.7"/>
<rect x="475.60" y="405.3" width="9.20" height="13.8" fill="#c8124f" stroke="#3a3a3a" stroke-width="0.7"/>
<rect x="484.80" y="405.3" width="1.80" height="13.8" fill="#8a90b0" stroke="#3a3a3a" stroke-width="0.7"/>
<rect x="324.3" y="419.7" width="123.80" height="6.2" fill="#f5e01e" stroke="#3a3a3a" stroke-width="0.7"/>
<rect x="448.10" y="419.7" width="38.50" height="6.2" fill="#7b300c" stroke="#3a3a3a" stroke-width="0.7"/>
<text x="391.2" y="424.4" font-size="6.0" text-anchor="middle" fill="#4e4200">Lymphoid cells</text>
<line x1="319.8" y1="415.5" x2="324.3" y2="415.5" stroke="#222" stroke-width="0.8"/>
<text x="317.8" y="415.6" font-size="7.55" text-anchor="end" fill="#333">WT</text>
<text x="317.8" y="422.9" font-size="7.35" text-anchor="end" fill="#333">Cells</text>
<text x="512.8" y="417.6" font-size="7.15" text-anchor="end" fill="#333">26,937</text>
<rect x="324.30" y="428.7" width="9.50" height="13.8" fill="#9fd0d2" stroke="#3a3a3a" stroke-width="0.7"/>
<rect x="333.80" y="428.7" width="3.20" height="13.8" fill="#5a4a3a" stroke="#3a3a3a" stroke-width="0.7"/>
<rect x="337.00" y="428.7" width="18.50" height="13.8" fill="#ebedae" stroke="#3a3a3a" stroke-width="0.7"/>
<rect x="355.50" y="428.7" width="1.90" height="13.8" fill="#8a5a30" stroke="#3a3a3a" stroke-width="0.7"/>
<rect x="357.40" y="428.7" width="94.20" height="13.8" fill="#bab4e1" stroke="#3a3a3a" stroke-width="0.7"/>
<rect x="451.60" y="428.7" width="4.60" height="13.8" fill="#f8c6a3" stroke="#3a3a3a" stroke-width="0.7"/>
<rect x="456.20" y="428.7" width="28.60" height="13.8" fill="#c8124f" stroke="#3a3a3a" stroke-width="0.7"/>
<rect x="484.80" y="428.7" width="1.80" height="13.8" fill="#555" stroke="#3a3a3a" stroke-width="0.7"/>
<rect x="324.3" y="443.09999999999997" width="32.40" height="6.2" fill="#f5e01e" stroke="#3a3a3a" stroke-width="0.7"/>
<rect x="356.70" y="443.09999999999997" width="129.90" height="6.2" fill="#7b300c" stroke="#3a3a3a" stroke-width="0.7"/>
<text x="415.2" y="447.8" font-size="6.0" text-anchor="middle" fill="#f7d3a4">Myeloid cells</text>
<line x1="319.8" y1="438.9" x2="324.3" y2="438.9" stroke="#222" stroke-width="0.8"/>
<text x="317.8" y="437.1" font-size="7.55" text-anchor="end" fill="#333"><tspan font-style="italic">TET2</tspan>mt</text>
<text x="317.8" y="445.0" font-size="7.35" text-anchor="end" fill="#333">Cells</text>
<text x="512.8" y="441.0" font-size="7.15" text-anchor="end" fill="#333">193</text>
<rect x="324.30" y="452.2" width="97.80" height="13.8" fill="#9fd0d2" stroke="#3a3a3a" stroke-width="0.7"/>
<rect x="422.10" y="452.2" width="4.70" height="13.8" fill="#d6a0d2" stroke="#3a3a3a" stroke-width="0.7"/>
<rect x="426.80" y="452.2" width="5.20" height="13.8" fill="#a9d9aa" stroke="#3a3a3a" stroke-width="0.7"/>
<rect x="432.00" y="452.2" width="4.70" height="13.8" fill="#d8434e" stroke="#3a3a3a" stroke-width="0.7"/>
<rect x="436.70" y="452.2" width="1.80" height="13.8" fill="#f3a7b1" stroke="#3a3a3a" stroke-width="0.7"/>
<rect x="438.50" y="452.2" width="12.50" height="13.8" fill="#ebedae" stroke="#3a3a3a" stroke-width="0.7"/>
<rect x="451.00" y="452.2" width="5.20" height="13.8" fill="#e3883a" stroke="#3a3a3a" stroke-width="0.7"/>
<rect x="456.20" y="452.2" width="1.30" height="13.8" fill="#555" stroke="#3a3a3a" stroke-width="0.7"/>
<rect x="457.50" y="452.2" width="17.20" height="13.8" fill="#bab4e1" stroke="#3a3a3a" stroke-width="0.7"/>
<rect x="474.70" y="452.2" width="7.50" height="13.8" fill="#c8124f" stroke="#3a3a3a" stroke-width="0.7"/>
<rect x="482.20" y="452.2" width="4.40" height="13.8" fill="#b588c7" stroke="#3a3a3a" stroke-width="0.7"/>
<rect x="324.3" y="466.59999999999997" width="132.80" height="6.2" fill="#f5e01e" stroke="#3a3a3a" stroke-width="0.7"/>
<rect x="457.10" y="466.59999999999997" width="29.50" height="6.2" fill="#7b300c" stroke="#3a3a3a" stroke-width="0.7"/>
<text x="391.2" y="471.3" font-size="6.0" text-anchor="middle" fill="#4e4200">Lymphoid cells</text>
<line x1="319.8" y1="462.4" x2="324.3" y2="462.4" stroke="#222" stroke-width="0.8"/>
<text x="317.8" y="458.2" font-size="7.55" text-anchor="end" fill="#333"><tspan font-style="italic">DNMT3A</tspan>mt</text>
<text x="317.8" y="466.3" font-size="7.35" text-anchor="end" fill="#333">Cells</text>
<text x="512.8" y="464.5" font-size="7.15" text-anchor="end" fill="#333">1,643</text>
<rect x="324.30" y="475.4" width="28.60" height="13.8" fill="#9fd0d2" stroke="#3a3a3a" stroke-width="0.7"/>
<rect x="352.90" y="475.4" width="2.10" height="13.8" fill="#b0a0a8" stroke="#3a3a3a" stroke-width="0.7"/>
<rect x="355.00" y="475.4" width="1.80" height="13.8" fill="#8a7a80" stroke="#3a3a3a" stroke-width="0.7"/>
<rect x="356.80" y="475.4" width="1.80" height="13.8" fill="#5a4a40" stroke="#3a3a3a" stroke-width="0.7"/>
<rect x="358.60" y="475.4" width="21.10" height="13.8" fill="#ebedae" stroke="#3a3a3a" stroke-width="0.7"/>
<rect x="379.70" y="475.4" width="4.30" height="13.8" fill="#e3883a" stroke="#3a3a3a" stroke-width="0.7"/>
<rect x="384.00" y="475.4" width="75.70" height="13.8" fill="#bab4e1" stroke="#3a3a3a" stroke-width="0.7"/>
<rect x="459.70" y="475.4" width="4.00" height="13.8" fill="#f8c6a3" stroke="#3a3a3a" stroke-width="0.7"/>
<rect x="463.70" y="475.4" width="19.70" height="13.8" fill="#c8124f" stroke="#3a3a3a" stroke-width="0.7"/>
<rect x="483.40" y="475.4" width="3.20" height="13.8" fill="#b588c7" stroke="#3a3a3a" stroke-width="0.7"/>
<rect x="324.3" y="489.79999999999995" width="59.70" height="6.2" fill="#f5e01e" stroke="#3a3a3a" stroke-width="0.7"/>
<rect x="384.00" y="489.79999999999995" width="102.60" height="6.2" fill="#7b300c" stroke="#3a3a3a" stroke-width="0.7"/>
<text x="436.3" y="494.5" font-size="6.0" text-anchor="middle" fill="#f7d3a4">Myeloid cells</text>
<line x1="319.8" y1="485.59999999999997" x2="324.3" y2="485.59999999999997" stroke="#222" stroke-width="0.8"/>
<text x="317.8" y="483.4" font-size="7.55" text-anchor="end" fill="#333">Comutant</text>
<text x="317.8" y="491.4" font-size="7.35" text-anchor="end" fill="#333">Cells</text>
<text x="512.8" y="487.7" font-size="7.15" text-anchor="end" fill="#333">168</text>
<path d="M324.3 403.8V496.6H486.6" stroke="#111" stroke-width="0.9" fill="none"/>
<line x1="324.30" y1="496.6" x2="324.30" y2="499.3" stroke="#111" stroke-width="0.8"/>
<text x="324.30" y="509.2" font-size="7.6" text-anchor="middle" fill="#333">0.00</text>
<line x1="364.88" y1="496.6" x2="364.88" y2="499.3" stroke="#111" stroke-width="0.8"/>
<text x="364.88" y="509.2" font-size="7.6" text-anchor="middle" fill="#333">0.25</text>
<line x1="405.45" y1="496.6" x2="405.45" y2="499.3" stroke="#111" stroke-width="0.8"/>
<text x="405.45" y="509.2" font-size="7.6" text-anchor="middle" fill="#333">0.50</text>
<line x1="446.03" y1="496.6" x2="446.03" y2="499.3" stroke="#111" stroke-width="0.8"/>
<text x="446.03" y="509.2" font-size="7.6" text-anchor="middle" fill="#333">0.75</text>
<line x1="486.60" y1="496.6" x2="486.60" y2="499.3" stroke="#111" stroke-width="0.8"/>
<text x="486.60" y="509.2" font-size="7.6" text-anchor="middle" fill="#333">1.00</text>
<text transform="translate(405.55000000000007,521.5) scale(0.705,1)" font-size="8.4" font-weight="bold" text-anchor="middle" fill="#222">Cell type proportion</text>
<rect x="46.20" y="541.00" width="7.4" height="7.4" fill="#9fd0d2" stroke="#5f7c7e" stroke-width="0.7"/>
<text x="56.80" y="547.30" font-size="7.0" fill="#222">CD4 T</text>
<rect x="46.20" y="550.15" width="7.4" height="7.4" fill="#d6a0d2" stroke="#80607e" stroke-width="0.7"/>
<text x="56.80" y="556.45" font-size="7.0" fill="#222">Treg</text>
<rect x="46.20" y="559.30" width="7.4" height="7.4" fill="#a9d9aa" stroke="#658266" stroke-width="0.7"/>
<text x="56.80" y="565.60" font-size="7.0" fill="#222">CD8 T</text>
<rect x="46.20" y="568.45" width="7.4" height="7.4" fill="#d8434e" stroke="#81282e" stroke-width="0.7"/>
<text x="56.80" y="574.75" font-size="7.0" fill="#222">gdT</text>
<rect x="84.60" y="541.00" width="7.4" height="7.4" fill="#f3a7b1" stroke="#91646a" stroke-width="0.7"/>
<text x="95.20" y="547.30" font-size="7.0" fill="#222">MAIT</text>
<rect x="84.60" y="550.15" width="7.4" height="7.4" fill="#ebedae" stroke="#8d8e68" stroke-width="0.7"/>
<text x="95.20" y="556.45" font-size="7.0" fill="#222">NK</text>
<rect x="84.60" y="559.30" width="7.4" height="7.4" fill="#e3883a" stroke="#885122" stroke-width="0.7"/>
<text x="95.20" y="565.60" font-size="7.0" fill="#222">B</text>
<rect x="84.60" y="568.45" width="7.4" height="7.4" fill="#3c9f45" stroke="#245f29" stroke-width="0.7"/>
<text x="95.20" y="574.75" font-size="7.0" fill="#222">Plasmablast</text>
<rect x="139.20" y="541.00" width="7.4" height="7.4" fill="#bab4e1" stroke="#6f6c87" stroke-width="0.7"/>
<text x="149.80" y="547.30" font-size="7.0" fill="#222">CD14 Mono</text>
<rect x="139.20" y="550.15" width="7.4" height="7.4" fill="#f8c6a3" stroke="#947661" stroke-width="0.7"/>
<text x="149.80" y="556.45" font-size="7.0" fill="#222">CD16 Mono</text>
<rect x="139.20" y="559.30" width="7.4" height="7.4" fill="#c8124f" stroke="#780a2f" stroke-width="0.7"/>
<text x="149.80" y="565.60" font-size="7.0" fill="#222">Int Mono</text>
<rect x="139.20" y="568.45" width="7.4" height="7.4" fill="#62a2dc" stroke="#3a6184" stroke-width="0.7"/>
<text x="149.80" y="574.75" font-size="7.0" fill="#222">cDC</text>
<rect x="195.80" y="541.00" width="7.4" height="7.4" fill="#eec212" stroke="#8e740a" stroke-width="0.7"/>
<text x="206.40" y="547.30" font-size="7.0" fill="#222">pDC</text>
<rect x="195.80" y="550.15" width="7.4" height="7.4" fill="#b588c7" stroke="#6c5177" stroke-width="0.7"/>
<text x="206.40" y="556.45" font-size="7.0" fill="#222">HSPC</text>
<rect x="195.80" y="559.30" width="7.4" height="7.4" fill="#3b5db2" stroke="#23376a" stroke-width="0.7"/>
<text x="206.40" y="565.60" font-size="7.0" fill="#222">Neutrophils</text>
<rect x="195.80" y="568.45" width="7.4" height="7.4" fill="#111111" stroke="#0a0a0a" stroke-width="0.7"/>
<text x="206.40" y="574.75" font-size="7.0" fill="#222">Basophils</text>
<rect x="310.30" y="541.00" width="7.4" height="7.4" fill="#9fd0d2" stroke="#5f7c7e" stroke-width="0.7"/>
<text x="320.90" y="547.30" font-size="7.0" fill="#222">CD4 T</text>
<rect x="310.30" y="550.15" width="7.4" height="7.4" fill="#d6a0d2" stroke="#80607e" stroke-width="0.7"/>
<text x="320.90" y="556.45" font-size="7.0" fill="#222">Treg</text>
<rect x="310.30" y="559.30" width="7.4" height="7.4" fill="#a9d9aa" stroke="#658266" stroke-width="0.7"/>
<text x="320.90" y="565.60" font-size="7.0" fill="#222">CD8 T</text>
<rect x="310.30" y="568.45" width="7.4" height="7.4" fill="#d8434e" stroke="#81282e" stroke-width="0.7"/>
<text x="320.90" y="574.75" font-size="7.0" fill="#222">gdT</text>
<rect x="348.70" y="541.00" width="7.4" height="7.4" fill="#f3a7b1" stroke="#91646a" stroke-width="0.7"/>
<text x="359.30" y="547.30" font-size="7.0" fill="#222">MAIT</text>
<rect x="348.70" y="550.15" width="7.4" height="7.4" fill="#ebedae" stroke="#8d8e68" stroke-width="0.7"/>
<text x="359.30" y="556.45" font-size="7.0" fill="#222">NK</text>
<rect x="348.70" y="559.30" width="7.4" height="7.4" fill="#e3883a" stroke="#885122" stroke-width="0.7"/>
<text x="359.30" y="565.60" font-size="7.0" fill="#222">B</text>
<rect x="348.70" y="568.45" width="7.4" height="7.4" fill="#3c9f45" stroke="#245f29" stroke-width="0.7"/>
<text x="359.30" y="574.75" font-size="7.0" fill="#222">Plasmablast</text>
<rect x="403.30" y="541.00" width="7.4" height="7.4" fill="#bab4e1" stroke="#6f6c87" stroke-width="0.7"/>
<text x="413.90" y="547.30" font-size="7.0" fill="#222">CD14 Mono</text>
<rect x="403.30" y="550.15" width="7.4" height="7.4" fill="#f8c6a3" stroke="#947661" stroke-width="0.7"/>
<text x="413.90" y="556.45" font-size="7.0" fill="#222">CD16 Mono</text>
<rect x="403.30" y="559.30" width="7.4" height="7.4" fill="#c8124f" stroke="#780a2f" stroke-width="0.7"/>
<text x="413.90" y="565.60" font-size="7.0" fill="#222">Int Mono</text>
<rect x="403.30" y="568.45" width="7.4" height="7.4" fill="#62a2dc" stroke="#3a6184" stroke-width="0.7"/>
<text x="413.90" y="574.75" font-size="7.0" fill="#222">cDC</text>
<rect x="459.90" y="541.00" width="7.4" height="7.4" fill="#eec212" stroke="#8e740a" stroke-width="0.7"/>
<text x="470.50" y="547.30" font-size="7.0" fill="#222">pDC</text>
<rect x="459.90" y="550.15" width="7.4" height="7.4" fill="#b588c7" stroke="#6c5177" stroke-width="0.7"/>
<text x="470.50" y="556.45" font-size="7.0" fill="#222">HSPC</text>
<rect x="459.90" y="559.30" width="7.4" height="7.4" fill="#3b5db2" stroke="#23376a" stroke-width="0.7"/>
<text x="470.50" y="565.60" font-size="7.0" fill="#222">Neutrophils</text>
<rect x="459.90" y="568.45" width="7.4" height="7.4" fill="#111111" stroke="#0a0a0a" stroke-width="0.7"/>
<text x="470.50" y="574.75" font-size="7.0" fill="#222">Basophils</text>
<rect x="0.5" y="0.5" width="519" height="582" fill="none" stroke="#5e5e5e" stroke-width="1"/></svg></body></html>
